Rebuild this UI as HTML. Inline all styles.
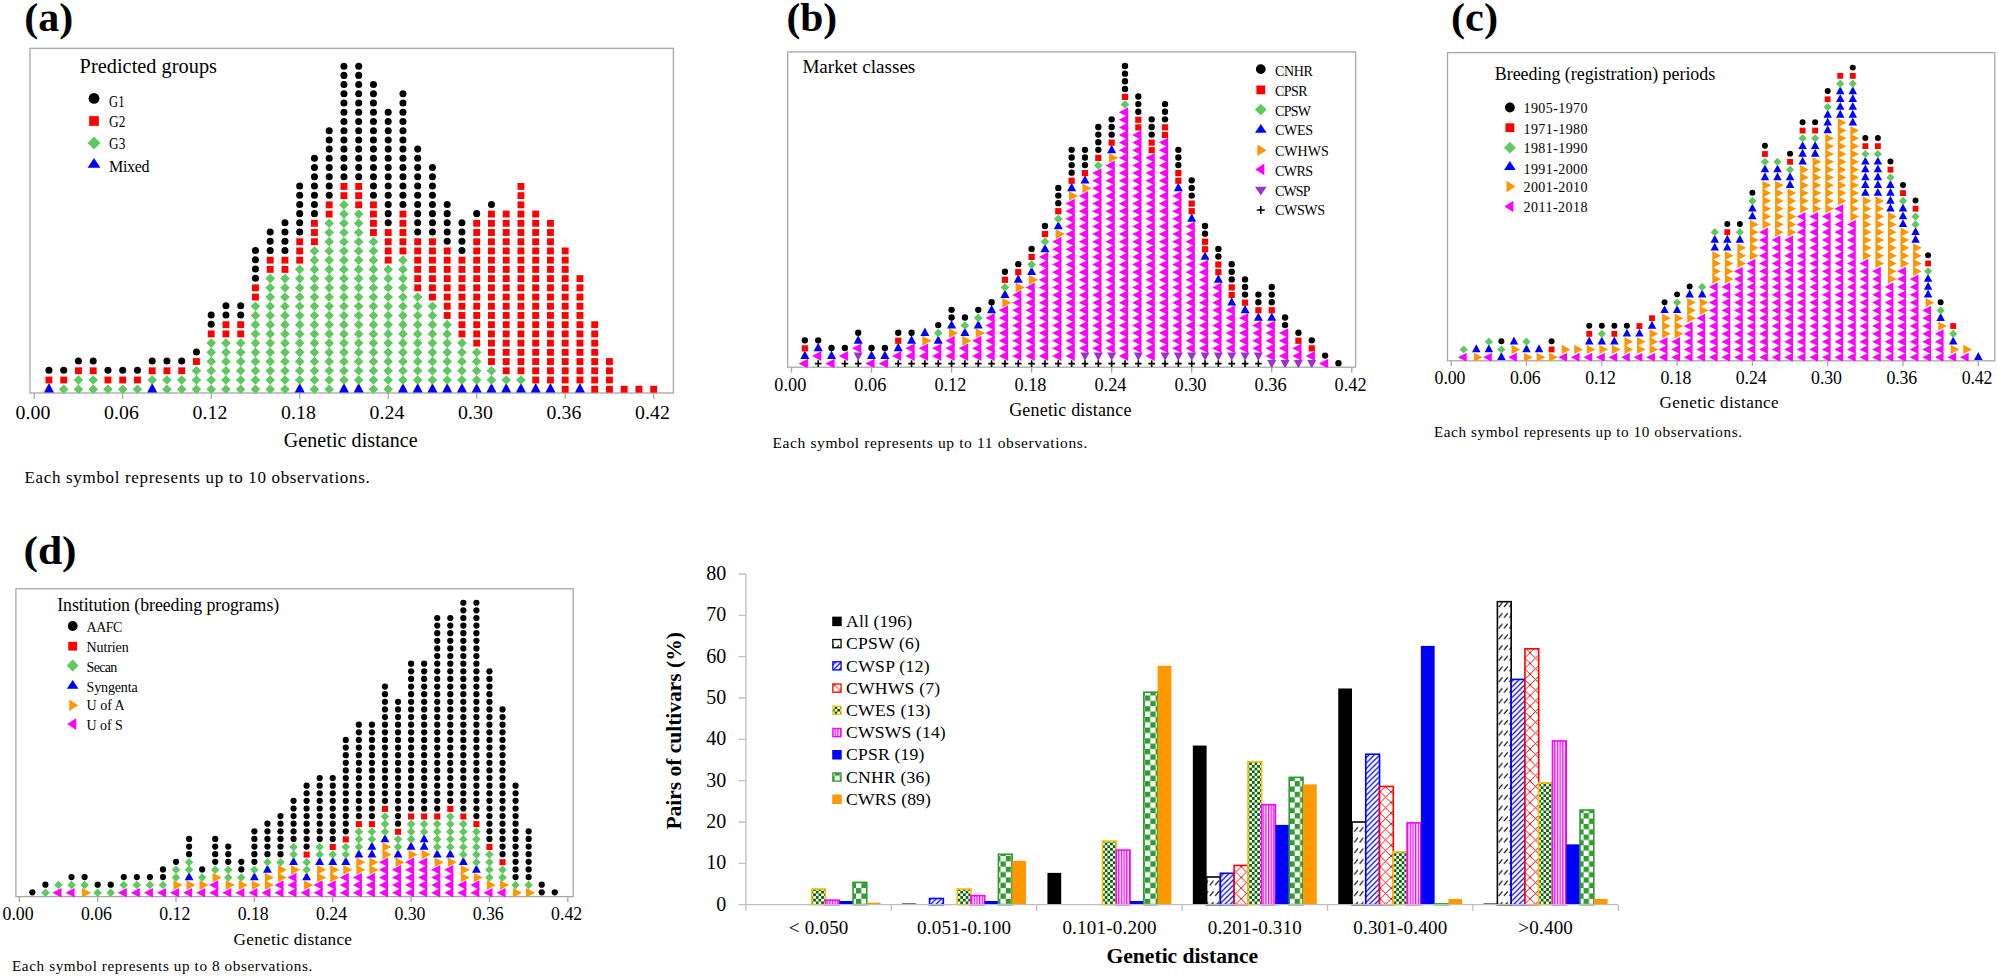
<!DOCTYPE html>
<html lang="en"><head><meta charset="utf-8"><title>Genetic distance dot plots</title>
<style>html,body{margin:0;padding:0;background:#fff}body{width:1998px;height:978px;overflow:hidden}svg{display:block}text{font-family:"Liberation Serif","Times New Roman",serif;fill:#000}</style>
</head><body>
<svg width="1998" height="978" viewBox="0 0 1998 978">
<rect width="1998" height="978" fill="#fff"/>
<g id="panel-a">
<rect x="30" y="48.3" width="643.4" height="344.7" fill="none" stroke="#a8a8a8" stroke-width="1.3"/>
<text x="15.5" y="419" font-size="19.8" textLength="35" lengthAdjust="spacing">0.00</text>
<text x="104" y="419" font-size="19.8" textLength="35" lengthAdjust="spacing">0.06</text>
<text x="192.5" y="419" font-size="19.8" textLength="35" lengthAdjust="spacing">0.12</text>
<text x="281" y="419" font-size="19.8" textLength="35" lengthAdjust="spacing">0.18</text>
<text x="369.5" y="419" font-size="19.8" textLength="35" lengthAdjust="spacing">0.24</text>
<text x="458" y="419" font-size="19.8" textLength="35" lengthAdjust="spacing">0.30</text>
<text x="546.5" y="419" font-size="19.8" textLength="35" lengthAdjust="spacing">0.36</text>
<text x="635" y="419" font-size="19.8" textLength="35" lengthAdjust="spacing">0.42</text>
<path d="M34.2 393v6.1M122.7 393v6.1M211.2 393v6.1M299.7 393v6.1M388.2 393v6.1M476.7 393v6.1M565.2 393v6.1M653.7 393v6.1" stroke="#a8a8a8" stroke-width="1.3" fill="none"/>
<clipPath id="clip-a"><rect x="30" y="48.3" width="643.4" height="345"/></clipPath>
<g clip-path="url(#clip-a)">
<polygon points="48.95,383.12 53.93,392.41 43.97,392.41" fill="#0000ff"/>
<rect x="45.52" y="376.55" width="6.86" height="6.86" fill="#ff0000"/>
<circle cx="48.95" cy="370.32" r="3.51" fill="#000000"/>
<polygon points="58.89,389.2 63.7,384.39 68.51,389.2 63.7,394.01" fill="#5fc85f"/>
<rect x="60.27" y="376.55" width="6.86" height="6.86" fill="#ff0000"/>
<circle cx="63.7" cy="370.32" r="3.51" fill="#000000"/>
<polygon points="73.64,389.2 78.45,384.39 83.26,389.2 78.45,394.01" fill="#5fc85f"/>
<polygon points="73.64,379.98 78.45,375.17 83.26,379.98 78.45,384.79" fill="#5fc85f"/>
<rect x="75.02" y="367.34" width="6.86" height="6.86" fill="#ff0000"/>
<circle cx="78.45" cy="361.11" r="3.51" fill="#000000"/>
<polygon points="88.39,389.2 93.2,384.39 98.01,389.2 93.2,394.01" fill="#5fc85f"/>
<polygon points="88.39,379.98 93.2,375.17 98.01,379.98 93.2,384.79" fill="#5fc85f"/>
<rect x="89.77" y="367.34" width="6.86" height="6.86" fill="#ff0000"/>
<circle cx="93.2" cy="361.11" r="3.51" fill="#000000"/>
<polygon points="103.14,389.2 107.95,384.39 112.76,389.2 107.95,394.01" fill="#5fc85f"/>
<rect x="104.52" y="376.55" width="6.86" height="6.86" fill="#ff0000"/>
<circle cx="107.95" cy="370.32" r="3.51" fill="#000000"/>
<polygon points="117.89,389.2 122.7,384.39 127.51,389.2 122.7,394.01" fill="#5fc85f"/>
<rect x="119.27" y="376.55" width="6.86" height="6.86" fill="#ff0000"/>
<circle cx="122.7" cy="370.32" r="3.51" fill="#000000"/>
<polygon points="132.64,389.2 137.45,384.39 142.26,389.2 137.45,394.01" fill="#5fc85f"/>
<rect x="134.02" y="376.55" width="6.86" height="6.86" fill="#ff0000"/>
<circle cx="137.45" cy="370.32" r="3.51" fill="#000000"/>
<polygon points="152.2,383.12 157.18,392.41 147.22,392.41" fill="#0000ff"/>
<polygon points="147.39,379.98 152.2,375.17 157.01,379.98 152.2,384.79" fill="#5fc85f"/>
<rect x="148.77" y="367.34" width="6.86" height="6.86" fill="#ff0000"/>
<circle cx="152.2" cy="361.11" r="3.51" fill="#000000"/>
<polygon points="162.14,389.2 166.95,384.39 171.76,389.2 166.95,394.01" fill="#5fc85f"/>
<polygon points="162.14,379.98 166.95,375.17 171.76,379.98 166.95,384.79" fill="#5fc85f"/>
<rect x="163.52" y="367.34" width="6.86" height="6.86" fill="#ff0000"/>
<circle cx="166.95" cy="361.11" r="3.51" fill="#000000"/>
<polygon points="176.89,389.2 181.7,384.39 186.51,389.2 181.7,394.01" fill="#5fc85f"/>
<polygon points="176.89,379.98 181.7,375.17 186.51,379.98 181.7,384.79" fill="#5fc85f"/>
<rect x="178.27" y="367.34" width="6.86" height="6.86" fill="#ff0000"/>
<circle cx="181.7" cy="361.11" r="3.51" fill="#000000"/>
<polygon points="191.64,389.2 196.45,384.39 201.26,389.2 196.45,394.01" fill="#5fc85f"/>
<polygon points="191.64,379.98 196.45,375.17 201.26,379.98 196.45,384.79" fill="#5fc85f"/>
<polygon points="191.64,370.77 196.45,365.95 201.26,370.77 196.45,375.58" fill="#5fc85f"/>
<rect x="193.02" y="358.12" width="6.86" height="6.86" fill="#ff0000"/>
<circle cx="196.45" cy="351.89" r="3.51" fill="#000000"/>
<polygon points="206.39,389.2 211.2,384.39 216.01,389.2 211.2,394.01" fill="#5fc85f"/>
<polygon points="206.39,379.98 211.2,375.17 216.01,379.98 211.2,384.79" fill="#5fc85f"/>
<polygon points="206.39,370.77 211.2,365.95 216.01,370.77 211.2,375.58" fill="#5fc85f"/>
<polygon points="206.39,361.55 211.2,356.74 216.01,361.55 211.2,366.36" fill="#5fc85f"/>
<polygon points="206.39,352.33 211.2,347.52 216.01,352.33 211.2,357.14" fill="#5fc85f"/>
<polygon points="206.39,343.12 211.2,338.3 216.01,343.12 211.2,347.93" fill="#5fc85f"/>
<rect x="207.77" y="330.47" width="6.86" height="6.86" fill="#ff0000"/>
<circle cx="211.2" cy="324.24" r="3.51" fill="#000000"/>
<circle cx="211.2" cy="315.02" r="3.51" fill="#000000"/>
<polygon points="221.14,389.2 225.95,384.39 230.76,389.2 225.95,394.01" fill="#5fc85f"/>
<polygon points="221.14,379.98 225.95,375.17 230.76,379.98 225.95,384.79" fill="#5fc85f"/>
<polygon points="221.14,370.77 225.95,365.95 230.76,370.77 225.95,375.58" fill="#5fc85f"/>
<polygon points="221.14,361.55 225.95,356.74 230.76,361.55 225.95,366.36" fill="#5fc85f"/>
<polygon points="221.14,352.33 225.95,347.52 230.76,352.33 225.95,357.14" fill="#5fc85f"/>
<polygon points="221.14,343.12 225.95,338.3 230.76,343.12 225.95,347.93" fill="#5fc85f"/>
<rect x="222.52" y="330.47" width="6.86" height="6.86" fill="#ff0000"/>
<rect x="222.52" y="321.25" width="6.86" height="6.86" fill="#ff0000"/>
<circle cx="225.95" cy="315.02" r="3.51" fill="#000000"/>
<circle cx="225.95" cy="305.8" r="3.51" fill="#000000"/>
<polygon points="235.89,389.2 240.7,384.39 245.51,389.2 240.7,394.01" fill="#5fc85f"/>
<polygon points="235.89,379.98 240.7,375.17 245.51,379.98 240.7,384.79" fill="#5fc85f"/>
<polygon points="235.89,370.77 240.7,365.95 245.51,370.77 240.7,375.58" fill="#5fc85f"/>
<polygon points="235.89,361.55 240.7,356.74 245.51,361.55 240.7,366.36" fill="#5fc85f"/>
<polygon points="235.89,352.33 240.7,347.52 245.51,352.33 240.7,357.14" fill="#5fc85f"/>
<polygon points="235.89,343.12 240.7,338.3 245.51,343.12 240.7,347.93" fill="#5fc85f"/>
<rect x="237.27" y="330.47" width="6.86" height="6.86" fill="#ff0000"/>
<rect x="237.27" y="321.25" width="6.86" height="6.86" fill="#ff0000"/>
<circle cx="240.7" cy="315.02" r="3.51" fill="#000000"/>
<circle cx="240.7" cy="305.8" r="3.51" fill="#000000"/>
<polygon points="250.64,389.2 255.45,384.39 260.26,389.2 255.45,394.01" fill="#5fc85f"/>
<polygon points="250.64,379.98 255.45,375.17 260.26,379.98 255.45,384.79" fill="#5fc85f"/>
<polygon points="250.64,370.77 255.45,365.95 260.26,370.77 255.45,375.58" fill="#5fc85f"/>
<polygon points="250.64,361.55 255.45,356.74 260.26,361.55 255.45,366.36" fill="#5fc85f"/>
<polygon points="250.64,352.33 255.45,347.52 260.26,352.33 255.45,357.14" fill="#5fc85f"/>
<polygon points="250.64,343.12 255.45,338.3 260.26,343.12 255.45,347.93" fill="#5fc85f"/>
<polygon points="250.64,333.9 255.45,329.09 260.26,333.9 255.45,338.71" fill="#5fc85f"/>
<polygon points="250.64,324.68 255.45,319.87 260.26,324.68 255.45,329.49" fill="#5fc85f"/>
<polygon points="250.64,315.46 255.45,310.65 260.26,315.46 255.45,320.28" fill="#5fc85f"/>
<polygon points="250.64,306.25 255.45,301.44 260.26,306.25 255.45,311.06" fill="#5fc85f"/>
<rect x="252.02" y="293.6" width="6.86" height="6.86" fill="#ff0000"/>
<rect x="252.02" y="284.38" width="6.86" height="6.86" fill="#ff0000"/>
<circle cx="255.45" cy="278.15" r="3.51" fill="#000000"/>
<circle cx="255.45" cy="268.94" r="3.51" fill="#000000"/>
<circle cx="255.45" cy="259.72" r="3.51" fill="#000000"/>
<circle cx="255.45" cy="250.5" r="3.51" fill="#000000"/>
<polygon points="265.39,389.2 270.2,384.39 275.01,389.2 270.2,394.01" fill="#5fc85f"/>
<polygon points="265.39,379.98 270.2,375.17 275.01,379.98 270.2,384.79" fill="#5fc85f"/>
<polygon points="265.39,370.77 270.2,365.95 275.01,370.77 270.2,375.58" fill="#5fc85f"/>
<polygon points="265.39,361.55 270.2,356.74 275.01,361.55 270.2,366.36" fill="#5fc85f"/>
<polygon points="265.39,352.33 270.2,347.52 275.01,352.33 270.2,357.14" fill="#5fc85f"/>
<polygon points="265.39,343.12 270.2,338.3 275.01,343.12 270.2,347.93" fill="#5fc85f"/>
<polygon points="265.39,333.9 270.2,329.09 275.01,333.9 270.2,338.71" fill="#5fc85f"/>
<polygon points="265.39,324.68 270.2,319.87 275.01,324.68 270.2,329.49" fill="#5fc85f"/>
<polygon points="265.39,315.46 270.2,310.65 275.01,315.46 270.2,320.28" fill="#5fc85f"/>
<polygon points="265.39,306.25 270.2,301.44 275.01,306.25 270.2,311.06" fill="#5fc85f"/>
<polygon points="265.39,297.03 270.2,292.22 275.01,297.03 270.2,301.84" fill="#5fc85f"/>
<polygon points="265.39,287.81 270.2,283 275.01,287.81 270.2,292.62" fill="#5fc85f"/>
<polygon points="265.39,278.6 270.2,273.78 275.01,278.6 270.2,283.41" fill="#5fc85f"/>
<rect x="266.77" y="265.95" width="6.86" height="6.86" fill="#ff0000"/>
<rect x="266.77" y="256.73" width="6.86" height="6.86" fill="#ff0000"/>
<circle cx="270.2" cy="250.5" r="3.51" fill="#000000"/>
<circle cx="270.2" cy="241.29" r="3.51" fill="#000000"/>
<circle cx="270.2" cy="232.07" r="3.51" fill="#000000"/>
<polygon points="280.14,389.2 284.95,384.39 289.76,389.2 284.95,394.01" fill="#5fc85f"/>
<polygon points="280.14,379.98 284.95,375.17 289.76,379.98 284.95,384.79" fill="#5fc85f"/>
<polygon points="280.14,370.77 284.95,365.95 289.76,370.77 284.95,375.58" fill="#5fc85f"/>
<polygon points="280.14,361.55 284.95,356.74 289.76,361.55 284.95,366.36" fill="#5fc85f"/>
<polygon points="280.14,352.33 284.95,347.52 289.76,352.33 284.95,357.14" fill="#5fc85f"/>
<polygon points="280.14,343.12 284.95,338.3 289.76,343.12 284.95,347.93" fill="#5fc85f"/>
<polygon points="280.14,333.9 284.95,329.09 289.76,333.9 284.95,338.71" fill="#5fc85f"/>
<polygon points="280.14,324.68 284.95,319.87 289.76,324.68 284.95,329.49" fill="#5fc85f"/>
<polygon points="280.14,315.46 284.95,310.65 289.76,315.46 284.95,320.28" fill="#5fc85f"/>
<polygon points="280.14,306.25 284.95,301.44 289.76,306.25 284.95,311.06" fill="#5fc85f"/>
<polygon points="280.14,297.03 284.95,292.22 289.76,297.03 284.95,301.84" fill="#5fc85f"/>
<polygon points="280.14,287.81 284.95,283 289.76,287.81 284.95,292.62" fill="#5fc85f"/>
<polygon points="280.14,278.6 284.95,273.78 289.76,278.6 284.95,283.41" fill="#5fc85f"/>
<rect x="281.52" y="265.95" width="6.86" height="6.86" fill="#ff0000"/>
<rect x="281.52" y="256.73" width="6.86" height="6.86" fill="#ff0000"/>
<circle cx="284.95" cy="250.5" r="3.51" fill="#000000"/>
<circle cx="284.95" cy="241.29" r="3.51" fill="#000000"/>
<circle cx="284.95" cy="232.07" r="3.51" fill="#000000"/>
<circle cx="284.95" cy="222.85" r="3.51" fill="#000000"/>
<polygon points="299.7,383.12 304.68,392.41 294.72,392.41" fill="#0000ff"/>
<polygon points="294.89,379.98 299.7,375.17 304.51,379.98 299.7,384.79" fill="#5fc85f"/>
<polygon points="294.89,370.77 299.7,365.95 304.51,370.77 299.7,375.58" fill="#5fc85f"/>
<polygon points="294.89,361.55 299.7,356.74 304.51,361.55 299.7,366.36" fill="#5fc85f"/>
<polygon points="294.89,352.33 299.7,347.52 304.51,352.33 299.7,357.14" fill="#5fc85f"/>
<polygon points="294.89,343.12 299.7,338.3 304.51,343.12 299.7,347.93" fill="#5fc85f"/>
<polygon points="294.89,333.9 299.7,329.09 304.51,333.9 299.7,338.71" fill="#5fc85f"/>
<polygon points="294.89,324.68 299.7,319.87 304.51,324.68 299.7,329.49" fill="#5fc85f"/>
<polygon points="294.89,315.46 299.7,310.65 304.51,315.46 299.7,320.28" fill="#5fc85f"/>
<polygon points="294.89,306.25 299.7,301.44 304.51,306.25 299.7,311.06" fill="#5fc85f"/>
<polygon points="294.89,297.03 299.7,292.22 304.51,297.03 299.7,301.84" fill="#5fc85f"/>
<polygon points="294.89,287.81 299.7,283 304.51,287.81 299.7,292.62" fill="#5fc85f"/>
<polygon points="294.89,278.6 299.7,273.78 304.51,278.6 299.7,283.41" fill="#5fc85f"/>
<polygon points="294.89,269.38 299.7,264.57 304.51,269.38 299.7,274.19" fill="#5fc85f"/>
<rect x="296.27" y="256.73" width="6.86" height="6.86" fill="#ff0000"/>
<rect x="296.27" y="247.52" width="6.86" height="6.86" fill="#ff0000"/>
<rect x="296.27" y="238.3" width="6.86" height="6.86" fill="#ff0000"/>
<circle cx="299.7" cy="232.07" r="3.51" fill="#000000"/>
<circle cx="299.7" cy="222.85" r="3.51" fill="#000000"/>
<circle cx="299.7" cy="213.63" r="3.51" fill="#000000"/>
<circle cx="299.7" cy="204.42" r="3.51" fill="#000000"/>
<circle cx="299.7" cy="195.2" r="3.51" fill="#000000"/>
<circle cx="299.7" cy="185.98" r="3.51" fill="#000000"/>
<polygon points="309.64,389.2 314.45,384.39 319.26,389.2 314.45,394.01" fill="#5fc85f"/>
<polygon points="309.64,379.98 314.45,375.17 319.26,379.98 314.45,384.79" fill="#5fc85f"/>
<polygon points="309.64,370.77 314.45,365.95 319.26,370.77 314.45,375.58" fill="#5fc85f"/>
<polygon points="309.64,361.55 314.45,356.74 319.26,361.55 314.45,366.36" fill="#5fc85f"/>
<polygon points="309.64,352.33 314.45,347.52 319.26,352.33 314.45,357.14" fill="#5fc85f"/>
<polygon points="309.64,343.12 314.45,338.3 319.26,343.12 314.45,347.93" fill="#5fc85f"/>
<polygon points="309.64,333.9 314.45,329.09 319.26,333.9 314.45,338.71" fill="#5fc85f"/>
<polygon points="309.64,324.68 314.45,319.87 319.26,324.68 314.45,329.49" fill="#5fc85f"/>
<polygon points="309.64,315.46 314.45,310.65 319.26,315.46 314.45,320.28" fill="#5fc85f"/>
<polygon points="309.64,306.25 314.45,301.44 319.26,306.25 314.45,311.06" fill="#5fc85f"/>
<polygon points="309.64,297.03 314.45,292.22 319.26,297.03 314.45,301.84" fill="#5fc85f"/>
<polygon points="309.64,287.81 314.45,283 319.26,287.81 314.45,292.62" fill="#5fc85f"/>
<polygon points="309.64,278.6 314.45,273.78 319.26,278.6 314.45,283.41" fill="#5fc85f"/>
<polygon points="309.64,269.38 314.45,264.57 319.26,269.38 314.45,274.19" fill="#5fc85f"/>
<polygon points="309.64,260.16 314.45,255.35 319.26,260.16 314.45,264.97" fill="#5fc85f"/>
<polygon points="309.64,250.94 314.45,246.13 319.26,250.94 314.45,255.76" fill="#5fc85f"/>
<rect x="311.02" y="238.3" width="6.86" height="6.86" fill="#ff0000"/>
<rect x="311.02" y="229.08" width="6.86" height="6.86" fill="#ff0000"/>
<rect x="311.02" y="219.87" width="6.86" height="6.86" fill="#ff0000"/>
<circle cx="314.45" cy="213.63" r="3.51" fill="#000000"/>
<circle cx="314.45" cy="204.42" r="3.51" fill="#000000"/>
<circle cx="314.45" cy="195.2" r="3.51" fill="#000000"/>
<circle cx="314.45" cy="185.98" r="3.51" fill="#000000"/>
<circle cx="314.45" cy="176.77" r="3.51" fill="#000000"/>
<circle cx="314.45" cy="167.55" r="3.51" fill="#000000"/>
<circle cx="314.45" cy="158.33" r="3.51" fill="#000000"/>
<polygon points="324.39,389.2 329.2,384.39 334.01,389.2 329.2,394.01" fill="#5fc85f"/>
<polygon points="324.39,379.98 329.2,375.17 334.01,379.98 329.2,384.79" fill="#5fc85f"/>
<polygon points="324.39,370.77 329.2,365.95 334.01,370.77 329.2,375.58" fill="#5fc85f"/>
<polygon points="324.39,361.55 329.2,356.74 334.01,361.55 329.2,366.36" fill="#5fc85f"/>
<polygon points="324.39,352.33 329.2,347.52 334.01,352.33 329.2,357.14" fill="#5fc85f"/>
<polygon points="324.39,343.12 329.2,338.3 334.01,343.12 329.2,347.93" fill="#5fc85f"/>
<polygon points="324.39,333.9 329.2,329.09 334.01,333.9 329.2,338.71" fill="#5fc85f"/>
<polygon points="324.39,324.68 329.2,319.87 334.01,324.68 329.2,329.49" fill="#5fc85f"/>
<polygon points="324.39,315.46 329.2,310.65 334.01,315.46 329.2,320.28" fill="#5fc85f"/>
<polygon points="324.39,306.25 329.2,301.44 334.01,306.25 329.2,311.06" fill="#5fc85f"/>
<polygon points="324.39,297.03 329.2,292.22 334.01,297.03 329.2,301.84" fill="#5fc85f"/>
<polygon points="324.39,287.81 329.2,283 334.01,287.81 329.2,292.62" fill="#5fc85f"/>
<polygon points="324.39,278.6 329.2,273.78 334.01,278.6 329.2,283.41" fill="#5fc85f"/>
<polygon points="324.39,269.38 329.2,264.57 334.01,269.38 329.2,274.19" fill="#5fc85f"/>
<polygon points="324.39,260.16 329.2,255.35 334.01,260.16 329.2,264.97" fill="#5fc85f"/>
<polygon points="324.39,250.94 329.2,246.13 334.01,250.94 329.2,255.76" fill="#5fc85f"/>
<polygon points="324.39,241.73 329.2,236.92 334.01,241.73 329.2,246.54" fill="#5fc85f"/>
<polygon points="324.39,232.51 329.2,227.7 334.01,232.51 329.2,237.32" fill="#5fc85f"/>
<polygon points="324.39,223.29 329.2,218.48 334.01,223.29 329.2,228.11" fill="#5fc85f"/>
<rect x="325.77" y="210.65" width="6.86" height="6.86" fill="#ff0000"/>
<rect x="325.77" y="201.43" width="6.86" height="6.86" fill="#ff0000"/>
<circle cx="329.2" cy="195.2" r="3.51" fill="#000000"/>
<circle cx="329.2" cy="185.98" r="3.51" fill="#000000"/>
<circle cx="329.2" cy="176.77" r="3.51" fill="#000000"/>
<circle cx="329.2" cy="167.55" r="3.51" fill="#000000"/>
<circle cx="329.2" cy="158.33" r="3.51" fill="#000000"/>
<circle cx="329.2" cy="149.12" r="3.51" fill="#000000"/>
<circle cx="329.2" cy="139.9" r="3.51" fill="#000000"/>
<circle cx="329.2" cy="130.68" r="3.51" fill="#000000"/>
<polygon points="343.95,383.12 348.93,392.41 338.97,392.41" fill="#0000ff"/>
<polygon points="339.14,379.98 343.95,375.17 348.76,379.98 343.95,384.79" fill="#5fc85f"/>
<polygon points="339.14,370.77 343.95,365.95 348.76,370.77 343.95,375.58" fill="#5fc85f"/>
<polygon points="339.14,361.55 343.95,356.74 348.76,361.55 343.95,366.36" fill="#5fc85f"/>
<polygon points="339.14,352.33 343.95,347.52 348.76,352.33 343.95,357.14" fill="#5fc85f"/>
<polygon points="339.14,343.12 343.95,338.3 348.76,343.12 343.95,347.93" fill="#5fc85f"/>
<polygon points="339.14,333.9 343.95,329.09 348.76,333.9 343.95,338.71" fill="#5fc85f"/>
<polygon points="339.14,324.68 343.95,319.87 348.76,324.68 343.95,329.49" fill="#5fc85f"/>
<polygon points="339.14,315.46 343.95,310.65 348.76,315.46 343.95,320.28" fill="#5fc85f"/>
<polygon points="339.14,306.25 343.95,301.44 348.76,306.25 343.95,311.06" fill="#5fc85f"/>
<polygon points="339.14,297.03 343.95,292.22 348.76,297.03 343.95,301.84" fill="#5fc85f"/>
<polygon points="339.14,287.81 343.95,283 348.76,287.81 343.95,292.62" fill="#5fc85f"/>
<polygon points="339.14,278.6 343.95,273.78 348.76,278.6 343.95,283.41" fill="#5fc85f"/>
<polygon points="339.14,269.38 343.95,264.57 348.76,269.38 343.95,274.19" fill="#5fc85f"/>
<polygon points="339.14,260.16 343.95,255.35 348.76,260.16 343.95,264.97" fill="#5fc85f"/>
<polygon points="339.14,250.94 343.95,246.13 348.76,250.94 343.95,255.76" fill="#5fc85f"/>
<polygon points="339.14,241.73 343.95,236.92 348.76,241.73 343.95,246.54" fill="#5fc85f"/>
<polygon points="339.14,232.51 343.95,227.7 348.76,232.51 343.95,237.32" fill="#5fc85f"/>
<polygon points="339.14,223.29 343.95,218.48 348.76,223.29 343.95,228.11" fill="#5fc85f"/>
<polygon points="339.14,214.08 343.95,209.27 348.76,214.08 343.95,218.89" fill="#5fc85f"/>
<polygon points="339.14,204.86 343.95,200.05 348.76,204.86 343.95,209.67" fill="#5fc85f"/>
<rect x="340.52" y="192.21" width="6.86" height="6.86" fill="#ff0000"/>
<rect x="340.52" y="183" width="6.86" height="6.86" fill="#ff0000"/>
<circle cx="343.95" cy="176.77" r="3.51" fill="#000000"/>
<circle cx="343.95" cy="167.55" r="3.51" fill="#000000"/>
<circle cx="343.95" cy="158.33" r="3.51" fill="#000000"/>
<circle cx="343.95" cy="149.12" r="3.51" fill="#000000"/>
<circle cx="343.95" cy="139.9" r="3.51" fill="#000000"/>
<circle cx="343.95" cy="130.68" r="3.51" fill="#000000"/>
<circle cx="343.95" cy="121.46" r="3.51" fill="#000000"/>
<circle cx="343.95" cy="112.25" r="3.51" fill="#000000"/>
<circle cx="343.95" cy="103.03" r="3.51" fill="#000000"/>
<circle cx="343.95" cy="93.81" r="3.51" fill="#000000"/>
<circle cx="343.95" cy="84.6" r="3.51" fill="#000000"/>
<circle cx="343.95" cy="75.38" r="3.51" fill="#000000"/>
<circle cx="343.95" cy="66.16" r="3.51" fill="#000000"/>
<polygon points="358.7,383.12 363.68,392.41 353.72,392.41" fill="#0000ff"/>
<polygon points="353.89,379.98 358.7,375.17 363.51,379.98 358.7,384.79" fill="#5fc85f"/>
<polygon points="353.89,370.77 358.7,365.95 363.51,370.77 358.7,375.58" fill="#5fc85f"/>
<polygon points="353.89,361.55 358.7,356.74 363.51,361.55 358.7,366.36" fill="#5fc85f"/>
<polygon points="353.89,352.33 358.7,347.52 363.51,352.33 358.7,357.14" fill="#5fc85f"/>
<polygon points="353.89,343.12 358.7,338.3 363.51,343.12 358.7,347.93" fill="#5fc85f"/>
<polygon points="353.89,333.9 358.7,329.09 363.51,333.9 358.7,338.71" fill="#5fc85f"/>
<polygon points="353.89,324.68 358.7,319.87 363.51,324.68 358.7,329.49" fill="#5fc85f"/>
<polygon points="353.89,315.46 358.7,310.65 363.51,315.46 358.7,320.28" fill="#5fc85f"/>
<polygon points="353.89,306.25 358.7,301.44 363.51,306.25 358.7,311.06" fill="#5fc85f"/>
<polygon points="353.89,297.03 358.7,292.22 363.51,297.03 358.7,301.84" fill="#5fc85f"/>
<polygon points="353.89,287.81 358.7,283 363.51,287.81 358.7,292.62" fill="#5fc85f"/>
<polygon points="353.89,278.6 358.7,273.78 363.51,278.6 358.7,283.41" fill="#5fc85f"/>
<polygon points="353.89,269.38 358.7,264.57 363.51,269.38 358.7,274.19" fill="#5fc85f"/>
<polygon points="353.89,260.16 358.7,255.35 363.51,260.16 358.7,264.97" fill="#5fc85f"/>
<polygon points="353.89,250.94 358.7,246.13 363.51,250.94 358.7,255.76" fill="#5fc85f"/>
<polygon points="353.89,241.73 358.7,236.92 363.51,241.73 358.7,246.54" fill="#5fc85f"/>
<polygon points="353.89,232.51 358.7,227.7 363.51,232.51 358.7,237.32" fill="#5fc85f"/>
<polygon points="353.89,223.29 358.7,218.48 363.51,223.29 358.7,228.11" fill="#5fc85f"/>
<polygon points="353.89,214.08 358.7,209.27 363.51,214.08 358.7,218.89" fill="#5fc85f"/>
<rect x="355.27" y="201.43" width="6.86" height="6.86" fill="#ff0000"/>
<rect x="355.27" y="192.21" width="6.86" height="6.86" fill="#ff0000"/>
<rect x="355.27" y="183" width="6.86" height="6.86" fill="#ff0000"/>
<circle cx="358.7" cy="176.77" r="3.51" fill="#000000"/>
<circle cx="358.7" cy="167.55" r="3.51" fill="#000000"/>
<circle cx="358.7" cy="158.33" r="3.51" fill="#000000"/>
<circle cx="358.7" cy="149.12" r="3.51" fill="#000000"/>
<circle cx="358.7" cy="139.9" r="3.51" fill="#000000"/>
<circle cx="358.7" cy="130.68" r="3.51" fill="#000000"/>
<circle cx="358.7" cy="121.46" r="3.51" fill="#000000"/>
<circle cx="358.7" cy="112.25" r="3.51" fill="#000000"/>
<circle cx="358.7" cy="103.03" r="3.51" fill="#000000"/>
<circle cx="358.7" cy="93.81" r="3.51" fill="#000000"/>
<circle cx="358.7" cy="84.6" r="3.51" fill="#000000"/>
<circle cx="358.7" cy="75.38" r="3.51" fill="#000000"/>
<circle cx="358.7" cy="66.16" r="3.51" fill="#000000"/>
<polygon points="368.64,389.2 373.45,384.39 378.26,389.2 373.45,394.01" fill="#5fc85f"/>
<polygon points="368.64,379.98 373.45,375.17 378.26,379.98 373.45,384.79" fill="#5fc85f"/>
<polygon points="368.64,370.77 373.45,365.95 378.26,370.77 373.45,375.58" fill="#5fc85f"/>
<polygon points="368.64,361.55 373.45,356.74 378.26,361.55 373.45,366.36" fill="#5fc85f"/>
<polygon points="368.64,352.33 373.45,347.52 378.26,352.33 373.45,357.14" fill="#5fc85f"/>
<polygon points="368.64,343.12 373.45,338.3 378.26,343.12 373.45,347.93" fill="#5fc85f"/>
<polygon points="368.64,333.9 373.45,329.09 378.26,333.9 373.45,338.71" fill="#5fc85f"/>
<polygon points="368.64,324.68 373.45,319.87 378.26,324.68 373.45,329.49" fill="#5fc85f"/>
<polygon points="368.64,315.46 373.45,310.65 378.26,315.46 373.45,320.28" fill="#5fc85f"/>
<polygon points="368.64,306.25 373.45,301.44 378.26,306.25 373.45,311.06" fill="#5fc85f"/>
<polygon points="368.64,297.03 373.45,292.22 378.26,297.03 373.45,301.84" fill="#5fc85f"/>
<polygon points="368.64,287.81 373.45,283 378.26,287.81 373.45,292.62" fill="#5fc85f"/>
<polygon points="368.64,278.6 373.45,273.78 378.26,278.6 373.45,283.41" fill="#5fc85f"/>
<polygon points="368.64,269.38 373.45,264.57 378.26,269.38 373.45,274.19" fill="#5fc85f"/>
<polygon points="368.64,260.16 373.45,255.35 378.26,260.16 373.45,264.97" fill="#5fc85f"/>
<polygon points="368.64,250.94 373.45,246.13 378.26,250.94 373.45,255.76" fill="#5fc85f"/>
<polygon points="368.64,241.73 373.45,236.92 378.26,241.73 373.45,246.54" fill="#5fc85f"/>
<rect x="370.02" y="229.08" width="6.86" height="6.86" fill="#ff0000"/>
<rect x="370.02" y="219.87" width="6.86" height="6.86" fill="#ff0000"/>
<rect x="370.02" y="210.65" width="6.86" height="6.86" fill="#ff0000"/>
<rect x="370.02" y="201.43" width="6.86" height="6.86" fill="#ff0000"/>
<circle cx="373.45" cy="195.2" r="3.51" fill="#000000"/>
<circle cx="373.45" cy="185.98" r="3.51" fill="#000000"/>
<circle cx="373.45" cy="176.77" r="3.51" fill="#000000"/>
<circle cx="373.45" cy="167.55" r="3.51" fill="#000000"/>
<circle cx="373.45" cy="158.33" r="3.51" fill="#000000"/>
<circle cx="373.45" cy="149.12" r="3.51" fill="#000000"/>
<circle cx="373.45" cy="139.9" r="3.51" fill="#000000"/>
<circle cx="373.45" cy="130.68" r="3.51" fill="#000000"/>
<circle cx="373.45" cy="121.46" r="3.51" fill="#000000"/>
<circle cx="373.45" cy="112.25" r="3.51" fill="#000000"/>
<circle cx="373.45" cy="103.03" r="3.51" fill="#000000"/>
<circle cx="373.45" cy="93.81" r="3.51" fill="#000000"/>
<circle cx="373.45" cy="84.6" r="3.51" fill="#000000"/>
<polygon points="383.39,389.2 388.2,384.39 393.01,389.2 388.2,394.01" fill="#5fc85f"/>
<polygon points="383.39,379.98 388.2,375.17 393.01,379.98 388.2,384.79" fill="#5fc85f"/>
<polygon points="383.39,370.77 388.2,365.95 393.01,370.77 388.2,375.58" fill="#5fc85f"/>
<polygon points="383.39,361.55 388.2,356.74 393.01,361.55 388.2,366.36" fill="#5fc85f"/>
<polygon points="383.39,352.33 388.2,347.52 393.01,352.33 388.2,357.14" fill="#5fc85f"/>
<polygon points="383.39,343.12 388.2,338.3 393.01,343.12 388.2,347.93" fill="#5fc85f"/>
<polygon points="383.39,333.9 388.2,329.09 393.01,333.9 388.2,338.71" fill="#5fc85f"/>
<polygon points="383.39,324.68 388.2,319.87 393.01,324.68 388.2,329.49" fill="#5fc85f"/>
<polygon points="383.39,315.46 388.2,310.65 393.01,315.46 388.2,320.28" fill="#5fc85f"/>
<polygon points="383.39,306.25 388.2,301.44 393.01,306.25 388.2,311.06" fill="#5fc85f"/>
<polygon points="383.39,297.03 388.2,292.22 393.01,297.03 388.2,301.84" fill="#5fc85f"/>
<polygon points="383.39,287.81 388.2,283 393.01,287.81 388.2,292.62" fill="#5fc85f"/>
<polygon points="383.39,278.6 388.2,273.78 393.01,278.6 388.2,283.41" fill="#5fc85f"/>
<polygon points="383.39,269.38 388.2,264.57 393.01,269.38 388.2,274.19" fill="#5fc85f"/>
<rect x="384.77" y="256.73" width="6.86" height="6.86" fill="#ff0000"/>
<rect x="384.77" y="247.52" width="6.86" height="6.86" fill="#ff0000"/>
<rect x="384.77" y="238.3" width="6.86" height="6.86" fill="#ff0000"/>
<rect x="384.77" y="229.08" width="6.86" height="6.86" fill="#ff0000"/>
<circle cx="388.2" cy="222.85" r="3.51" fill="#000000"/>
<circle cx="388.2" cy="213.63" r="3.51" fill="#000000"/>
<circle cx="388.2" cy="204.42" r="3.51" fill="#000000"/>
<circle cx="388.2" cy="195.2" r="3.51" fill="#000000"/>
<circle cx="388.2" cy="185.98" r="3.51" fill="#000000"/>
<circle cx="388.2" cy="176.77" r="3.51" fill="#000000"/>
<circle cx="388.2" cy="167.55" r="3.51" fill="#000000"/>
<circle cx="388.2" cy="158.33" r="3.51" fill="#000000"/>
<circle cx="388.2" cy="149.12" r="3.51" fill="#000000"/>
<circle cx="388.2" cy="139.9" r="3.51" fill="#000000"/>
<circle cx="388.2" cy="130.68" r="3.51" fill="#000000"/>
<circle cx="388.2" cy="121.46" r="3.51" fill="#000000"/>
<circle cx="388.2" cy="112.25" r="3.51" fill="#000000"/>
<polygon points="402.95,383.12 407.93,392.41 397.97,392.41" fill="#0000ff"/>
<polygon points="398.14,379.98 402.95,375.17 407.76,379.98 402.95,384.79" fill="#5fc85f"/>
<polygon points="398.14,370.77 402.95,365.95 407.76,370.77 402.95,375.58" fill="#5fc85f"/>
<polygon points="398.14,361.55 402.95,356.74 407.76,361.55 402.95,366.36" fill="#5fc85f"/>
<polygon points="398.14,352.33 402.95,347.52 407.76,352.33 402.95,357.14" fill="#5fc85f"/>
<polygon points="398.14,343.12 402.95,338.3 407.76,343.12 402.95,347.93" fill="#5fc85f"/>
<polygon points="398.14,333.9 402.95,329.09 407.76,333.9 402.95,338.71" fill="#5fc85f"/>
<polygon points="398.14,324.68 402.95,319.87 407.76,324.68 402.95,329.49" fill="#5fc85f"/>
<polygon points="398.14,315.46 402.95,310.65 407.76,315.46 402.95,320.28" fill="#5fc85f"/>
<polygon points="398.14,306.25 402.95,301.44 407.76,306.25 402.95,311.06" fill="#5fc85f"/>
<polygon points="398.14,297.03 402.95,292.22 407.76,297.03 402.95,301.84" fill="#5fc85f"/>
<polygon points="398.14,287.81 402.95,283 407.76,287.81 402.95,292.62" fill="#5fc85f"/>
<polygon points="398.14,278.6 402.95,273.78 407.76,278.6 402.95,283.41" fill="#5fc85f"/>
<polygon points="398.14,269.38 402.95,264.57 407.76,269.38 402.95,274.19" fill="#5fc85f"/>
<polygon points="398.14,260.16 402.95,255.35 407.76,260.16 402.95,264.97" fill="#5fc85f"/>
<rect x="399.52" y="247.52" width="6.86" height="6.86" fill="#ff0000"/>
<rect x="399.52" y="238.3" width="6.86" height="6.86" fill="#ff0000"/>
<rect x="399.52" y="229.08" width="6.86" height="6.86" fill="#ff0000"/>
<rect x="399.52" y="219.87" width="6.86" height="6.86" fill="#ff0000"/>
<rect x="399.52" y="210.65" width="6.86" height="6.86" fill="#ff0000"/>
<circle cx="402.95" cy="204.42" r="3.51" fill="#000000"/>
<circle cx="402.95" cy="195.2" r="3.51" fill="#000000"/>
<circle cx="402.95" cy="185.98" r="3.51" fill="#000000"/>
<circle cx="402.95" cy="176.77" r="3.51" fill="#000000"/>
<circle cx="402.95" cy="167.55" r="3.51" fill="#000000"/>
<circle cx="402.95" cy="158.33" r="3.51" fill="#000000"/>
<circle cx="402.95" cy="149.12" r="3.51" fill="#000000"/>
<circle cx="402.95" cy="139.9" r="3.51" fill="#000000"/>
<circle cx="402.95" cy="130.68" r="3.51" fill="#000000"/>
<circle cx="402.95" cy="121.46" r="3.51" fill="#000000"/>
<circle cx="402.95" cy="112.25" r="3.51" fill="#000000"/>
<circle cx="402.95" cy="103.03" r="3.51" fill="#000000"/>
<circle cx="402.95" cy="93.81" r="3.51" fill="#000000"/>
<polygon points="417.7,383.12 422.68,392.41 412.72,392.41" fill="#0000ff"/>
<polygon points="412.89,379.98 417.7,375.17 422.51,379.98 417.7,384.79" fill="#5fc85f"/>
<polygon points="412.89,370.77 417.7,365.95 422.51,370.77 417.7,375.58" fill="#5fc85f"/>
<polygon points="412.89,361.55 417.7,356.74 422.51,361.55 417.7,366.36" fill="#5fc85f"/>
<polygon points="412.89,352.33 417.7,347.52 422.51,352.33 417.7,357.14" fill="#5fc85f"/>
<polygon points="412.89,343.12 417.7,338.3 422.51,343.12 417.7,347.93" fill="#5fc85f"/>
<polygon points="412.89,333.9 417.7,329.09 422.51,333.9 417.7,338.71" fill="#5fc85f"/>
<polygon points="412.89,324.68 417.7,319.87 422.51,324.68 417.7,329.49" fill="#5fc85f"/>
<polygon points="412.89,315.46 417.7,310.65 422.51,315.46 417.7,320.28" fill="#5fc85f"/>
<polygon points="412.89,306.25 417.7,301.44 422.51,306.25 417.7,311.06" fill="#5fc85f"/>
<polygon points="412.89,297.03 417.7,292.22 422.51,297.03 417.7,301.84" fill="#5fc85f"/>
<rect x="414.27" y="284.38" width="6.86" height="6.86" fill="#ff0000"/>
<rect x="414.27" y="275.17" width="6.86" height="6.86" fill="#ff0000"/>
<rect x="414.27" y="265.95" width="6.86" height="6.86" fill="#ff0000"/>
<rect x="414.27" y="256.73" width="6.86" height="6.86" fill="#ff0000"/>
<rect x="414.27" y="247.52" width="6.86" height="6.86" fill="#ff0000"/>
<rect x="414.27" y="238.3" width="6.86" height="6.86" fill="#ff0000"/>
<circle cx="417.7" cy="232.07" r="3.51" fill="#000000"/>
<circle cx="417.7" cy="222.85" r="3.51" fill="#000000"/>
<circle cx="417.7" cy="213.63" r="3.51" fill="#000000"/>
<circle cx="417.7" cy="204.42" r="3.51" fill="#000000"/>
<circle cx="417.7" cy="195.2" r="3.51" fill="#000000"/>
<circle cx="417.7" cy="185.98" r="3.51" fill="#000000"/>
<circle cx="417.7" cy="176.77" r="3.51" fill="#000000"/>
<circle cx="417.7" cy="167.55" r="3.51" fill="#000000"/>
<circle cx="417.7" cy="158.33" r="3.51" fill="#000000"/>
<circle cx="417.7" cy="149.12" r="3.51" fill="#000000"/>
<polygon points="432.45,383.12 437.43,392.41 427.47,392.41" fill="#0000ff"/>
<polygon points="427.64,379.98 432.45,375.17 437.26,379.98 432.45,384.79" fill="#5fc85f"/>
<polygon points="427.64,370.77 432.45,365.95 437.26,370.77 432.45,375.58" fill="#5fc85f"/>
<polygon points="427.64,361.55 432.45,356.74 437.26,361.55 432.45,366.36" fill="#5fc85f"/>
<polygon points="427.64,352.33 432.45,347.52 437.26,352.33 432.45,357.14" fill="#5fc85f"/>
<polygon points="427.64,343.12 432.45,338.3 437.26,343.12 432.45,347.93" fill="#5fc85f"/>
<polygon points="427.64,333.9 432.45,329.09 437.26,333.9 432.45,338.71" fill="#5fc85f"/>
<polygon points="427.64,324.68 432.45,319.87 437.26,324.68 432.45,329.49" fill="#5fc85f"/>
<polygon points="427.64,315.46 432.45,310.65 437.26,315.46 432.45,320.28" fill="#5fc85f"/>
<polygon points="427.64,306.25 432.45,301.44 437.26,306.25 432.45,311.06" fill="#5fc85f"/>
<rect x="429.02" y="293.6" width="6.86" height="6.86" fill="#ff0000"/>
<rect x="429.02" y="284.38" width="6.86" height="6.86" fill="#ff0000"/>
<rect x="429.02" y="275.17" width="6.86" height="6.86" fill="#ff0000"/>
<rect x="429.02" y="265.95" width="6.86" height="6.86" fill="#ff0000"/>
<rect x="429.02" y="256.73" width="6.86" height="6.86" fill="#ff0000"/>
<rect x="429.02" y="247.52" width="6.86" height="6.86" fill="#ff0000"/>
<rect x="429.02" y="238.3" width="6.86" height="6.86" fill="#ff0000"/>
<circle cx="432.45" cy="232.07" r="3.51" fill="#000000"/>
<circle cx="432.45" cy="222.85" r="3.51" fill="#000000"/>
<circle cx="432.45" cy="213.63" r="3.51" fill="#000000"/>
<circle cx="432.45" cy="204.42" r="3.51" fill="#000000"/>
<circle cx="432.45" cy="195.2" r="3.51" fill="#000000"/>
<circle cx="432.45" cy="185.98" r="3.51" fill="#000000"/>
<circle cx="432.45" cy="176.77" r="3.51" fill="#000000"/>
<circle cx="432.45" cy="167.55" r="3.51" fill="#000000"/>
<polygon points="447.2,383.12 452.18,392.41 442.22,392.41" fill="#0000ff"/>
<polygon points="442.39,379.98 447.2,375.17 452.01,379.98 447.2,384.79" fill="#5fc85f"/>
<polygon points="442.39,370.77 447.2,365.95 452.01,370.77 447.2,375.58" fill="#5fc85f"/>
<polygon points="442.39,361.55 447.2,356.74 452.01,361.55 447.2,366.36" fill="#5fc85f"/>
<polygon points="442.39,352.33 447.2,347.52 452.01,352.33 447.2,357.14" fill="#5fc85f"/>
<polygon points="442.39,343.12 447.2,338.3 452.01,343.12 447.2,347.93" fill="#5fc85f"/>
<polygon points="442.39,333.9 447.2,329.09 452.01,333.9 447.2,338.71" fill="#5fc85f"/>
<polygon points="442.39,324.68 447.2,319.87 452.01,324.68 447.2,329.49" fill="#5fc85f"/>
<rect x="443.77" y="312.04" width="6.86" height="6.86" fill="#ff0000"/>
<rect x="443.77" y="302.82" width="6.86" height="6.86" fill="#ff0000"/>
<rect x="443.77" y="293.6" width="6.86" height="6.86" fill="#ff0000"/>
<rect x="443.77" y="284.38" width="6.86" height="6.86" fill="#ff0000"/>
<rect x="443.77" y="275.17" width="6.86" height="6.86" fill="#ff0000"/>
<rect x="443.77" y="265.95" width="6.86" height="6.86" fill="#ff0000"/>
<rect x="443.77" y="256.73" width="6.86" height="6.86" fill="#ff0000"/>
<rect x="443.77" y="247.52" width="6.86" height="6.86" fill="#ff0000"/>
<circle cx="447.2" cy="241.29" r="3.51" fill="#000000"/>
<circle cx="447.2" cy="232.07" r="3.51" fill="#000000"/>
<circle cx="447.2" cy="222.85" r="3.51" fill="#000000"/>
<circle cx="447.2" cy="213.63" r="3.51" fill="#000000"/>
<circle cx="447.2" cy="204.42" r="3.51" fill="#000000"/>
<polygon points="461.95,383.12 466.93,392.41 456.97,392.41" fill="#0000ff"/>
<polygon points="457.14,379.98 461.95,375.17 466.76,379.98 461.95,384.79" fill="#5fc85f"/>
<polygon points="457.14,370.77 461.95,365.95 466.76,370.77 461.95,375.58" fill="#5fc85f"/>
<polygon points="457.14,361.55 461.95,356.74 466.76,361.55 461.95,366.36" fill="#5fc85f"/>
<polygon points="457.14,352.33 461.95,347.52 466.76,352.33 461.95,357.14" fill="#5fc85f"/>
<polygon points="457.14,343.12 461.95,338.3 466.76,343.12 461.95,347.93" fill="#5fc85f"/>
<rect x="458.52" y="330.47" width="6.86" height="6.86" fill="#ff0000"/>
<rect x="458.52" y="321.25" width="6.86" height="6.86" fill="#ff0000"/>
<rect x="458.52" y="312.04" width="6.86" height="6.86" fill="#ff0000"/>
<rect x="458.52" y="302.82" width="6.86" height="6.86" fill="#ff0000"/>
<rect x="458.52" y="293.6" width="6.86" height="6.86" fill="#ff0000"/>
<rect x="458.52" y="284.38" width="6.86" height="6.86" fill="#ff0000"/>
<rect x="458.52" y="275.17" width="6.86" height="6.86" fill="#ff0000"/>
<rect x="458.52" y="265.95" width="6.86" height="6.86" fill="#ff0000"/>
<rect x="458.52" y="256.73" width="6.86" height="6.86" fill="#ff0000"/>
<circle cx="461.95" cy="250.5" r="3.51" fill="#000000"/>
<circle cx="461.95" cy="241.29" r="3.51" fill="#000000"/>
<circle cx="461.95" cy="232.07" r="3.51" fill="#000000"/>
<circle cx="461.95" cy="222.85" r="3.51" fill="#000000"/>
<polygon points="476.7,383.12 481.68,392.41 471.72,392.41" fill="#0000ff"/>
<polygon points="471.89,379.98 476.7,375.17 481.51,379.98 476.7,384.79" fill="#5fc85f"/>
<polygon points="471.89,370.77 476.7,365.95 481.51,370.77 476.7,375.58" fill="#5fc85f"/>
<polygon points="471.89,361.55 476.7,356.74 481.51,361.55 476.7,366.36" fill="#5fc85f"/>
<polygon points="471.89,352.33 476.7,347.52 481.51,352.33 476.7,357.14" fill="#5fc85f"/>
<rect x="473.27" y="339.69" width="6.86" height="6.86" fill="#ff0000"/>
<rect x="473.27" y="330.47" width="6.86" height="6.86" fill="#ff0000"/>
<rect x="473.27" y="321.25" width="6.86" height="6.86" fill="#ff0000"/>
<rect x="473.27" y="312.04" width="6.86" height="6.86" fill="#ff0000"/>
<rect x="473.27" y="302.82" width="6.86" height="6.86" fill="#ff0000"/>
<rect x="473.27" y="293.6" width="6.86" height="6.86" fill="#ff0000"/>
<rect x="473.27" y="284.38" width="6.86" height="6.86" fill="#ff0000"/>
<rect x="473.27" y="275.17" width="6.86" height="6.86" fill="#ff0000"/>
<rect x="473.27" y="265.95" width="6.86" height="6.86" fill="#ff0000"/>
<rect x="473.27" y="256.73" width="6.86" height="6.86" fill="#ff0000"/>
<rect x="473.27" y="247.52" width="6.86" height="6.86" fill="#ff0000"/>
<rect x="473.27" y="238.3" width="6.86" height="6.86" fill="#ff0000"/>
<rect x="473.27" y="229.08" width="6.86" height="6.86" fill="#ff0000"/>
<rect x="473.27" y="219.87" width="6.86" height="6.86" fill="#ff0000"/>
<circle cx="476.7" cy="213.63" r="3.51" fill="#000000"/>
<polygon points="491.45,383.12 496.43,392.41 486.47,392.41" fill="#0000ff"/>
<polygon points="486.64,379.98 491.45,375.17 496.26,379.98 491.45,384.79" fill="#5fc85f"/>
<polygon points="486.64,370.77 491.45,365.95 496.26,370.77 491.45,375.58" fill="#5fc85f"/>
<rect x="488.02" y="358.12" width="6.86" height="6.86" fill="#ff0000"/>
<rect x="488.02" y="348.9" width="6.86" height="6.86" fill="#ff0000"/>
<rect x="488.02" y="339.69" width="6.86" height="6.86" fill="#ff0000"/>
<rect x="488.02" y="330.47" width="6.86" height="6.86" fill="#ff0000"/>
<rect x="488.02" y="321.25" width="6.86" height="6.86" fill="#ff0000"/>
<rect x="488.02" y="312.04" width="6.86" height="6.86" fill="#ff0000"/>
<rect x="488.02" y="302.82" width="6.86" height="6.86" fill="#ff0000"/>
<rect x="488.02" y="293.6" width="6.86" height="6.86" fill="#ff0000"/>
<rect x="488.02" y="284.38" width="6.86" height="6.86" fill="#ff0000"/>
<rect x="488.02" y="275.17" width="6.86" height="6.86" fill="#ff0000"/>
<rect x="488.02" y="265.95" width="6.86" height="6.86" fill="#ff0000"/>
<rect x="488.02" y="256.73" width="6.86" height="6.86" fill="#ff0000"/>
<rect x="488.02" y="247.52" width="6.86" height="6.86" fill="#ff0000"/>
<rect x="488.02" y="238.3" width="6.86" height="6.86" fill="#ff0000"/>
<rect x="488.02" y="229.08" width="6.86" height="6.86" fill="#ff0000"/>
<rect x="488.02" y="219.87" width="6.86" height="6.86" fill="#ff0000"/>
<rect x="488.02" y="210.65" width="6.86" height="6.86" fill="#ff0000"/>
<circle cx="491.45" cy="204.42" r="3.51" fill="#000000"/>
<polygon points="506.2,383.12 511.18,392.41 501.22,392.41" fill="#0000ff"/>
<polygon points="501.39,379.98 506.2,375.17 511.01,379.98 506.2,384.79" fill="#5fc85f"/>
<rect x="502.77" y="367.34" width="6.86" height="6.86" fill="#ff0000"/>
<rect x="502.77" y="358.12" width="6.86" height="6.86" fill="#ff0000"/>
<rect x="502.77" y="348.9" width="6.86" height="6.86" fill="#ff0000"/>
<rect x="502.77" y="339.69" width="6.86" height="6.86" fill="#ff0000"/>
<rect x="502.77" y="330.47" width="6.86" height="6.86" fill="#ff0000"/>
<rect x="502.77" y="321.25" width="6.86" height="6.86" fill="#ff0000"/>
<rect x="502.77" y="312.04" width="6.86" height="6.86" fill="#ff0000"/>
<rect x="502.77" y="302.82" width="6.86" height="6.86" fill="#ff0000"/>
<rect x="502.77" y="293.6" width="6.86" height="6.86" fill="#ff0000"/>
<rect x="502.77" y="284.38" width="6.86" height="6.86" fill="#ff0000"/>
<rect x="502.77" y="275.17" width="6.86" height="6.86" fill="#ff0000"/>
<rect x="502.77" y="265.95" width="6.86" height="6.86" fill="#ff0000"/>
<rect x="502.77" y="256.73" width="6.86" height="6.86" fill="#ff0000"/>
<rect x="502.77" y="247.52" width="6.86" height="6.86" fill="#ff0000"/>
<rect x="502.77" y="238.3" width="6.86" height="6.86" fill="#ff0000"/>
<rect x="502.77" y="229.08" width="6.86" height="6.86" fill="#ff0000"/>
<rect x="502.77" y="219.87" width="6.86" height="6.86" fill="#ff0000"/>
<rect x="502.77" y="210.65" width="6.86" height="6.86" fill="#ff0000"/>
<polygon points="520.95,383.12 525.93,392.41 515.97,392.41" fill="#0000ff"/>
<polygon points="516.14,379.98 520.95,375.17 525.76,379.98 520.95,384.79" fill="#5fc85f"/>
<rect x="517.52" y="367.34" width="6.86" height="6.86" fill="#ff0000"/>
<rect x="517.52" y="358.12" width="6.86" height="6.86" fill="#ff0000"/>
<rect x="517.52" y="348.9" width="6.86" height="6.86" fill="#ff0000"/>
<rect x="517.52" y="339.69" width="6.86" height="6.86" fill="#ff0000"/>
<rect x="517.52" y="330.47" width="6.86" height="6.86" fill="#ff0000"/>
<rect x="517.52" y="321.25" width="6.86" height="6.86" fill="#ff0000"/>
<rect x="517.52" y="312.04" width="6.86" height="6.86" fill="#ff0000"/>
<rect x="517.52" y="302.82" width="6.86" height="6.86" fill="#ff0000"/>
<rect x="517.52" y="293.6" width="6.86" height="6.86" fill="#ff0000"/>
<rect x="517.52" y="284.38" width="6.86" height="6.86" fill="#ff0000"/>
<rect x="517.52" y="275.17" width="6.86" height="6.86" fill="#ff0000"/>
<rect x="517.52" y="265.95" width="6.86" height="6.86" fill="#ff0000"/>
<rect x="517.52" y="256.73" width="6.86" height="6.86" fill="#ff0000"/>
<rect x="517.52" y="247.52" width="6.86" height="6.86" fill="#ff0000"/>
<rect x="517.52" y="238.3" width="6.86" height="6.86" fill="#ff0000"/>
<rect x="517.52" y="229.08" width="6.86" height="6.86" fill="#ff0000"/>
<rect x="517.52" y="219.87" width="6.86" height="6.86" fill="#ff0000"/>
<rect x="517.52" y="210.65" width="6.86" height="6.86" fill="#ff0000"/>
<rect x="517.52" y="201.43" width="6.86" height="6.86" fill="#ff0000"/>
<rect x="517.52" y="192.21" width="6.86" height="6.86" fill="#ff0000"/>
<rect x="517.52" y="183" width="6.86" height="6.86" fill="#ff0000"/>
<polygon points="535.7,383.12 540.68,392.41 530.72,392.41" fill="#0000ff"/>
<rect x="532.27" y="376.55" width="6.86" height="6.86" fill="#ff0000"/>
<rect x="532.27" y="367.34" width="6.86" height="6.86" fill="#ff0000"/>
<rect x="532.27" y="358.12" width="6.86" height="6.86" fill="#ff0000"/>
<rect x="532.27" y="348.9" width="6.86" height="6.86" fill="#ff0000"/>
<rect x="532.27" y="339.69" width="6.86" height="6.86" fill="#ff0000"/>
<rect x="532.27" y="330.47" width="6.86" height="6.86" fill="#ff0000"/>
<rect x="532.27" y="321.25" width="6.86" height="6.86" fill="#ff0000"/>
<rect x="532.27" y="312.04" width="6.86" height="6.86" fill="#ff0000"/>
<rect x="532.27" y="302.82" width="6.86" height="6.86" fill="#ff0000"/>
<rect x="532.27" y="293.6" width="6.86" height="6.86" fill="#ff0000"/>
<rect x="532.27" y="284.38" width="6.86" height="6.86" fill="#ff0000"/>
<rect x="532.27" y="275.17" width="6.86" height="6.86" fill="#ff0000"/>
<rect x="532.27" y="265.95" width="6.86" height="6.86" fill="#ff0000"/>
<rect x="532.27" y="256.73" width="6.86" height="6.86" fill="#ff0000"/>
<rect x="532.27" y="247.52" width="6.86" height="6.86" fill="#ff0000"/>
<rect x="532.27" y="238.3" width="6.86" height="6.86" fill="#ff0000"/>
<rect x="532.27" y="229.08" width="6.86" height="6.86" fill="#ff0000"/>
<rect x="532.27" y="219.87" width="6.86" height="6.86" fill="#ff0000"/>
<rect x="532.27" y="210.65" width="6.86" height="6.86" fill="#ff0000"/>
<polygon points="550.45,383.12 555.43,392.41 545.47,392.41" fill="#0000ff"/>
<rect x="547.02" y="376.55" width="6.86" height="6.86" fill="#ff0000"/>
<rect x="547.02" y="367.34" width="6.86" height="6.86" fill="#ff0000"/>
<rect x="547.02" y="358.12" width="6.86" height="6.86" fill="#ff0000"/>
<rect x="547.02" y="348.9" width="6.86" height="6.86" fill="#ff0000"/>
<rect x="547.02" y="339.69" width="6.86" height="6.86" fill="#ff0000"/>
<rect x="547.02" y="330.47" width="6.86" height="6.86" fill="#ff0000"/>
<rect x="547.02" y="321.25" width="6.86" height="6.86" fill="#ff0000"/>
<rect x="547.02" y="312.04" width="6.86" height="6.86" fill="#ff0000"/>
<rect x="547.02" y="302.82" width="6.86" height="6.86" fill="#ff0000"/>
<rect x="547.02" y="293.6" width="6.86" height="6.86" fill="#ff0000"/>
<rect x="547.02" y="284.38" width="6.86" height="6.86" fill="#ff0000"/>
<rect x="547.02" y="275.17" width="6.86" height="6.86" fill="#ff0000"/>
<rect x="547.02" y="265.95" width="6.86" height="6.86" fill="#ff0000"/>
<rect x="547.02" y="256.73" width="6.86" height="6.86" fill="#ff0000"/>
<rect x="547.02" y="247.52" width="6.86" height="6.86" fill="#ff0000"/>
<rect x="547.02" y="238.3" width="6.86" height="6.86" fill="#ff0000"/>
<rect x="547.02" y="229.08" width="6.86" height="6.86" fill="#ff0000"/>
<rect x="547.02" y="219.87" width="6.86" height="6.86" fill="#ff0000"/>
<rect x="561.77" y="385.77" width="6.86" height="6.86" fill="#ff0000"/>
<rect x="561.77" y="376.55" width="6.86" height="6.86" fill="#ff0000"/>
<rect x="561.77" y="367.34" width="6.86" height="6.86" fill="#ff0000"/>
<rect x="561.77" y="358.12" width="6.86" height="6.86" fill="#ff0000"/>
<rect x="561.77" y="348.9" width="6.86" height="6.86" fill="#ff0000"/>
<rect x="561.77" y="339.69" width="6.86" height="6.86" fill="#ff0000"/>
<rect x="561.77" y="330.47" width="6.86" height="6.86" fill="#ff0000"/>
<rect x="561.77" y="321.25" width="6.86" height="6.86" fill="#ff0000"/>
<rect x="561.77" y="312.04" width="6.86" height="6.86" fill="#ff0000"/>
<rect x="561.77" y="302.82" width="6.86" height="6.86" fill="#ff0000"/>
<rect x="561.77" y="293.6" width="6.86" height="6.86" fill="#ff0000"/>
<rect x="561.77" y="284.38" width="6.86" height="6.86" fill="#ff0000"/>
<rect x="561.77" y="275.17" width="6.86" height="6.86" fill="#ff0000"/>
<rect x="561.77" y="265.95" width="6.86" height="6.86" fill="#ff0000"/>
<rect x="561.77" y="256.73" width="6.86" height="6.86" fill="#ff0000"/>
<rect x="561.77" y="247.52" width="6.86" height="6.86" fill="#ff0000"/>
<polygon points="579.95,383.12 584.93,392.41 574.97,392.41" fill="#0000ff"/>
<rect x="576.52" y="376.55" width="6.86" height="6.86" fill="#ff0000"/>
<rect x="576.52" y="367.34" width="6.86" height="6.86" fill="#ff0000"/>
<rect x="576.52" y="358.12" width="6.86" height="6.86" fill="#ff0000"/>
<rect x="576.52" y="348.9" width="6.86" height="6.86" fill="#ff0000"/>
<rect x="576.52" y="339.69" width="6.86" height="6.86" fill="#ff0000"/>
<rect x="576.52" y="330.47" width="6.86" height="6.86" fill="#ff0000"/>
<rect x="576.52" y="321.25" width="6.86" height="6.86" fill="#ff0000"/>
<rect x="576.52" y="312.04" width="6.86" height="6.86" fill="#ff0000"/>
<rect x="576.52" y="302.82" width="6.86" height="6.86" fill="#ff0000"/>
<rect x="576.52" y="293.6" width="6.86" height="6.86" fill="#ff0000"/>
<rect x="576.52" y="284.38" width="6.86" height="6.86" fill="#ff0000"/>
<rect x="576.52" y="275.17" width="6.86" height="6.86" fill="#ff0000"/>
<rect x="591.27" y="385.77" width="6.86" height="6.86" fill="#ff0000"/>
<rect x="591.27" y="376.55" width="6.86" height="6.86" fill="#ff0000"/>
<rect x="591.27" y="367.34" width="6.86" height="6.86" fill="#ff0000"/>
<rect x="591.27" y="358.12" width="6.86" height="6.86" fill="#ff0000"/>
<rect x="591.27" y="348.9" width="6.86" height="6.86" fill="#ff0000"/>
<rect x="591.27" y="339.69" width="6.86" height="6.86" fill="#ff0000"/>
<rect x="591.27" y="330.47" width="6.86" height="6.86" fill="#ff0000"/>
<rect x="591.27" y="321.25" width="6.86" height="6.86" fill="#ff0000"/>
<rect x="606.02" y="385.77" width="6.86" height="6.86" fill="#ff0000"/>
<rect x="606.02" y="376.55" width="6.86" height="6.86" fill="#ff0000"/>
<rect x="606.02" y="367.34" width="6.86" height="6.86" fill="#ff0000"/>
<rect x="606.02" y="358.12" width="6.86" height="6.86" fill="#ff0000"/>
<rect x="620.77" y="385.77" width="6.86" height="6.86" fill="#ff0000"/>
<rect x="635.52" y="385.77" width="6.86" height="6.86" fill="#ff0000"/>
<rect x="650.27" y="385.77" width="6.86" height="6.86" fill="#ff0000"/>
</g>
<text x="24.2" y="31.2" font-size="39" font-weight="bold" textLength="49" lengthAdjust="spacingAndGlyphs">(a)</text>
<text x="79.6" y="72.5" font-size="20.3" textLength="137.4" lengthAdjust="spacing">Predicted groups</text>
<circle cx="94" cy="98.4" r="5.39" fill="#000000"/>
<text x="109.1" y="106.5" font-size="16" textLength="15.4" lengthAdjust="spacingAndGlyphs">G1</text>
<rect x="89.16" y="116.16" width="9.68" height="9.68" fill="#ff0000"/>
<text x="109.1" y="127" font-size="16" textLength="16.4" lengthAdjust="spacingAndGlyphs">G2</text>
<polygon points="87.51,143.1 94,136.61 100.49,143.1 94,149.59" fill="#5fc85f"/>
<text x="109.1" y="149" font-size="16" textLength="16.2" lengthAdjust="spacingAndGlyphs">G3</text>
<polygon points="94,157.96 100.38,167.64 87.62,167.64" fill="#0000ff"/>
<text x="109.1" y="171.8" font-size="16" textLength="40.3" lengthAdjust="spacing">Mixed</text>
<text x="283.8" y="447.3" font-size="20" textLength="133.9" lengthAdjust="spacing">Genetic distance</text>
<text x="24.5" y="483.4" font-size="17" textLength="345.2" lengthAdjust="spacing">Each symbol represents up to 10 observations.</text>
</g>
<g id="panel-b">
<rect x="787.7" y="51.9" width="567.9" height="315.3" fill="none" stroke="#a8a8a8" stroke-width="1.3"/>
<text x="774.3" y="390.7" font-size="18.3" textLength="32" lengthAdjust="spacing">0.00</text>
<text x="854.34" y="390.7" font-size="18.3" textLength="32" lengthAdjust="spacing">0.06</text>
<text x="934.38" y="390.7" font-size="18.3" textLength="32" lengthAdjust="spacing">0.12</text>
<text x="1014.42" y="390.7" font-size="18.3" textLength="32" lengthAdjust="spacing">0.18</text>
<text x="1094.46" y="390.7" font-size="18.3" textLength="32" lengthAdjust="spacing">0.24</text>
<text x="1174.5" y="390.7" font-size="18.3" textLength="32" lengthAdjust="spacing">0.30</text>
<text x="1254.54" y="390.7" font-size="18.3" textLength="32" lengthAdjust="spacing">0.36</text>
<text x="1334.58" y="390.7" font-size="18.3" textLength="32" lengthAdjust="spacing">0.42</text>
<path d="M791.5 367.2v5.6M871.54 367.2v5.6M951.58 367.2v5.6M1031.62 367.2v5.6M1111.66 367.2v5.6M1191.7 367.2v5.6M1271.74 367.2v5.6M1351.78 367.2v5.6" stroke="#a8a8a8" stroke-width="1.3" fill="none"/>
<clipPath id="clip-b"><rect x="787.7" y="51.9" width="567.9" height="315.6"/></clipPath>
<g clip-path="url(#clip-b)">
<polygon points="798.74,363.6 807.94,358.7 807.94,368.5" fill="#ff00ff"/>
<polygon points="804.84,350.48 809.34,358.88 800.34,358.88" fill="#0000ff"/>
<rect x="801.74" y="345.26" width="6.2" height="6.2" fill="#ff0000"/>
<circle cx="804.84" cy="340.34" r="3.17" fill="#000000"/>
<path d="M814.88 363.6H821.48M818.18 360.3V366.9" stroke="#000000" stroke-width="1.6" fill="none"/>
<polygon points="812.08,355.98 821.28,351.08 821.28,360.88" fill="#ff00ff"/>
<polygon points="818.18,342.86 822.68,351.26 813.68,351.26" fill="#0000ff"/>
<circle cx="818.18" cy="340.34" r="3.17" fill="#000000"/>
<polygon points="825.42,363.6 834.62,358.7 834.62,368.5" fill="#ff00ff"/>
<polygon points="831.52,350.48 836.02,358.88 827.02,358.88" fill="#0000ff"/>
<circle cx="831.52" cy="347.96" r="3.17" fill="#000000"/>
<path d="M841.56 363.6H848.16M844.86 360.3V366.9" stroke="#000000" stroke-width="1.6" fill="none"/>
<polygon points="838.76,355.98 847.96,351.08 847.96,360.88" fill="#ff00ff"/>
<circle cx="844.86" cy="347.96" r="3.17" fill="#000000"/>
<path d="M854.9 363.6H861.5M858.2 360.3V366.9" stroke="#000000" stroke-width="1.6" fill="none"/>
<polygon points="858.2,360.88 862.7,352.48 853.7,352.48" fill="#9933cc"/>
<polygon points="852.1,348.36 861.3,343.46 861.3,353.26" fill="#ff00ff"/>
<polygon points="858.2,335.24 862.7,343.64 853.7,343.64" fill="#0000ff"/>
<circle cx="858.2" cy="332.72" r="3.17" fill="#000000"/>
<polygon points="865.44,363.6 874.64,358.7 874.64,368.5" fill="#ff00ff"/>
<polygon points="871.54,350.48 876.04,358.88 867.04,358.88" fill="#0000ff"/>
<circle cx="871.54" cy="347.96" r="3.17" fill="#000000"/>
<polygon points="878.78,363.6 887.98,358.7 887.98,368.5" fill="#ff00ff"/>
<polygon points="884.88,350.48 889.38,358.88 880.38,358.88" fill="#0000ff"/>
<circle cx="884.88" cy="347.96" r="3.17" fill="#000000"/>
<path d="M894.92 363.6H901.52M898.22 360.3V366.9" stroke="#000000" stroke-width="1.6" fill="none"/>
<polygon points="892.12,355.98 901.32,351.08 901.32,360.88" fill="#ff00ff"/>
<polygon points="898.22,342.86 902.72,351.26 893.72,351.26" fill="#0000ff"/>
<rect x="895.12" y="337.64" width="6.2" height="6.2" fill="#ff0000"/>
<circle cx="898.22" cy="332.72" r="3.17" fill="#000000"/>
<path d="M908.26 363.6H914.86M911.56 360.3V366.9" stroke="#000000" stroke-width="1.6" fill="none"/>
<polygon points="905.46,355.98 914.66,351.08 914.66,360.88" fill="#ff00ff"/>
<polygon points="905.46,348.36 914.66,343.46 914.66,353.26" fill="#ff00ff"/>
<polygon points="911.56,335.24 916.06,343.64 907.06,343.64" fill="#0000ff"/>
<circle cx="911.56" cy="332.72" r="3.17" fill="#000000"/>
<path d="M921.6 363.6H928.2M924.9 360.3V366.9" stroke="#000000" stroke-width="1.6" fill="none"/>
<polygon points="918.8,355.98 928,351.08 928,360.88" fill="#ff00ff"/>
<polygon points="918.8,348.36 928,343.46 928,353.26" fill="#ff00ff"/>
<polygon points="931.5,340.74 922.3,335.84 922.3,345.64" fill="#ff9600"/>
<polygon points="924.9,327.62 929.4,336.02 920.4,336.02" fill="#0000ff"/>
<path d="M934.94 363.6H941.54M938.24 360.3V366.9" stroke="#000000" stroke-width="1.6" fill="none"/>
<polygon points="932.14,355.98 941.34,351.08 941.34,360.88" fill="#ff00ff"/>
<polygon points="932.14,348.36 941.34,343.46 941.34,353.26" fill="#ff00ff"/>
<polygon points="938.24,335.24 942.74,343.64 933.74,343.64" fill="#0000ff"/>
<polygon points="933.89,333.12 938.24,328.77 942.59,333.12 938.24,337.47" fill="#5fc85f"/>
<circle cx="938.24" cy="325.1" r="3.17" fill="#000000"/>
<path d="M948.28 363.6H954.88M951.58 360.3V366.9" stroke="#000000" stroke-width="1.6" fill="none"/>
<polygon points="945.48,355.98 954.68,351.08 954.68,360.88" fill="#ff00ff"/>
<polygon points="945.48,348.36 954.68,343.46 954.68,353.26" fill="#ff00ff"/>
<polygon points="945.48,340.74 954.68,335.84 954.68,345.64" fill="#ff00ff"/>
<polygon points="958.18,333.12 948.98,328.22 948.98,338.02" fill="#ff9600"/>
<polygon points="951.58,320 956.08,328.4 947.08,328.4" fill="#0000ff"/>
<circle cx="951.58" cy="317.48" r="3.17" fill="#000000"/>
<circle cx="951.58" cy="309.86" r="3.17" fill="#000000"/>
<path d="M961.62 363.6H968.22M964.92 360.3V366.9" stroke="#000000" stroke-width="1.6" fill="none"/>
<polygon points="958.82,355.98 968.02,351.08 968.02,360.88" fill="#ff00ff"/>
<polygon points="958.82,348.36 968.02,343.46 968.02,353.26" fill="#ff00ff"/>
<polygon points="971.52,340.74 962.32,335.84 962.32,345.64" fill="#ff9600"/>
<polygon points="964.92,327.62 969.42,336.02 960.42,336.02" fill="#0000ff"/>
<polygon points="960.57,325.5 964.92,321.15 969.27,325.5 964.92,329.85" fill="#5fc85f"/>
<circle cx="964.92" cy="317.48" r="3.17" fill="#000000"/>
<path d="M974.96 363.6H981.56M978.26 360.3V366.9" stroke="#000000" stroke-width="1.6" fill="none"/>
<polygon points="972.16,355.98 981.36,351.08 981.36,360.88" fill="#ff00ff"/>
<polygon points="972.16,348.36 981.36,343.46 981.36,353.26" fill="#ff00ff"/>
<polygon points="972.16,340.74 981.36,335.84 981.36,345.64" fill="#ff00ff"/>
<polygon points="984.86,333.12 975.66,328.22 975.66,338.02" fill="#ff9600"/>
<polygon points="978.26,320 982.76,328.4 973.76,328.4" fill="#0000ff"/>
<polygon points="973.91,317.88 978.26,313.53 982.61,317.88 978.26,322.23" fill="#5fc85f"/>
<circle cx="978.26" cy="309.86" r="3.17" fill="#000000"/>
<path d="M988.3 363.6H994.9M991.6 360.3V366.9" stroke="#000000" stroke-width="1.6" fill="none"/>
<polygon points="985.5,355.98 994.7,351.08 994.7,360.88" fill="#ff00ff"/>
<polygon points="985.5,348.36 994.7,343.46 994.7,353.26" fill="#ff00ff"/>
<polygon points="985.5,340.74 994.7,335.84 994.7,345.64" fill="#ff00ff"/>
<polygon points="985.5,333.12 994.7,328.22 994.7,338.02" fill="#ff00ff"/>
<polygon points="985.5,325.5 994.7,320.6 994.7,330.4" fill="#ff00ff"/>
<polygon points="985.5,317.88 994.7,312.98 994.7,322.78" fill="#ff00ff"/>
<polygon points="991.6,304.76 996.1,313.16 987.1,313.16" fill="#0000ff"/>
<circle cx="991.6" cy="302.24" r="3.17" fill="#000000"/>
<path d="M1001.64 363.6H1008.24M1004.94 360.3V366.9" stroke="#000000" stroke-width="1.6" fill="none"/>
<polygon points="998.84,355.98 1008.04,351.08 1008.04,360.88" fill="#ff00ff"/>
<polygon points="998.84,348.36 1008.04,343.46 1008.04,353.26" fill="#ff00ff"/>
<polygon points="998.84,340.74 1008.04,335.84 1008.04,345.64" fill="#ff00ff"/>
<polygon points="998.84,333.12 1008.04,328.22 1008.04,338.02" fill="#ff00ff"/>
<polygon points="998.84,325.5 1008.04,320.6 1008.04,330.4" fill="#ff00ff"/>
<polygon points="998.84,317.88 1008.04,312.98 1008.04,322.78" fill="#ff00ff"/>
<polygon points="998.84,310.26 1008.04,305.36 1008.04,315.16" fill="#ff00ff"/>
<polygon points="1011.54,302.64 1002.34,297.74 1002.34,307.54" fill="#ff9600"/>
<polygon points="1004.94,289.52 1009.44,297.92 1000.44,297.92" fill="#0000ff"/>
<polygon points="1000.59,287.4 1004.94,283.05 1009.29,287.4 1004.94,291.75" fill="#5fc85f"/>
<rect x="1001.84" y="276.68" width="6.2" height="6.2" fill="#ff0000"/>
<circle cx="1004.94" cy="271.76" r="3.17" fill="#000000"/>
<path d="M1014.98 363.6H1021.58M1018.28 360.3V366.9" stroke="#000000" stroke-width="1.6" fill="none"/>
<polygon points="1012.18,355.98 1021.38,351.08 1021.38,360.88" fill="#ff00ff"/>
<polygon points="1012.18,348.36 1021.38,343.46 1021.38,353.26" fill="#ff00ff"/>
<polygon points="1012.18,340.74 1021.38,335.84 1021.38,345.64" fill="#ff00ff"/>
<polygon points="1012.18,333.12 1021.38,328.22 1021.38,338.02" fill="#ff00ff"/>
<polygon points="1012.18,325.5 1021.38,320.6 1021.38,330.4" fill="#ff00ff"/>
<polygon points="1012.18,317.88 1021.38,312.98 1021.38,322.78" fill="#ff00ff"/>
<polygon points="1012.18,310.26 1021.38,305.36 1021.38,315.16" fill="#ff00ff"/>
<polygon points="1012.18,302.64 1021.38,297.74 1021.38,307.54" fill="#ff00ff"/>
<polygon points="1012.18,295.02 1021.38,290.12 1021.38,299.92" fill="#ff00ff"/>
<polygon points="1024.88,287.4 1015.68,282.5 1015.68,292.3" fill="#ff9600"/>
<polygon points="1018.28,274.28 1022.78,282.68 1013.78,282.68" fill="#0000ff"/>
<rect x="1015.18" y="269.06" width="6.2" height="6.2" fill="#ff0000"/>
<circle cx="1018.28" cy="264.14" r="3.17" fill="#000000"/>
<path d="M1028.32 363.6H1034.92M1031.62 360.3V366.9" stroke="#000000" stroke-width="1.6" fill="none"/>
<polygon points="1025.52,355.98 1034.72,351.08 1034.72,360.88" fill="#ff00ff"/>
<polygon points="1025.52,348.36 1034.72,343.46 1034.72,353.26" fill="#ff00ff"/>
<polygon points="1025.52,340.74 1034.72,335.84 1034.72,345.64" fill="#ff00ff"/>
<polygon points="1025.52,333.12 1034.72,328.22 1034.72,338.02" fill="#ff00ff"/>
<polygon points="1025.52,325.5 1034.72,320.6 1034.72,330.4" fill="#ff00ff"/>
<polygon points="1025.52,317.88 1034.72,312.98 1034.72,322.78" fill="#ff00ff"/>
<polygon points="1025.52,310.26 1034.72,305.36 1034.72,315.16" fill="#ff00ff"/>
<polygon points="1025.52,302.64 1034.72,297.74 1034.72,307.54" fill="#ff00ff"/>
<polygon points="1025.52,295.02 1034.72,290.12 1034.72,299.92" fill="#ff00ff"/>
<polygon points="1025.52,287.4 1034.72,282.5 1034.72,292.3" fill="#ff00ff"/>
<polygon points="1038.22,279.78 1029.02,274.88 1029.02,284.68" fill="#ff9600"/>
<polygon points="1031.62,266.66 1036.12,275.06 1027.12,275.06" fill="#0000ff"/>
<polygon points="1027.27,264.54 1031.62,260.19 1035.97,264.54 1031.62,268.89" fill="#5fc85f"/>
<rect x="1028.52" y="253.82" width="6.2" height="6.2" fill="#ff0000"/>
<circle cx="1031.62" cy="248.9" r="3.17" fill="#000000"/>
<path d="M1041.66 363.6H1048.26M1044.96 360.3V366.9" stroke="#000000" stroke-width="1.6" fill="none"/>
<polygon points="1038.86,355.98 1048.06,351.08 1048.06,360.88" fill="#ff00ff"/>
<polygon points="1038.86,348.36 1048.06,343.46 1048.06,353.26" fill="#ff00ff"/>
<polygon points="1038.86,340.74 1048.06,335.84 1048.06,345.64" fill="#ff00ff"/>
<polygon points="1038.86,333.12 1048.06,328.22 1048.06,338.02" fill="#ff00ff"/>
<polygon points="1038.86,325.5 1048.06,320.6 1048.06,330.4" fill="#ff00ff"/>
<polygon points="1038.86,317.88 1048.06,312.98 1048.06,322.78" fill="#ff00ff"/>
<polygon points="1038.86,310.26 1048.06,305.36 1048.06,315.16" fill="#ff00ff"/>
<polygon points="1038.86,302.64 1048.06,297.74 1048.06,307.54" fill="#ff00ff"/>
<polygon points="1038.86,295.02 1048.06,290.12 1048.06,299.92" fill="#ff00ff"/>
<polygon points="1038.86,287.4 1048.06,282.5 1048.06,292.3" fill="#ff00ff"/>
<polygon points="1038.86,279.78 1048.06,274.88 1048.06,284.68" fill="#ff00ff"/>
<polygon points="1038.86,272.16 1048.06,267.26 1048.06,277.06" fill="#ff00ff"/>
<polygon points="1038.86,264.54 1048.06,259.64 1048.06,269.44" fill="#ff00ff"/>
<polygon points="1038.86,256.92 1048.06,252.02 1048.06,261.82" fill="#ff00ff"/>
<polygon points="1044.96,243.8 1049.46,252.2 1040.46,252.2" fill="#0000ff"/>
<polygon points="1040.61,241.68 1044.96,237.33 1049.31,241.68 1044.96,246.03" fill="#5fc85f"/>
<rect x="1041.86" y="230.96" width="6.2" height="6.2" fill="#ff0000"/>
<circle cx="1044.96" cy="226.04" r="3.17" fill="#000000"/>
<path d="M1055 363.6H1061.6M1058.3 360.3V366.9" stroke="#000000" stroke-width="1.6" fill="none"/>
<polygon points="1052.2,355.98 1061.4,351.08 1061.4,360.88" fill="#ff00ff"/>
<polygon points="1052.2,348.36 1061.4,343.46 1061.4,353.26" fill="#ff00ff"/>
<polygon points="1052.2,340.74 1061.4,335.84 1061.4,345.64" fill="#ff00ff"/>
<polygon points="1052.2,333.12 1061.4,328.22 1061.4,338.02" fill="#ff00ff"/>
<polygon points="1052.2,325.5 1061.4,320.6 1061.4,330.4" fill="#ff00ff"/>
<polygon points="1052.2,317.88 1061.4,312.98 1061.4,322.78" fill="#ff00ff"/>
<polygon points="1052.2,310.26 1061.4,305.36 1061.4,315.16" fill="#ff00ff"/>
<polygon points="1052.2,302.64 1061.4,297.74 1061.4,307.54" fill="#ff00ff"/>
<polygon points="1052.2,295.02 1061.4,290.12 1061.4,299.92" fill="#ff00ff"/>
<polygon points="1052.2,287.4 1061.4,282.5 1061.4,292.3" fill="#ff00ff"/>
<polygon points="1052.2,279.78 1061.4,274.88 1061.4,284.68" fill="#ff00ff"/>
<polygon points="1052.2,272.16 1061.4,267.26 1061.4,277.06" fill="#ff00ff"/>
<polygon points="1052.2,264.54 1061.4,259.64 1061.4,269.44" fill="#ff00ff"/>
<polygon points="1052.2,256.92 1061.4,252.02 1061.4,261.82" fill="#ff00ff"/>
<polygon points="1052.2,249.3 1061.4,244.4 1061.4,254.2" fill="#ff00ff"/>
<polygon points="1052.2,241.68 1061.4,236.78 1061.4,246.58" fill="#ff00ff"/>
<polygon points="1064.9,234.06 1055.7,229.16 1055.7,238.96" fill="#ff9600"/>
<polygon points="1058.3,220.94 1062.8,229.34 1053.8,229.34" fill="#0000ff"/>
<polygon points="1053.95,218.82 1058.3,214.47 1062.65,218.82 1058.3,223.17" fill="#5fc85f"/>
<rect x="1055.2" y="208.1" width="6.2" height="6.2" fill="#ff0000"/>
<circle cx="1058.3" cy="203.18" r="3.17" fill="#000000"/>
<circle cx="1058.3" cy="195.56" r="3.17" fill="#000000"/>
<circle cx="1058.3" cy="187.94" r="3.17" fill="#000000"/>
<path d="M1068.34 363.6H1074.94M1071.64 360.3V366.9" stroke="#000000" stroke-width="1.6" fill="none"/>
<polygon points="1065.54,355.98 1074.74,351.08 1074.74,360.88" fill="#ff00ff"/>
<polygon points="1065.54,348.36 1074.74,343.46 1074.74,353.26" fill="#ff00ff"/>
<polygon points="1065.54,340.74 1074.74,335.84 1074.74,345.64" fill="#ff00ff"/>
<polygon points="1065.54,333.12 1074.74,328.22 1074.74,338.02" fill="#ff00ff"/>
<polygon points="1065.54,325.5 1074.74,320.6 1074.74,330.4" fill="#ff00ff"/>
<polygon points="1065.54,317.88 1074.74,312.98 1074.74,322.78" fill="#ff00ff"/>
<polygon points="1065.54,310.26 1074.74,305.36 1074.74,315.16" fill="#ff00ff"/>
<polygon points="1065.54,302.64 1074.74,297.74 1074.74,307.54" fill="#ff00ff"/>
<polygon points="1065.54,295.02 1074.74,290.12 1074.74,299.92" fill="#ff00ff"/>
<polygon points="1065.54,287.4 1074.74,282.5 1074.74,292.3" fill="#ff00ff"/>
<polygon points="1065.54,279.78 1074.74,274.88 1074.74,284.68" fill="#ff00ff"/>
<polygon points="1065.54,272.16 1074.74,267.26 1074.74,277.06" fill="#ff00ff"/>
<polygon points="1065.54,264.54 1074.74,259.64 1074.74,269.44" fill="#ff00ff"/>
<polygon points="1065.54,256.92 1074.74,252.02 1074.74,261.82" fill="#ff00ff"/>
<polygon points="1065.54,249.3 1074.74,244.4 1074.74,254.2" fill="#ff00ff"/>
<polygon points="1065.54,241.68 1074.74,236.78 1074.74,246.58" fill="#ff00ff"/>
<polygon points="1065.54,234.06 1074.74,229.16 1074.74,238.96" fill="#ff00ff"/>
<polygon points="1065.54,226.44 1074.74,221.54 1074.74,231.34" fill="#ff00ff"/>
<polygon points="1065.54,218.82 1074.74,213.92 1074.74,223.72" fill="#ff00ff"/>
<polygon points="1065.54,211.2 1074.74,206.3 1074.74,216.1" fill="#ff00ff"/>
<polygon points="1065.54,203.58 1074.74,198.68 1074.74,208.48" fill="#ff00ff"/>
<polygon points="1078.24,195.96 1069.04,191.06 1069.04,200.86" fill="#ff9600"/>
<polygon points="1071.64,182.84 1076.14,191.24 1067.14,191.24" fill="#0000ff"/>
<rect x="1068.54" y="177.62" width="6.2" height="6.2" fill="#ff0000"/>
<circle cx="1071.64" cy="172.7" r="3.17" fill="#000000"/>
<circle cx="1071.64" cy="165.08" r="3.17" fill="#000000"/>
<circle cx="1071.64" cy="157.46" r="3.17" fill="#000000"/>
<circle cx="1071.64" cy="149.84" r="3.17" fill="#000000"/>
<path d="M1081.68 363.6H1088.28M1084.98 360.3V366.9" stroke="#000000" stroke-width="1.6" fill="none"/>
<polygon points="1084.98,360.88 1089.48,352.48 1080.48,352.48" fill="#9933cc"/>
<polygon points="1078.88,348.36 1088.08,343.46 1088.08,353.26" fill="#ff00ff"/>
<polygon points="1078.88,340.74 1088.08,335.84 1088.08,345.64" fill="#ff00ff"/>
<polygon points="1078.88,333.12 1088.08,328.22 1088.08,338.02" fill="#ff00ff"/>
<polygon points="1078.88,325.5 1088.08,320.6 1088.08,330.4" fill="#ff00ff"/>
<polygon points="1078.88,317.88 1088.08,312.98 1088.08,322.78" fill="#ff00ff"/>
<polygon points="1078.88,310.26 1088.08,305.36 1088.08,315.16" fill="#ff00ff"/>
<polygon points="1078.88,302.64 1088.08,297.74 1088.08,307.54" fill="#ff00ff"/>
<polygon points="1078.88,295.02 1088.08,290.12 1088.08,299.92" fill="#ff00ff"/>
<polygon points="1078.88,287.4 1088.08,282.5 1088.08,292.3" fill="#ff00ff"/>
<polygon points="1078.88,279.78 1088.08,274.88 1088.08,284.68" fill="#ff00ff"/>
<polygon points="1078.88,272.16 1088.08,267.26 1088.08,277.06" fill="#ff00ff"/>
<polygon points="1078.88,264.54 1088.08,259.64 1088.08,269.44" fill="#ff00ff"/>
<polygon points="1078.88,256.92 1088.08,252.02 1088.08,261.82" fill="#ff00ff"/>
<polygon points="1078.88,249.3 1088.08,244.4 1088.08,254.2" fill="#ff00ff"/>
<polygon points="1078.88,241.68 1088.08,236.78 1088.08,246.58" fill="#ff00ff"/>
<polygon points="1078.88,234.06 1088.08,229.16 1088.08,238.96" fill="#ff00ff"/>
<polygon points="1078.88,226.44 1088.08,221.54 1088.08,231.34" fill="#ff00ff"/>
<polygon points="1078.88,218.82 1088.08,213.92 1088.08,223.72" fill="#ff00ff"/>
<polygon points="1078.88,211.2 1088.08,206.3 1088.08,216.1" fill="#ff00ff"/>
<polygon points="1078.88,203.58 1088.08,198.68 1088.08,208.48" fill="#ff00ff"/>
<polygon points="1078.88,195.96 1088.08,191.06 1088.08,200.86" fill="#ff00ff"/>
<polygon points="1091.58,188.34 1082.38,183.44 1082.38,193.24" fill="#ff9600"/>
<polygon points="1084.98,175.22 1089.48,183.62 1080.48,183.62" fill="#0000ff"/>
<rect x="1081.88" y="170" width="6.2" height="6.2" fill="#ff0000"/>
<circle cx="1084.98" cy="165.08" r="3.17" fill="#000000"/>
<circle cx="1084.98" cy="157.46" r="3.17" fill="#000000"/>
<circle cx="1084.98" cy="149.84" r="3.17" fill="#000000"/>
<path d="M1095.02 363.6H1101.62M1098.32 360.3V366.9" stroke="#000000" stroke-width="1.6" fill="none"/>
<polygon points="1098.32,360.88 1102.82,352.48 1093.82,352.48" fill="#9933cc"/>
<polygon points="1092.22,348.36 1101.42,343.46 1101.42,353.26" fill="#ff00ff"/>
<polygon points="1092.22,340.74 1101.42,335.84 1101.42,345.64" fill="#ff00ff"/>
<polygon points="1092.22,333.12 1101.42,328.22 1101.42,338.02" fill="#ff00ff"/>
<polygon points="1092.22,325.5 1101.42,320.6 1101.42,330.4" fill="#ff00ff"/>
<polygon points="1092.22,317.88 1101.42,312.98 1101.42,322.78" fill="#ff00ff"/>
<polygon points="1092.22,310.26 1101.42,305.36 1101.42,315.16" fill="#ff00ff"/>
<polygon points="1092.22,302.64 1101.42,297.74 1101.42,307.54" fill="#ff00ff"/>
<polygon points="1092.22,295.02 1101.42,290.12 1101.42,299.92" fill="#ff00ff"/>
<polygon points="1092.22,287.4 1101.42,282.5 1101.42,292.3" fill="#ff00ff"/>
<polygon points="1092.22,279.78 1101.42,274.88 1101.42,284.68" fill="#ff00ff"/>
<polygon points="1092.22,272.16 1101.42,267.26 1101.42,277.06" fill="#ff00ff"/>
<polygon points="1092.22,264.54 1101.42,259.64 1101.42,269.44" fill="#ff00ff"/>
<polygon points="1092.22,256.92 1101.42,252.02 1101.42,261.82" fill="#ff00ff"/>
<polygon points="1092.22,249.3 1101.42,244.4 1101.42,254.2" fill="#ff00ff"/>
<polygon points="1092.22,241.68 1101.42,236.78 1101.42,246.58" fill="#ff00ff"/>
<polygon points="1092.22,234.06 1101.42,229.16 1101.42,238.96" fill="#ff00ff"/>
<polygon points="1092.22,226.44 1101.42,221.54 1101.42,231.34" fill="#ff00ff"/>
<polygon points="1092.22,218.82 1101.42,213.92 1101.42,223.72" fill="#ff00ff"/>
<polygon points="1092.22,211.2 1101.42,206.3 1101.42,216.1" fill="#ff00ff"/>
<polygon points="1092.22,203.58 1101.42,198.68 1101.42,208.48" fill="#ff00ff"/>
<polygon points="1092.22,195.96 1101.42,191.06 1101.42,200.86" fill="#ff00ff"/>
<polygon points="1092.22,188.34 1101.42,183.44 1101.42,193.24" fill="#ff00ff"/>
<polygon points="1092.22,180.72 1101.42,175.82 1101.42,185.62" fill="#ff00ff"/>
<polygon points="1092.22,173.1 1101.42,168.2 1101.42,178" fill="#ff00ff"/>
<polygon points="1093.97,165.48 1098.32,161.13 1102.67,165.48 1098.32,169.83" fill="#5fc85f"/>
<rect x="1095.22" y="154.76" width="6.2" height="6.2" fill="#ff0000"/>
<circle cx="1098.32" cy="149.84" r="3.17" fill="#000000"/>
<circle cx="1098.32" cy="142.22" r="3.17" fill="#000000"/>
<circle cx="1098.32" cy="134.6" r="3.17" fill="#000000"/>
<circle cx="1098.32" cy="126.98" r="3.17" fill="#000000"/>
<path d="M1108.36 363.6H1114.96M1111.66 360.3V366.9" stroke="#000000" stroke-width="1.6" fill="none"/>
<polygon points="1111.66,360.88 1116.16,352.48 1107.16,352.48" fill="#9933cc"/>
<polygon points="1105.56,348.36 1114.76,343.46 1114.76,353.26" fill="#ff00ff"/>
<polygon points="1105.56,340.74 1114.76,335.84 1114.76,345.64" fill="#ff00ff"/>
<polygon points="1105.56,333.12 1114.76,328.22 1114.76,338.02" fill="#ff00ff"/>
<polygon points="1105.56,325.5 1114.76,320.6 1114.76,330.4" fill="#ff00ff"/>
<polygon points="1105.56,317.88 1114.76,312.98 1114.76,322.78" fill="#ff00ff"/>
<polygon points="1105.56,310.26 1114.76,305.36 1114.76,315.16" fill="#ff00ff"/>
<polygon points="1105.56,302.64 1114.76,297.74 1114.76,307.54" fill="#ff00ff"/>
<polygon points="1105.56,295.02 1114.76,290.12 1114.76,299.92" fill="#ff00ff"/>
<polygon points="1105.56,287.4 1114.76,282.5 1114.76,292.3" fill="#ff00ff"/>
<polygon points="1105.56,279.78 1114.76,274.88 1114.76,284.68" fill="#ff00ff"/>
<polygon points="1105.56,272.16 1114.76,267.26 1114.76,277.06" fill="#ff00ff"/>
<polygon points="1105.56,264.54 1114.76,259.64 1114.76,269.44" fill="#ff00ff"/>
<polygon points="1105.56,256.92 1114.76,252.02 1114.76,261.82" fill="#ff00ff"/>
<polygon points="1105.56,249.3 1114.76,244.4 1114.76,254.2" fill="#ff00ff"/>
<polygon points="1105.56,241.68 1114.76,236.78 1114.76,246.58" fill="#ff00ff"/>
<polygon points="1105.56,234.06 1114.76,229.16 1114.76,238.96" fill="#ff00ff"/>
<polygon points="1105.56,226.44 1114.76,221.54 1114.76,231.34" fill="#ff00ff"/>
<polygon points="1105.56,218.82 1114.76,213.92 1114.76,223.72" fill="#ff00ff"/>
<polygon points="1105.56,211.2 1114.76,206.3 1114.76,216.1" fill="#ff00ff"/>
<polygon points="1105.56,203.58 1114.76,198.68 1114.76,208.48" fill="#ff00ff"/>
<polygon points="1105.56,195.96 1114.76,191.06 1114.76,200.86" fill="#ff00ff"/>
<polygon points="1105.56,188.34 1114.76,183.44 1114.76,193.24" fill="#ff00ff"/>
<polygon points="1105.56,180.72 1114.76,175.82 1114.76,185.62" fill="#ff00ff"/>
<polygon points="1105.56,173.1 1114.76,168.2 1114.76,178" fill="#ff00ff"/>
<polygon points="1105.56,165.48 1114.76,160.58 1114.76,170.38" fill="#ff00ff"/>
<polygon points="1118.26,157.86 1109.06,152.96 1109.06,162.76" fill="#ff9600"/>
<polygon points="1111.66,144.74 1116.16,153.14 1107.16,153.14" fill="#0000ff"/>
<rect x="1108.56" y="139.52" width="6.2" height="6.2" fill="#ff0000"/>
<circle cx="1111.66" cy="134.6" r="3.17" fill="#000000"/>
<circle cx="1111.66" cy="126.98" r="3.17" fill="#000000"/>
<circle cx="1111.66" cy="119.36" r="3.17" fill="#000000"/>
<path d="M1121.7 363.6H1128.3M1125 360.3V366.9" stroke="#000000" stroke-width="1.6" fill="none"/>
<polygon points="1118.9,355.98 1128.1,351.08 1128.1,360.88" fill="#ff00ff"/>
<polygon points="1118.9,348.36 1128.1,343.46 1128.1,353.26" fill="#ff00ff"/>
<polygon points="1118.9,340.74 1128.1,335.84 1128.1,345.64" fill="#ff00ff"/>
<polygon points="1118.9,333.12 1128.1,328.22 1128.1,338.02" fill="#ff00ff"/>
<polygon points="1118.9,325.5 1128.1,320.6 1128.1,330.4" fill="#ff00ff"/>
<polygon points="1118.9,317.88 1128.1,312.98 1128.1,322.78" fill="#ff00ff"/>
<polygon points="1118.9,310.26 1128.1,305.36 1128.1,315.16" fill="#ff00ff"/>
<polygon points="1118.9,302.64 1128.1,297.74 1128.1,307.54" fill="#ff00ff"/>
<polygon points="1118.9,295.02 1128.1,290.12 1128.1,299.92" fill="#ff00ff"/>
<polygon points="1118.9,287.4 1128.1,282.5 1128.1,292.3" fill="#ff00ff"/>
<polygon points="1118.9,279.78 1128.1,274.88 1128.1,284.68" fill="#ff00ff"/>
<polygon points="1118.9,272.16 1128.1,267.26 1128.1,277.06" fill="#ff00ff"/>
<polygon points="1118.9,264.54 1128.1,259.64 1128.1,269.44" fill="#ff00ff"/>
<polygon points="1118.9,256.92 1128.1,252.02 1128.1,261.82" fill="#ff00ff"/>
<polygon points="1118.9,249.3 1128.1,244.4 1128.1,254.2" fill="#ff00ff"/>
<polygon points="1118.9,241.68 1128.1,236.78 1128.1,246.58" fill="#ff00ff"/>
<polygon points="1118.9,234.06 1128.1,229.16 1128.1,238.96" fill="#ff00ff"/>
<polygon points="1118.9,226.44 1128.1,221.54 1128.1,231.34" fill="#ff00ff"/>
<polygon points="1118.9,218.82 1128.1,213.92 1128.1,223.72" fill="#ff00ff"/>
<polygon points="1118.9,211.2 1128.1,206.3 1128.1,216.1" fill="#ff00ff"/>
<polygon points="1118.9,203.58 1128.1,198.68 1128.1,208.48" fill="#ff00ff"/>
<polygon points="1118.9,195.96 1128.1,191.06 1128.1,200.86" fill="#ff00ff"/>
<polygon points="1118.9,188.34 1128.1,183.44 1128.1,193.24" fill="#ff00ff"/>
<polygon points="1118.9,180.72 1128.1,175.82 1128.1,185.62" fill="#ff00ff"/>
<polygon points="1118.9,173.1 1128.1,168.2 1128.1,178" fill="#ff00ff"/>
<polygon points="1118.9,165.48 1128.1,160.58 1128.1,170.38" fill="#ff00ff"/>
<polygon points="1118.9,157.86 1128.1,152.96 1128.1,162.76" fill="#ff00ff"/>
<polygon points="1118.9,150.24 1128.1,145.34 1128.1,155.14" fill="#ff00ff"/>
<polygon points="1118.9,142.62 1128.1,137.72 1128.1,147.52" fill="#ff00ff"/>
<polygon points="1118.9,135 1128.1,130.1 1128.1,139.9" fill="#ff00ff"/>
<polygon points="1118.9,127.38 1128.1,122.48 1128.1,132.28" fill="#ff00ff"/>
<polygon points="1118.9,119.76 1128.1,114.86 1128.1,124.66" fill="#ff00ff"/>
<polygon points="1118.9,112.14 1128.1,107.24 1128.1,117.04" fill="#ff00ff"/>
<polygon points="1120.65,104.52 1125,100.17 1129.35,104.52 1125,108.87" fill="#5fc85f"/>
<rect x="1121.9" y="93.8" width="6.2" height="6.2" fill="#ff0000"/>
<circle cx="1125" cy="88.88" r="3.17" fill="#000000"/>
<circle cx="1125" cy="81.26" r="3.17" fill="#000000"/>
<circle cx="1125" cy="73.64" r="3.17" fill="#000000"/>
<circle cx="1125" cy="66.02" r="3.17" fill="#000000"/>
<path d="M1135.04 363.6H1141.64M1138.34 360.3V366.9" stroke="#000000" stroke-width="1.6" fill="none"/>
<polygon points="1138.34,360.88 1142.84,352.48 1133.84,352.48" fill="#9933cc"/>
<polygon points="1132.24,348.36 1141.44,343.46 1141.44,353.26" fill="#ff00ff"/>
<polygon points="1132.24,340.74 1141.44,335.84 1141.44,345.64" fill="#ff00ff"/>
<polygon points="1132.24,333.12 1141.44,328.22 1141.44,338.02" fill="#ff00ff"/>
<polygon points="1132.24,325.5 1141.44,320.6 1141.44,330.4" fill="#ff00ff"/>
<polygon points="1132.24,317.88 1141.44,312.98 1141.44,322.78" fill="#ff00ff"/>
<polygon points="1132.24,310.26 1141.44,305.36 1141.44,315.16" fill="#ff00ff"/>
<polygon points="1132.24,302.64 1141.44,297.74 1141.44,307.54" fill="#ff00ff"/>
<polygon points="1132.24,295.02 1141.44,290.12 1141.44,299.92" fill="#ff00ff"/>
<polygon points="1132.24,287.4 1141.44,282.5 1141.44,292.3" fill="#ff00ff"/>
<polygon points="1132.24,279.78 1141.44,274.88 1141.44,284.68" fill="#ff00ff"/>
<polygon points="1132.24,272.16 1141.44,267.26 1141.44,277.06" fill="#ff00ff"/>
<polygon points="1132.24,264.54 1141.44,259.64 1141.44,269.44" fill="#ff00ff"/>
<polygon points="1132.24,256.92 1141.44,252.02 1141.44,261.82" fill="#ff00ff"/>
<polygon points="1132.24,249.3 1141.44,244.4 1141.44,254.2" fill="#ff00ff"/>
<polygon points="1132.24,241.68 1141.44,236.78 1141.44,246.58" fill="#ff00ff"/>
<polygon points="1132.24,234.06 1141.44,229.16 1141.44,238.96" fill="#ff00ff"/>
<polygon points="1132.24,226.44 1141.44,221.54 1141.44,231.34" fill="#ff00ff"/>
<polygon points="1132.24,218.82 1141.44,213.92 1141.44,223.72" fill="#ff00ff"/>
<polygon points="1132.24,211.2 1141.44,206.3 1141.44,216.1" fill="#ff00ff"/>
<polygon points="1132.24,203.58 1141.44,198.68 1141.44,208.48" fill="#ff00ff"/>
<polygon points="1132.24,195.96 1141.44,191.06 1141.44,200.86" fill="#ff00ff"/>
<polygon points="1132.24,188.34 1141.44,183.44 1141.44,193.24" fill="#ff00ff"/>
<polygon points="1132.24,180.72 1141.44,175.82 1141.44,185.62" fill="#ff00ff"/>
<polygon points="1132.24,173.1 1141.44,168.2 1141.44,178" fill="#ff00ff"/>
<polygon points="1132.24,165.48 1141.44,160.58 1141.44,170.38" fill="#ff00ff"/>
<polygon points="1132.24,157.86 1141.44,152.96 1141.44,162.76" fill="#ff00ff"/>
<polygon points="1132.24,150.24 1141.44,145.34 1141.44,155.14" fill="#ff00ff"/>
<polygon points="1132.24,142.62 1141.44,137.72 1141.44,147.52" fill="#ff00ff"/>
<polygon points="1132.24,135 1141.44,130.1 1141.44,139.9" fill="#ff00ff"/>
<rect x="1135.24" y="124.28" width="6.2" height="6.2" fill="#ff0000"/>
<rect x="1135.24" y="116.66" width="6.2" height="6.2" fill="#ff0000"/>
<circle cx="1138.34" cy="111.74" r="3.17" fill="#000000"/>
<circle cx="1138.34" cy="104.12" r="3.17" fill="#000000"/>
<circle cx="1138.34" cy="96.5" r="3.17" fill="#000000"/>
<path d="M1148.38 363.6H1154.98M1151.68 360.3V366.9" stroke="#000000" stroke-width="1.6" fill="none"/>
<polygon points="1145.58,355.98 1154.78,351.08 1154.78,360.88" fill="#ff00ff"/>
<polygon points="1145.58,348.36 1154.78,343.46 1154.78,353.26" fill="#ff00ff"/>
<polygon points="1145.58,340.74 1154.78,335.84 1154.78,345.64" fill="#ff00ff"/>
<polygon points="1145.58,333.12 1154.78,328.22 1154.78,338.02" fill="#ff00ff"/>
<polygon points="1145.58,325.5 1154.78,320.6 1154.78,330.4" fill="#ff00ff"/>
<polygon points="1145.58,317.88 1154.78,312.98 1154.78,322.78" fill="#ff00ff"/>
<polygon points="1145.58,310.26 1154.78,305.36 1154.78,315.16" fill="#ff00ff"/>
<polygon points="1145.58,302.64 1154.78,297.74 1154.78,307.54" fill="#ff00ff"/>
<polygon points="1145.58,295.02 1154.78,290.12 1154.78,299.92" fill="#ff00ff"/>
<polygon points="1145.58,287.4 1154.78,282.5 1154.78,292.3" fill="#ff00ff"/>
<polygon points="1145.58,279.78 1154.78,274.88 1154.78,284.68" fill="#ff00ff"/>
<polygon points="1145.58,272.16 1154.78,267.26 1154.78,277.06" fill="#ff00ff"/>
<polygon points="1145.58,264.54 1154.78,259.64 1154.78,269.44" fill="#ff00ff"/>
<polygon points="1145.58,256.92 1154.78,252.02 1154.78,261.82" fill="#ff00ff"/>
<polygon points="1145.58,249.3 1154.78,244.4 1154.78,254.2" fill="#ff00ff"/>
<polygon points="1145.58,241.68 1154.78,236.78 1154.78,246.58" fill="#ff00ff"/>
<polygon points="1145.58,234.06 1154.78,229.16 1154.78,238.96" fill="#ff00ff"/>
<polygon points="1145.58,226.44 1154.78,221.54 1154.78,231.34" fill="#ff00ff"/>
<polygon points="1145.58,218.82 1154.78,213.92 1154.78,223.72" fill="#ff00ff"/>
<polygon points="1145.58,211.2 1154.78,206.3 1154.78,216.1" fill="#ff00ff"/>
<polygon points="1145.58,203.58 1154.78,198.68 1154.78,208.48" fill="#ff00ff"/>
<polygon points="1145.58,195.96 1154.78,191.06 1154.78,200.86" fill="#ff00ff"/>
<polygon points="1145.58,188.34 1154.78,183.44 1154.78,193.24" fill="#ff00ff"/>
<polygon points="1145.58,180.72 1154.78,175.82 1154.78,185.62" fill="#ff00ff"/>
<polygon points="1145.58,173.1 1154.78,168.2 1154.78,178" fill="#ff00ff"/>
<polygon points="1145.58,165.48 1154.78,160.58 1154.78,170.38" fill="#ff00ff"/>
<polygon points="1145.58,157.86 1154.78,152.96 1154.78,162.76" fill="#ff00ff"/>
<rect x="1148.58" y="147.14" width="6.2" height="6.2" fill="#ff0000"/>
<rect x="1148.58" y="139.52" width="6.2" height="6.2" fill="#ff0000"/>
<circle cx="1151.68" cy="134.6" r="3.17" fill="#000000"/>
<circle cx="1151.68" cy="126.98" r="3.17" fill="#000000"/>
<circle cx="1151.68" cy="119.36" r="3.17" fill="#000000"/>
<path d="M1161.72 363.6H1168.32M1165.02 360.3V366.9" stroke="#000000" stroke-width="1.6" fill="none"/>
<polygon points="1165.02,360.88 1169.52,352.48 1160.52,352.48" fill="#9933cc"/>
<polygon points="1158.92,348.36 1168.12,343.46 1168.12,353.26" fill="#ff00ff"/>
<polygon points="1158.92,340.74 1168.12,335.84 1168.12,345.64" fill="#ff00ff"/>
<polygon points="1158.92,333.12 1168.12,328.22 1168.12,338.02" fill="#ff00ff"/>
<polygon points="1158.92,325.5 1168.12,320.6 1168.12,330.4" fill="#ff00ff"/>
<polygon points="1158.92,317.88 1168.12,312.98 1168.12,322.78" fill="#ff00ff"/>
<polygon points="1158.92,310.26 1168.12,305.36 1168.12,315.16" fill="#ff00ff"/>
<polygon points="1158.92,302.64 1168.12,297.74 1168.12,307.54" fill="#ff00ff"/>
<polygon points="1158.92,295.02 1168.12,290.12 1168.12,299.92" fill="#ff00ff"/>
<polygon points="1158.92,287.4 1168.12,282.5 1168.12,292.3" fill="#ff00ff"/>
<polygon points="1158.92,279.78 1168.12,274.88 1168.12,284.68" fill="#ff00ff"/>
<polygon points="1158.92,272.16 1168.12,267.26 1168.12,277.06" fill="#ff00ff"/>
<polygon points="1158.92,264.54 1168.12,259.64 1168.12,269.44" fill="#ff00ff"/>
<polygon points="1158.92,256.92 1168.12,252.02 1168.12,261.82" fill="#ff00ff"/>
<polygon points="1158.92,249.3 1168.12,244.4 1168.12,254.2" fill="#ff00ff"/>
<polygon points="1158.92,241.68 1168.12,236.78 1168.12,246.58" fill="#ff00ff"/>
<polygon points="1158.92,234.06 1168.12,229.16 1168.12,238.96" fill="#ff00ff"/>
<polygon points="1158.92,226.44 1168.12,221.54 1168.12,231.34" fill="#ff00ff"/>
<polygon points="1158.92,218.82 1168.12,213.92 1168.12,223.72" fill="#ff00ff"/>
<polygon points="1158.92,211.2 1168.12,206.3 1168.12,216.1" fill="#ff00ff"/>
<polygon points="1158.92,203.58 1168.12,198.68 1168.12,208.48" fill="#ff00ff"/>
<polygon points="1158.92,195.96 1168.12,191.06 1168.12,200.86" fill="#ff00ff"/>
<polygon points="1158.92,188.34 1168.12,183.44 1168.12,193.24" fill="#ff00ff"/>
<polygon points="1158.92,180.72 1168.12,175.82 1168.12,185.62" fill="#ff00ff"/>
<polygon points="1158.92,173.1 1168.12,168.2 1168.12,178" fill="#ff00ff"/>
<polygon points="1158.92,165.48 1168.12,160.58 1168.12,170.38" fill="#ff00ff"/>
<polygon points="1158.92,157.86 1168.12,152.96 1168.12,162.76" fill="#ff00ff"/>
<polygon points="1158.92,150.24 1168.12,145.34 1168.12,155.14" fill="#ff00ff"/>
<polygon points="1158.92,142.62 1168.12,137.72 1168.12,147.52" fill="#ff00ff"/>
<rect x="1161.92" y="131.9" width="6.2" height="6.2" fill="#ff0000"/>
<rect x="1161.92" y="124.28" width="6.2" height="6.2" fill="#ff0000"/>
<circle cx="1165.02" cy="119.36" r="3.17" fill="#000000"/>
<circle cx="1165.02" cy="111.74" r="3.17" fill="#000000"/>
<circle cx="1165.02" cy="104.12" r="3.17" fill="#000000"/>
<path d="M1175.06 363.6H1181.66M1178.36 360.3V366.9" stroke="#000000" stroke-width="1.6" fill="none"/>
<polygon points="1178.36,360.88 1182.86,352.48 1173.86,352.48" fill="#9933cc"/>
<polygon points="1172.26,348.36 1181.46,343.46 1181.46,353.26" fill="#ff00ff"/>
<polygon points="1172.26,340.74 1181.46,335.84 1181.46,345.64" fill="#ff00ff"/>
<polygon points="1172.26,333.12 1181.46,328.22 1181.46,338.02" fill="#ff00ff"/>
<polygon points="1172.26,325.5 1181.46,320.6 1181.46,330.4" fill="#ff00ff"/>
<polygon points="1172.26,317.88 1181.46,312.98 1181.46,322.78" fill="#ff00ff"/>
<polygon points="1172.26,310.26 1181.46,305.36 1181.46,315.16" fill="#ff00ff"/>
<polygon points="1172.26,302.64 1181.46,297.74 1181.46,307.54" fill="#ff00ff"/>
<polygon points="1172.26,295.02 1181.46,290.12 1181.46,299.92" fill="#ff00ff"/>
<polygon points="1172.26,287.4 1181.46,282.5 1181.46,292.3" fill="#ff00ff"/>
<polygon points="1172.26,279.78 1181.46,274.88 1181.46,284.68" fill="#ff00ff"/>
<polygon points="1172.26,272.16 1181.46,267.26 1181.46,277.06" fill="#ff00ff"/>
<polygon points="1172.26,264.54 1181.46,259.64 1181.46,269.44" fill="#ff00ff"/>
<polygon points="1172.26,256.92 1181.46,252.02 1181.46,261.82" fill="#ff00ff"/>
<polygon points="1172.26,249.3 1181.46,244.4 1181.46,254.2" fill="#ff00ff"/>
<polygon points="1172.26,241.68 1181.46,236.78 1181.46,246.58" fill="#ff00ff"/>
<polygon points="1172.26,234.06 1181.46,229.16 1181.46,238.96" fill="#ff00ff"/>
<polygon points="1172.26,226.44 1181.46,221.54 1181.46,231.34" fill="#ff00ff"/>
<polygon points="1172.26,218.82 1181.46,213.92 1181.46,223.72" fill="#ff00ff"/>
<polygon points="1172.26,211.2 1181.46,206.3 1181.46,216.1" fill="#ff00ff"/>
<polygon points="1172.26,203.58 1181.46,198.68 1181.46,208.48" fill="#ff00ff"/>
<polygon points="1172.26,195.96 1181.46,191.06 1181.46,200.86" fill="#ff00ff"/>
<polygon points="1178.36,182.84 1182.86,191.24 1173.86,191.24" fill="#0000ff"/>
<rect x="1175.26" y="177.62" width="6.2" height="6.2" fill="#ff0000"/>
<rect x="1175.26" y="170" width="6.2" height="6.2" fill="#ff0000"/>
<circle cx="1178.36" cy="165.08" r="3.17" fill="#000000"/>
<circle cx="1178.36" cy="157.46" r="3.17" fill="#000000"/>
<circle cx="1178.36" cy="149.84" r="3.17" fill="#000000"/>
<path d="M1188.4 363.6H1195M1191.7 360.3V366.9" stroke="#000000" stroke-width="1.6" fill="none"/>
<polygon points="1191.7,360.88 1196.2,352.48 1187.2,352.48" fill="#9933cc"/>
<polygon points="1185.6,348.36 1194.8,343.46 1194.8,353.26" fill="#ff00ff"/>
<polygon points="1185.6,340.74 1194.8,335.84 1194.8,345.64" fill="#ff00ff"/>
<polygon points="1185.6,333.12 1194.8,328.22 1194.8,338.02" fill="#ff00ff"/>
<polygon points="1185.6,325.5 1194.8,320.6 1194.8,330.4" fill="#ff00ff"/>
<polygon points="1185.6,317.88 1194.8,312.98 1194.8,322.78" fill="#ff00ff"/>
<polygon points="1185.6,310.26 1194.8,305.36 1194.8,315.16" fill="#ff00ff"/>
<polygon points="1185.6,302.64 1194.8,297.74 1194.8,307.54" fill="#ff00ff"/>
<polygon points="1185.6,295.02 1194.8,290.12 1194.8,299.92" fill="#ff00ff"/>
<polygon points="1185.6,287.4 1194.8,282.5 1194.8,292.3" fill="#ff00ff"/>
<polygon points="1185.6,279.78 1194.8,274.88 1194.8,284.68" fill="#ff00ff"/>
<polygon points="1185.6,272.16 1194.8,267.26 1194.8,277.06" fill="#ff00ff"/>
<polygon points="1185.6,264.54 1194.8,259.64 1194.8,269.44" fill="#ff00ff"/>
<polygon points="1185.6,256.92 1194.8,252.02 1194.8,261.82" fill="#ff00ff"/>
<polygon points="1185.6,249.3 1194.8,244.4 1194.8,254.2" fill="#ff00ff"/>
<polygon points="1185.6,241.68 1194.8,236.78 1194.8,246.58" fill="#ff00ff"/>
<polygon points="1185.6,234.06 1194.8,229.16 1194.8,238.96" fill="#ff00ff"/>
<polygon points="1185.6,226.44 1194.8,221.54 1194.8,231.34" fill="#ff00ff"/>
<polygon points="1191.7,213.32 1196.2,221.72 1187.2,221.72" fill="#0000ff"/>
<rect x="1188.6" y="208.1" width="6.2" height="6.2" fill="#ff0000"/>
<rect x="1188.6" y="200.48" width="6.2" height="6.2" fill="#ff0000"/>
<circle cx="1191.7" cy="195.56" r="3.17" fill="#000000"/>
<circle cx="1191.7" cy="187.94" r="3.17" fill="#000000"/>
<circle cx="1191.7" cy="180.32" r="3.17" fill="#000000"/>
<path d="M1201.74 363.6H1208.34M1205.04 360.3V366.9" stroke="#000000" stroke-width="1.6" fill="none"/>
<polygon points="1205.04,360.88 1209.54,352.48 1200.54,352.48" fill="#9933cc"/>
<polygon points="1198.94,348.36 1208.14,343.46 1208.14,353.26" fill="#ff00ff"/>
<polygon points="1198.94,340.74 1208.14,335.84 1208.14,345.64" fill="#ff00ff"/>
<polygon points="1198.94,333.12 1208.14,328.22 1208.14,338.02" fill="#ff00ff"/>
<polygon points="1198.94,325.5 1208.14,320.6 1208.14,330.4" fill="#ff00ff"/>
<polygon points="1198.94,317.88 1208.14,312.98 1208.14,322.78" fill="#ff00ff"/>
<polygon points="1198.94,310.26 1208.14,305.36 1208.14,315.16" fill="#ff00ff"/>
<polygon points="1198.94,302.64 1208.14,297.74 1208.14,307.54" fill="#ff00ff"/>
<polygon points="1198.94,295.02 1208.14,290.12 1208.14,299.92" fill="#ff00ff"/>
<polygon points="1198.94,287.4 1208.14,282.5 1208.14,292.3" fill="#ff00ff"/>
<polygon points="1198.94,279.78 1208.14,274.88 1208.14,284.68" fill="#ff00ff"/>
<polygon points="1198.94,272.16 1208.14,267.26 1208.14,277.06" fill="#ff00ff"/>
<polygon points="1198.94,264.54 1208.14,259.64 1208.14,269.44" fill="#ff00ff"/>
<polygon points="1205.04,251.42 1209.54,259.82 1200.54,259.82" fill="#0000ff"/>
<rect x="1201.94" y="246.2" width="6.2" height="6.2" fill="#ff0000"/>
<rect x="1201.94" y="238.58" width="6.2" height="6.2" fill="#ff0000"/>
<circle cx="1205.04" cy="233.66" r="3.17" fill="#000000"/>
<circle cx="1205.04" cy="226.04" r="3.17" fill="#000000"/>
<path d="M1215.08 363.6H1221.68M1218.38 360.3V366.9" stroke="#000000" stroke-width="1.6" fill="none"/>
<polygon points="1218.38,360.88 1222.88,352.48 1213.88,352.48" fill="#9933cc"/>
<polygon points="1212.28,348.36 1221.48,343.46 1221.48,353.26" fill="#ff00ff"/>
<polygon points="1212.28,340.74 1221.48,335.84 1221.48,345.64" fill="#ff00ff"/>
<polygon points="1212.28,333.12 1221.48,328.22 1221.48,338.02" fill="#ff00ff"/>
<polygon points="1212.28,325.5 1221.48,320.6 1221.48,330.4" fill="#ff00ff"/>
<polygon points="1212.28,317.88 1221.48,312.98 1221.48,322.78" fill="#ff00ff"/>
<polygon points="1212.28,310.26 1221.48,305.36 1221.48,315.16" fill="#ff00ff"/>
<polygon points="1212.28,302.64 1221.48,297.74 1221.48,307.54" fill="#ff00ff"/>
<polygon points="1212.28,295.02 1221.48,290.12 1221.48,299.92" fill="#ff00ff"/>
<polygon points="1212.28,287.4 1221.48,282.5 1221.48,292.3" fill="#ff00ff"/>
<polygon points="1218.38,274.28 1222.88,282.68 1213.88,282.68" fill="#0000ff"/>
<rect x="1215.28" y="269.06" width="6.2" height="6.2" fill="#ff0000"/>
<rect x="1215.28" y="261.44" width="6.2" height="6.2" fill="#ff0000"/>
<circle cx="1218.38" cy="256.52" r="3.17" fill="#000000"/>
<circle cx="1218.38" cy="248.9" r="3.17" fill="#000000"/>
<path d="M1228.42 363.6H1235.02M1231.72 360.3V366.9" stroke="#000000" stroke-width="1.6" fill="none"/>
<polygon points="1231.72,360.88 1236.22,352.48 1227.22,352.48" fill="#9933cc"/>
<polygon points="1225.62,348.36 1234.82,343.46 1234.82,353.26" fill="#ff00ff"/>
<polygon points="1225.62,340.74 1234.82,335.84 1234.82,345.64" fill="#ff00ff"/>
<polygon points="1225.62,333.12 1234.82,328.22 1234.82,338.02" fill="#ff00ff"/>
<polygon points="1225.62,325.5 1234.82,320.6 1234.82,330.4" fill="#ff00ff"/>
<polygon points="1225.62,317.88 1234.82,312.98 1234.82,322.78" fill="#ff00ff"/>
<polygon points="1225.62,310.26 1234.82,305.36 1234.82,315.16" fill="#ff00ff"/>
<polygon points="1231.72,297.14 1236.22,305.54 1227.22,305.54" fill="#0000ff"/>
<rect x="1228.62" y="291.92" width="6.2" height="6.2" fill="#ff0000"/>
<rect x="1228.62" y="284.3" width="6.2" height="6.2" fill="#ff0000"/>
<circle cx="1231.72" cy="279.38" r="3.17" fill="#000000"/>
<circle cx="1231.72" cy="271.76" r="3.17" fill="#000000"/>
<circle cx="1231.72" cy="264.14" r="3.17" fill="#000000"/>
<path d="M1241.76 363.6H1248.36M1245.06 360.3V366.9" stroke="#000000" stroke-width="1.6" fill="none"/>
<polygon points="1245.06,360.88 1249.56,352.48 1240.56,352.48" fill="#9933cc"/>
<polygon points="1238.96,348.36 1248.16,343.46 1248.16,353.26" fill="#ff00ff"/>
<polygon points="1238.96,340.74 1248.16,335.84 1248.16,345.64" fill="#ff00ff"/>
<polygon points="1238.96,333.12 1248.16,328.22 1248.16,338.02" fill="#ff00ff"/>
<polygon points="1238.96,325.5 1248.16,320.6 1248.16,330.4" fill="#ff00ff"/>
<polygon points="1238.96,317.88 1248.16,312.98 1248.16,322.78" fill="#ff00ff"/>
<polygon points="1245.06,304.76 1249.56,313.16 1240.56,313.16" fill="#0000ff"/>
<rect x="1241.96" y="299.54" width="6.2" height="6.2" fill="#ff0000"/>
<circle cx="1245.06" cy="294.62" r="3.17" fill="#000000"/>
<circle cx="1245.06" cy="287" r="3.17" fill="#000000"/>
<circle cx="1245.06" cy="279.38" r="3.17" fill="#000000"/>
<path d="M1255.1 363.6H1261.7M1258.4 360.3V366.9" stroke="#000000" stroke-width="1.6" fill="none"/>
<polygon points="1258.4,360.88 1262.9,352.48 1253.9,352.48" fill="#9933cc"/>
<polygon points="1252.3,348.36 1261.5,343.46 1261.5,353.26" fill="#ff00ff"/>
<polygon points="1252.3,340.74 1261.5,335.84 1261.5,345.64" fill="#ff00ff"/>
<polygon points="1252.3,333.12 1261.5,328.22 1261.5,338.02" fill="#ff00ff"/>
<polygon points="1252.3,325.5 1261.5,320.6 1261.5,330.4" fill="#ff00ff"/>
<polygon points="1258.4,312.38 1262.9,320.78 1253.9,320.78" fill="#0000ff"/>
<rect x="1255.3" y="307.16" width="6.2" height="6.2" fill="#ff0000"/>
<circle cx="1258.4" cy="302.24" r="3.17" fill="#000000"/>
<circle cx="1258.4" cy="294.62" r="3.17" fill="#000000"/>
<polygon points="1271.74,368.5 1276.24,360.1 1267.24,360.1" fill="#9933cc"/>
<polygon points="1265.64,355.98 1274.84,351.08 1274.84,360.88" fill="#ff00ff"/>
<polygon points="1265.64,348.36 1274.84,343.46 1274.84,353.26" fill="#ff00ff"/>
<polygon points="1265.64,340.74 1274.84,335.84 1274.84,345.64" fill="#ff00ff"/>
<polygon points="1265.64,333.12 1274.84,328.22 1274.84,338.02" fill="#ff00ff"/>
<polygon points="1265.64,325.5 1274.84,320.6 1274.84,330.4" fill="#ff00ff"/>
<polygon points="1271.74,312.38 1276.24,320.78 1267.24,320.78" fill="#0000ff"/>
<rect x="1268.64" y="307.16" width="6.2" height="6.2" fill="#ff0000"/>
<circle cx="1271.74" cy="302.24" r="3.17" fill="#000000"/>
<circle cx="1271.74" cy="294.62" r="3.17" fill="#000000"/>
<circle cx="1271.74" cy="287" r="3.17" fill="#000000"/>
<polygon points="1285.08,368.5 1289.58,360.1 1280.58,360.1" fill="#9933cc"/>
<polygon points="1278.98,355.98 1288.18,351.08 1288.18,360.88" fill="#ff00ff"/>
<polygon points="1278.98,348.36 1288.18,343.46 1288.18,353.26" fill="#ff00ff"/>
<polygon points="1278.98,340.74 1288.18,335.84 1288.18,345.64" fill="#ff00ff"/>
<polygon points="1278.98,333.12 1288.18,328.22 1288.18,338.02" fill="#ff00ff"/>
<circle cx="1285.08" cy="325.1" r="3.17" fill="#000000"/>
<circle cx="1285.08" cy="317.48" r="3.17" fill="#000000"/>
<polygon points="1298.42,368.5 1302.92,360.1 1293.92,360.1" fill="#9933cc"/>
<polygon points="1292.32,355.98 1301.52,351.08 1301.52,360.88" fill="#ff00ff"/>
<polygon points="1292.32,348.36 1301.52,343.46 1301.52,353.26" fill="#ff00ff"/>
<rect x="1295.32" y="337.64" width="6.2" height="6.2" fill="#ff0000"/>
<circle cx="1298.42" cy="332.72" r="3.17" fill="#000000"/>
<polygon points="1311.76,368.5 1316.26,360.1 1307.26,360.1" fill="#9933cc"/>
<polygon points="1305.66,355.98 1314.86,351.08 1314.86,360.88" fill="#ff00ff"/>
<rect x="1308.66" y="345.26" width="6.2" height="6.2" fill="#ff0000"/>
<circle cx="1311.76" cy="340.34" r="3.17" fill="#000000"/>
<polygon points="1319,363.6 1328.2,358.7 1328.2,368.5" fill="#ff00ff"/>
<circle cx="1325.1" cy="355.58" r="3.17" fill="#000000"/>
<circle cx="1338.44" cy="363.2" r="3.17" fill="#000000"/>
</g>
<text x="786.4" y="31.2" font-size="39" font-weight="bold" textLength="50.8" lengthAdjust="spacingAndGlyphs">(b)</text>
<text x="802.4" y="73.4" font-size="19.1" textLength="112.9" lengthAdjust="spacing">Market classes</text>
<circle cx="1260.8" cy="69.1" r="4.9" fill="#000000"/>
<text x="1275" y="75.6" font-size="14" textLength="37.9" lengthAdjust="spacing">CNHR</text>
<rect x="1256.4" y="85.5" width="8.8" height="8.8" fill="#ff0000"/>
<text x="1275" y="96" font-size="14" textLength="32.5" lengthAdjust="spacing">CPSR</text>
<polygon points="1254.9,109.6 1260.8,103.7 1266.7,109.6 1260.8,115.5" fill="#5fc85f"/>
<text x="1275" y="116.2" font-size="14" textLength="36" lengthAdjust="spacing">CPSW</text>
<polygon points="1260.8,123.95 1266.6,132.75 1255,132.75" fill="#0000ff"/>
<text x="1275" y="135.2" font-size="14" textLength="38" lengthAdjust="spacing">CWES</text>
<polygon points="1266.4,150.3 1257.4,144.5 1257.4,156.1" fill="#ff9600"/>
<text x="1275" y="155.6" font-size="14" textLength="53.8" lengthAdjust="spacing">CWHWS</text>
<polygon points="1255.3,169.4 1264.3,163.6 1264.3,175.2" fill="#ff00ff"/>
<text x="1275" y="176" font-size="14" textLength="38" lengthAdjust="spacing">CWRS</text>
<polygon points="1260.8,195.45 1266.6,186.65 1255,186.65" fill="#9933cc"/>
<text x="1275" y="196" font-size="14" textLength="35.5" lengthAdjust="spacing">CWSP</text>
<path d="M1256.8 210H1264.8M1260.8 206V214" stroke="#000000" stroke-width="1.6" fill="none"/>
<text x="1275" y="215.4" font-size="14" textLength="50" lengthAdjust="spacing">CWSWS</text>
<text x="1009.2" y="416.1" font-size="18" textLength="122.2" lengthAdjust="spacing">Genetic distance</text>
<text x="772.4" y="448.1" font-size="15.5" textLength="315" lengthAdjust="spacing">Each symbol represents up to 11 observations.</text>
</g>
<g id="panel-c">
<rect x="1447.5" y="52.6" width="547.3" height="308.2" fill="none" stroke="#a8a8a8" stroke-width="1.3"/>
<text x="1434.6" y="383.8" font-size="17.8" textLength="30.8" lengthAdjust="spacing">0.00</text>
<text x="1509.9" y="383.8" font-size="17.8" textLength="30.8" lengthAdjust="spacing">0.06</text>
<text x="1585.2" y="383.8" font-size="17.8" textLength="30.8" lengthAdjust="spacing">0.12</text>
<text x="1660.5" y="383.8" font-size="17.8" textLength="30.8" lengthAdjust="spacing">0.18</text>
<text x="1735.8" y="383.8" font-size="17.8" textLength="30.8" lengthAdjust="spacing">0.24</text>
<text x="1811.1" y="383.8" font-size="17.8" textLength="30.8" lengthAdjust="spacing">0.30</text>
<text x="1886.4" y="383.8" font-size="17.8" textLength="30.8" lengthAdjust="spacing">0.36</text>
<text x="1961.7" y="383.8" font-size="17.8" textLength="30.8" lengthAdjust="spacing">0.42</text>
<path d="M1451.2 360.8v5.2M1526.5 360.8v5.2M1601.8 360.8v5.2M1677.1 360.8v5.2M1752.4 360.8v5.2M1827.7 360.8v5.2M1903 360.8v5.2M1978.3 360.8v5.2" stroke="#a8a8a8" stroke-width="1.3" fill="none"/>
<clipPath id="clip-c"><rect x="1447.5" y="52.6" width="547.3" height="308.5"/></clipPath>
<g clip-path="url(#clip-c)">
<polygon points="1458.01,357.3 1466.67,352.69 1466.67,361.91" fill="#ff00ff"/>
<polygon points="1459.66,349.48 1463.75,345.39 1467.84,349.48 1463.75,353.57" fill="#5fc85f"/>
<polygon points="1482.51,357.3 1473.85,352.69 1473.85,361.91" fill="#ff9600"/>
<polygon points="1476.3,344.31 1480.53,352.21 1472.07,352.21" fill="#0000ff"/>
<polygon points="1483.11,357.3 1491.77,352.69 1491.77,361.91" fill="#ff00ff"/>
<polygon points="1488.85,344.31 1493.08,352.21 1484.62,352.21" fill="#0000ff"/>
<polygon points="1484.76,341.66 1488.85,337.57 1492.94,341.66 1488.85,345.76" fill="#5fc85f"/>
<polygon points="1501.4,352.12 1505.63,360.03 1497.17,360.03" fill="#0000ff"/>
<polygon points="1497.31,349.48 1501.4,345.39 1505.49,349.48 1501.4,353.57" fill="#5fc85f"/>
<circle cx="1501.4" cy="341.29" r="2.99" fill="#000000"/>
<polygon points="1508.21,357.3 1516.87,352.69 1516.87,361.91" fill="#ff00ff"/>
<polygon points="1520.16,349.48 1511.5,344.87 1511.5,354.09" fill="#ff9600"/>
<polygon points="1513.95,336.49 1518.18,344.39 1509.72,344.39" fill="#0000ff"/>
<polygon points="1532.71,357.3 1524.05,352.69 1524.05,361.91" fill="#ff9600"/>
<polygon points="1526.5,344.31 1530.73,352.21 1522.27,352.21" fill="#0000ff"/>
<polygon points="1522.41,341.66 1526.5,337.57 1530.59,341.66 1526.5,345.76" fill="#5fc85f"/>
<polygon points="1545.26,357.3 1536.6,352.69 1536.6,361.91" fill="#ff9600"/>
<polygon points="1539.05,344.31 1543.28,352.21 1534.82,352.21" fill="#0000ff"/>
<polygon points="1557.81,357.3 1549.15,352.69 1549.15,361.91" fill="#ff9600"/>
<rect x="1548.68" y="346.56" width="5.83" height="5.83" fill="#ff0000"/>
<circle cx="1551.6" cy="341.29" r="2.99" fill="#000000"/>
<polygon points="1558.41,357.3 1567.07,352.69 1567.07,361.91" fill="#ff00ff"/>
<polygon points="1570.36,349.48 1561.7,344.87 1561.7,354.09" fill="#ff9600"/>
<polygon points="1570.96,357.3 1579.62,352.69 1579.62,361.91" fill="#ff00ff"/>
<polygon points="1582.91,349.48 1574.25,344.87 1574.25,354.09" fill="#ff9600"/>
<polygon points="1583.51,357.3 1592.17,352.69 1592.17,361.91" fill="#ff00ff"/>
<polygon points="1595.46,349.48 1586.8,344.87 1586.8,354.09" fill="#ff9600"/>
<polygon points="1589.25,336.49 1593.48,344.39 1585.02,344.39" fill="#0000ff"/>
<rect x="1586.33" y="330.93" width="5.83" height="5.83" fill="#ff0000"/>
<circle cx="1589.25" cy="325.65" r="2.99" fill="#000000"/>
<polygon points="1596.06,357.3 1604.72,352.69 1604.72,361.91" fill="#ff00ff"/>
<polygon points="1608.01,349.48 1599.35,344.87 1599.35,354.09" fill="#ff9600"/>
<polygon points="1601.8,336.49 1606.03,344.39 1597.57,344.39" fill="#0000ff"/>
<polygon points="1597.71,333.84 1601.8,329.75 1605.89,333.84 1601.8,337.94" fill="#5fc85f"/>
<circle cx="1601.8" cy="325.65" r="2.99" fill="#000000"/>
<polygon points="1608.61,357.3 1617.27,352.69 1617.27,361.91" fill="#ff00ff"/>
<polygon points="1620.56,349.48 1611.9,344.87 1611.9,354.09" fill="#ff9600"/>
<polygon points="1614.35,336.49 1618.58,344.39 1610.12,344.39" fill="#0000ff"/>
<rect x="1611.43" y="330.93" width="5.83" height="5.83" fill="#ff0000"/>
<circle cx="1614.35" cy="325.65" r="2.99" fill="#000000"/>
<polygon points="1621.16,357.3 1629.82,352.69 1629.82,361.91" fill="#ff00ff"/>
<polygon points="1633.11,349.48 1624.45,344.87 1624.45,354.09" fill="#ff9600"/>
<polygon points="1633.11,341.66 1624.45,337.05 1624.45,346.27" fill="#ff9600"/>
<polygon points="1626.9,328.67 1631.13,336.57 1622.67,336.57" fill="#0000ff"/>
<circle cx="1626.9" cy="325.65" r="2.99" fill="#000000"/>
<polygon points="1633.71,357.3 1642.37,352.69 1642.37,361.91" fill="#ff00ff"/>
<polygon points="1645.66,349.48 1637,344.87 1637,354.09" fill="#ff9600"/>
<polygon points="1645.66,341.66 1637,337.05 1637,346.27" fill="#ff9600"/>
<polygon points="1639.45,328.67 1643.68,336.57 1635.22,336.57" fill="#0000ff"/>
<rect x="1636.53" y="323.11" width="5.83" height="5.83" fill="#ff0000"/>
<polygon points="1646.26,357.3 1654.92,352.69 1654.92,361.91" fill="#ff00ff"/>
<polygon points="1658.21,349.48 1649.55,344.87 1649.55,354.09" fill="#ff9600"/>
<polygon points="1658.21,341.66 1649.55,337.05 1649.55,346.27" fill="#ff9600"/>
<polygon points="1658.21,333.84 1649.55,329.23 1649.55,338.45" fill="#ff9600"/>
<polygon points="1652,320.85 1656.23,328.75 1647.77,328.75" fill="#0000ff"/>
<rect x="1649.08" y="315.29" width="5.83" height="5.83" fill="#ff0000"/>
<polygon points="1658.81,357.3 1667.47,352.69 1667.47,361.91" fill="#ff00ff"/>
<polygon points="1658.81,349.48 1667.47,344.87 1667.47,354.09" fill="#ff00ff"/>
<polygon points="1658.81,341.66 1667.47,337.05 1667.47,346.27" fill="#ff00ff"/>
<polygon points="1670.76,333.84 1662.1,329.23 1662.1,338.45" fill="#ff9600"/>
<polygon points="1670.76,326.02 1662.1,321.41 1662.1,330.63" fill="#ff9600"/>
<polygon points="1670.76,318.21 1662.1,313.59 1662.1,322.82" fill="#ff9600"/>
<polygon points="1664.55,305.21 1668.78,313.11 1660.32,313.11" fill="#0000ff"/>
<circle cx="1664.55" cy="302.19" r="2.99" fill="#000000"/>
<polygon points="1671.36,357.3 1680.02,352.69 1680.02,361.91" fill="#ff00ff"/>
<polygon points="1671.36,349.48 1680.02,344.87 1680.02,354.09" fill="#ff00ff"/>
<polygon points="1671.36,341.66 1680.02,337.05 1680.02,346.27" fill="#ff00ff"/>
<polygon points="1683.31,333.84 1674.65,329.23 1674.65,338.45" fill="#ff9600"/>
<polygon points="1683.31,326.02 1674.65,321.41 1674.65,330.63" fill="#ff9600"/>
<polygon points="1683.31,318.21 1674.65,313.59 1674.65,322.82" fill="#ff9600"/>
<polygon points="1677.1,305.21 1681.33,313.11 1672.87,313.11" fill="#0000ff"/>
<polygon points="1673.01,302.57 1677.1,298.47 1681.19,302.57 1677.1,306.66" fill="#5fc85f"/>
<circle cx="1677.1" cy="294.37" r="2.99" fill="#000000"/>
<polygon points="1683.91,357.3 1692.57,352.69 1692.57,361.91" fill="#ff00ff"/>
<polygon points="1683.91,349.48 1692.57,344.87 1692.57,354.09" fill="#ff00ff"/>
<polygon points="1683.91,341.66 1692.57,337.05 1692.57,346.27" fill="#ff00ff"/>
<polygon points="1683.91,333.84 1692.57,329.23 1692.57,338.45" fill="#ff00ff"/>
<polygon points="1683.91,326.02 1692.57,321.41 1692.57,330.63" fill="#ff00ff"/>
<polygon points="1695.86,318.21 1687.2,313.59 1687.2,322.82" fill="#ff9600"/>
<polygon points="1695.86,310.39 1687.2,305.78 1687.2,315" fill="#ff9600"/>
<polygon points="1695.86,302.57 1687.2,297.96 1687.2,307.18" fill="#ff9600"/>
<polygon points="1689.65,289.57 1693.88,297.48 1685.42,297.48" fill="#0000ff"/>
<circle cx="1689.65" cy="286.55" r="2.99" fill="#000000"/>
<polygon points="1696.46,357.3 1705.12,352.69 1705.12,361.91" fill="#ff00ff"/>
<polygon points="1696.46,349.48 1705.12,344.87 1705.12,354.09" fill="#ff00ff"/>
<polygon points="1696.46,341.66 1705.12,337.05 1705.12,346.27" fill="#ff00ff"/>
<polygon points="1696.46,333.84 1705.12,329.23 1705.12,338.45" fill="#ff00ff"/>
<polygon points="1696.46,326.02 1705.12,321.41 1705.12,330.63" fill="#ff00ff"/>
<polygon points="1696.46,318.21 1705.12,313.59 1705.12,322.82" fill="#ff00ff"/>
<polygon points="1708.41,310.39 1699.75,305.78 1699.75,315" fill="#ff9600"/>
<polygon points="1708.41,302.57 1699.75,297.96 1699.75,307.18" fill="#ff9600"/>
<polygon points="1702.2,289.57 1706.43,297.48 1697.97,297.48" fill="#0000ff"/>
<polygon points="1698.11,286.93 1702.2,282.84 1706.29,286.93 1702.2,291.02" fill="#5fc85f"/>
<polygon points="1709.01,357.3 1717.67,352.69 1717.67,361.91" fill="#ff00ff"/>
<polygon points="1709.01,349.48 1717.67,344.87 1717.67,354.09" fill="#ff00ff"/>
<polygon points="1709.01,341.66 1717.67,337.05 1717.67,346.27" fill="#ff00ff"/>
<polygon points="1709.01,333.84 1717.67,329.23 1717.67,338.45" fill="#ff00ff"/>
<polygon points="1709.01,326.02 1717.67,321.41 1717.67,330.63" fill="#ff00ff"/>
<polygon points="1709.01,318.21 1717.67,313.59 1717.67,322.82" fill="#ff00ff"/>
<polygon points="1709.01,310.39 1717.67,305.78 1717.67,315" fill="#ff00ff"/>
<polygon points="1709.01,302.57 1717.67,297.96 1717.67,307.18" fill="#ff00ff"/>
<polygon points="1709.01,294.75 1717.67,290.14 1717.67,299.36" fill="#ff00ff"/>
<polygon points="1709.01,286.93 1717.67,282.32 1717.67,291.54" fill="#ff00ff"/>
<polygon points="1720.96,279.11 1712.3,274.5 1712.3,283.72" fill="#ff9600"/>
<polygon points="1720.96,271.29 1712.3,266.68 1712.3,275.9" fill="#ff9600"/>
<polygon points="1720.96,263.47 1712.3,258.86 1712.3,268.08" fill="#ff9600"/>
<polygon points="1720.96,255.65 1712.3,251.04 1712.3,260.26" fill="#ff9600"/>
<polygon points="1714.75,242.66 1718.98,250.56 1710.52,250.56" fill="#0000ff"/>
<polygon points="1714.75,234.84 1718.98,242.74 1710.52,242.74" fill="#0000ff"/>
<polygon points="1710.66,232.2 1714.75,228.1 1718.84,232.2 1714.75,236.29" fill="#5fc85f"/>
<polygon points="1721.56,357.3 1730.22,352.69 1730.22,361.91" fill="#ff00ff"/>
<polygon points="1721.56,349.48 1730.22,344.87 1730.22,354.09" fill="#ff00ff"/>
<polygon points="1721.56,341.66 1730.22,337.05 1730.22,346.27" fill="#ff00ff"/>
<polygon points="1721.56,333.84 1730.22,329.23 1730.22,338.45" fill="#ff00ff"/>
<polygon points="1721.56,326.02 1730.22,321.41 1730.22,330.63" fill="#ff00ff"/>
<polygon points="1721.56,318.21 1730.22,313.59 1730.22,322.82" fill="#ff00ff"/>
<polygon points="1721.56,310.39 1730.22,305.78 1730.22,315" fill="#ff00ff"/>
<polygon points="1721.56,302.57 1730.22,297.96 1730.22,307.18" fill="#ff00ff"/>
<polygon points="1721.56,294.75 1730.22,290.14 1730.22,299.36" fill="#ff00ff"/>
<polygon points="1721.56,286.93 1730.22,282.32 1730.22,291.54" fill="#ff00ff"/>
<polygon points="1733.51,279.11 1724.85,274.5 1724.85,283.72" fill="#ff9600"/>
<polygon points="1733.51,271.29 1724.85,266.68 1724.85,275.9" fill="#ff9600"/>
<polygon points="1733.51,263.47 1724.85,258.86 1724.85,268.08" fill="#ff9600"/>
<polygon points="1733.51,255.65 1724.85,251.04 1724.85,260.26" fill="#ff9600"/>
<polygon points="1727.3,242.66 1731.53,250.56 1723.07,250.56" fill="#0000ff"/>
<polygon points="1727.3,234.84 1731.53,242.74 1723.07,242.74" fill="#0000ff"/>
<rect x="1724.38" y="229.28" width="5.83" height="5.83" fill="#ff0000"/>
<circle cx="1727.3" cy="224" r="2.99" fill="#000000"/>
<polygon points="1734.11,357.3 1742.77,352.69 1742.77,361.91" fill="#ff00ff"/>
<polygon points="1734.11,349.48 1742.77,344.87 1742.77,354.09" fill="#ff00ff"/>
<polygon points="1734.11,341.66 1742.77,337.05 1742.77,346.27" fill="#ff00ff"/>
<polygon points="1734.11,333.84 1742.77,329.23 1742.77,338.45" fill="#ff00ff"/>
<polygon points="1734.11,326.02 1742.77,321.41 1742.77,330.63" fill="#ff00ff"/>
<polygon points="1734.11,318.21 1742.77,313.59 1742.77,322.82" fill="#ff00ff"/>
<polygon points="1734.11,310.39 1742.77,305.78 1742.77,315" fill="#ff00ff"/>
<polygon points="1734.11,302.57 1742.77,297.96 1742.77,307.18" fill="#ff00ff"/>
<polygon points="1734.11,294.75 1742.77,290.14 1742.77,299.36" fill="#ff00ff"/>
<polygon points="1734.11,286.93 1742.77,282.32 1742.77,291.54" fill="#ff00ff"/>
<polygon points="1734.11,279.11 1742.77,274.5 1742.77,283.72" fill="#ff00ff"/>
<polygon points="1734.11,271.29 1742.77,266.68 1742.77,275.9" fill="#ff00ff"/>
<polygon points="1746.06,263.47 1737.4,258.86 1737.4,268.08" fill="#ff9600"/>
<polygon points="1746.06,255.65 1737.4,251.04 1737.4,260.26" fill="#ff9600"/>
<polygon points="1746.06,247.83 1737.4,243.22 1737.4,252.44" fill="#ff9600"/>
<polygon points="1739.85,234.84 1744.08,242.74 1735.62,242.74" fill="#0000ff"/>
<polygon points="1735.76,232.2 1739.85,228.1 1743.94,232.2 1739.85,236.29" fill="#5fc85f"/>
<circle cx="1739.85" cy="224" r="2.99" fill="#000000"/>
<polygon points="1746.66,357.3 1755.32,352.69 1755.32,361.91" fill="#ff00ff"/>
<polygon points="1746.66,349.48 1755.32,344.87 1755.32,354.09" fill="#ff00ff"/>
<polygon points="1746.66,341.66 1755.32,337.05 1755.32,346.27" fill="#ff00ff"/>
<polygon points="1746.66,333.84 1755.32,329.23 1755.32,338.45" fill="#ff00ff"/>
<polygon points="1746.66,326.02 1755.32,321.41 1755.32,330.63" fill="#ff00ff"/>
<polygon points="1746.66,318.21 1755.32,313.59 1755.32,322.82" fill="#ff00ff"/>
<polygon points="1746.66,310.39 1755.32,305.78 1755.32,315" fill="#ff00ff"/>
<polygon points="1746.66,302.57 1755.32,297.96 1755.32,307.18" fill="#ff00ff"/>
<polygon points="1746.66,294.75 1755.32,290.14 1755.32,299.36" fill="#ff00ff"/>
<polygon points="1746.66,286.93 1755.32,282.32 1755.32,291.54" fill="#ff00ff"/>
<polygon points="1746.66,279.11 1755.32,274.5 1755.32,283.72" fill="#ff00ff"/>
<polygon points="1746.66,271.29 1755.32,266.68 1755.32,275.9" fill="#ff00ff"/>
<polygon points="1746.66,263.47 1755.32,258.86 1755.32,268.08" fill="#ff00ff"/>
<polygon points="1758.61,255.65 1749.95,251.04 1749.95,260.26" fill="#ff9600"/>
<polygon points="1758.61,247.83 1749.95,243.22 1749.95,252.44" fill="#ff9600"/>
<polygon points="1758.61,240.02 1749.95,235.4 1749.95,244.63" fill="#ff9600"/>
<polygon points="1758.61,232.2 1749.95,227.59 1749.95,236.81" fill="#ff9600"/>
<polygon points="1758.61,224.38 1749.95,219.77 1749.95,228.99" fill="#ff9600"/>
<polygon points="1752.4,211.38 1756.63,219.29 1748.17,219.29" fill="#0000ff"/>
<polygon points="1752.4,203.56 1756.63,211.47 1748.17,211.47" fill="#0000ff"/>
<polygon points="1748.31,200.92 1752.4,196.83 1756.49,200.92 1752.4,205.01" fill="#5fc85f"/>
<circle cx="1752.4" cy="192.72" r="2.99" fill="#000000"/>
<polygon points="1759.21,357.3 1767.87,352.69 1767.87,361.91" fill="#ff00ff"/>
<polygon points="1759.21,349.48 1767.87,344.87 1767.87,354.09" fill="#ff00ff"/>
<polygon points="1759.21,341.66 1767.87,337.05 1767.87,346.27" fill="#ff00ff"/>
<polygon points="1759.21,333.84 1767.87,329.23 1767.87,338.45" fill="#ff00ff"/>
<polygon points="1759.21,326.02 1767.87,321.41 1767.87,330.63" fill="#ff00ff"/>
<polygon points="1759.21,318.21 1767.87,313.59 1767.87,322.82" fill="#ff00ff"/>
<polygon points="1759.21,310.39 1767.87,305.78 1767.87,315" fill="#ff00ff"/>
<polygon points="1759.21,302.57 1767.87,297.96 1767.87,307.18" fill="#ff00ff"/>
<polygon points="1759.21,294.75 1767.87,290.14 1767.87,299.36" fill="#ff00ff"/>
<polygon points="1759.21,286.93 1767.87,282.32 1767.87,291.54" fill="#ff00ff"/>
<polygon points="1759.21,279.11 1767.87,274.5 1767.87,283.72" fill="#ff00ff"/>
<polygon points="1759.21,271.29 1767.87,266.68 1767.87,275.9" fill="#ff00ff"/>
<polygon points="1759.21,263.47 1767.87,258.86 1767.87,268.08" fill="#ff00ff"/>
<polygon points="1759.21,255.65 1767.87,251.04 1767.87,260.26" fill="#ff00ff"/>
<polygon points="1759.21,247.83 1767.87,243.22 1767.87,252.44" fill="#ff00ff"/>
<polygon points="1759.21,240.02 1767.87,235.4 1767.87,244.63" fill="#ff00ff"/>
<polygon points="1759.21,232.2 1767.87,227.59 1767.87,236.81" fill="#ff00ff"/>
<polygon points="1771.16,224.38 1762.5,219.77 1762.5,228.99" fill="#ff9600"/>
<polygon points="1771.16,216.56 1762.5,211.95 1762.5,221.17" fill="#ff9600"/>
<polygon points="1771.16,208.74 1762.5,204.13 1762.5,213.35" fill="#ff9600"/>
<polygon points="1771.16,200.92 1762.5,196.31 1762.5,205.53" fill="#ff9600"/>
<polygon points="1771.16,193.1 1762.5,188.49 1762.5,197.71" fill="#ff9600"/>
<polygon points="1771.16,185.28 1762.5,180.67 1762.5,189.89" fill="#ff9600"/>
<polygon points="1764.95,172.29 1769.18,180.19 1760.72,180.19" fill="#0000ff"/>
<polygon points="1764.95,164.47 1769.18,172.37 1760.72,172.37" fill="#0000ff"/>
<polygon points="1760.86,161.83 1764.95,157.73 1769.04,161.83 1764.95,165.92" fill="#5fc85f"/>
<rect x="1762.03" y="151.09" width="5.83" height="5.83" fill="#ff0000"/>
<circle cx="1764.95" cy="145.81" r="2.99" fill="#000000"/>
<polygon points="1771.76,357.3 1780.42,352.69 1780.42,361.91" fill="#ff00ff"/>
<polygon points="1771.76,349.48 1780.42,344.87 1780.42,354.09" fill="#ff00ff"/>
<polygon points="1771.76,341.66 1780.42,337.05 1780.42,346.27" fill="#ff00ff"/>
<polygon points="1771.76,333.84 1780.42,329.23 1780.42,338.45" fill="#ff00ff"/>
<polygon points="1771.76,326.02 1780.42,321.41 1780.42,330.63" fill="#ff00ff"/>
<polygon points="1771.76,318.21 1780.42,313.59 1780.42,322.82" fill="#ff00ff"/>
<polygon points="1771.76,310.39 1780.42,305.78 1780.42,315" fill="#ff00ff"/>
<polygon points="1771.76,302.57 1780.42,297.96 1780.42,307.18" fill="#ff00ff"/>
<polygon points="1771.76,294.75 1780.42,290.14 1780.42,299.36" fill="#ff00ff"/>
<polygon points="1771.76,286.93 1780.42,282.32 1780.42,291.54" fill="#ff00ff"/>
<polygon points="1771.76,279.11 1780.42,274.5 1780.42,283.72" fill="#ff00ff"/>
<polygon points="1771.76,271.29 1780.42,266.68 1780.42,275.9" fill="#ff00ff"/>
<polygon points="1771.76,263.47 1780.42,258.86 1780.42,268.08" fill="#ff00ff"/>
<polygon points="1771.76,255.65 1780.42,251.04 1780.42,260.26" fill="#ff00ff"/>
<polygon points="1771.76,247.83 1780.42,243.22 1780.42,252.44" fill="#ff00ff"/>
<polygon points="1771.76,240.02 1780.42,235.4 1780.42,244.63" fill="#ff00ff"/>
<polygon points="1783.71,232.2 1775.05,227.59 1775.05,236.81" fill="#ff9600"/>
<polygon points="1783.71,224.38 1775.05,219.77 1775.05,228.99" fill="#ff9600"/>
<polygon points="1783.71,216.56 1775.05,211.95 1775.05,221.17" fill="#ff9600"/>
<polygon points="1783.71,208.74 1775.05,204.13 1775.05,213.35" fill="#ff9600"/>
<polygon points="1783.71,200.92 1775.05,196.31 1775.05,205.53" fill="#ff9600"/>
<polygon points="1783.71,193.1 1775.05,188.49 1775.05,197.71" fill="#ff9600"/>
<polygon points="1783.71,185.28 1775.05,180.67 1775.05,189.89" fill="#ff9600"/>
<polygon points="1777.5,172.29 1781.73,180.19 1773.27,180.19" fill="#0000ff"/>
<polygon points="1777.5,164.47 1781.73,172.37 1773.27,172.37" fill="#0000ff"/>
<polygon points="1773.41,161.83 1777.5,157.73 1781.59,161.83 1777.5,165.92" fill="#5fc85f"/>
<polygon points="1784.31,357.3 1792.97,352.69 1792.97,361.91" fill="#ff00ff"/>
<polygon points="1784.31,349.48 1792.97,344.87 1792.97,354.09" fill="#ff00ff"/>
<polygon points="1784.31,341.66 1792.97,337.05 1792.97,346.27" fill="#ff00ff"/>
<polygon points="1784.31,333.84 1792.97,329.23 1792.97,338.45" fill="#ff00ff"/>
<polygon points="1784.31,326.02 1792.97,321.41 1792.97,330.63" fill="#ff00ff"/>
<polygon points="1784.31,318.21 1792.97,313.59 1792.97,322.82" fill="#ff00ff"/>
<polygon points="1784.31,310.39 1792.97,305.78 1792.97,315" fill="#ff00ff"/>
<polygon points="1784.31,302.57 1792.97,297.96 1792.97,307.18" fill="#ff00ff"/>
<polygon points="1784.31,294.75 1792.97,290.14 1792.97,299.36" fill="#ff00ff"/>
<polygon points="1784.31,286.93 1792.97,282.32 1792.97,291.54" fill="#ff00ff"/>
<polygon points="1784.31,279.11 1792.97,274.5 1792.97,283.72" fill="#ff00ff"/>
<polygon points="1784.31,271.29 1792.97,266.68 1792.97,275.9" fill="#ff00ff"/>
<polygon points="1784.31,263.47 1792.97,258.86 1792.97,268.08" fill="#ff00ff"/>
<polygon points="1784.31,255.65 1792.97,251.04 1792.97,260.26" fill="#ff00ff"/>
<polygon points="1784.31,247.83 1792.97,243.22 1792.97,252.44" fill="#ff00ff"/>
<polygon points="1784.31,240.02 1792.97,235.4 1792.97,244.63" fill="#ff00ff"/>
<polygon points="1796.26,232.2 1787.6,227.59 1787.6,236.81" fill="#ff9600"/>
<polygon points="1796.26,224.38 1787.6,219.77 1787.6,228.99" fill="#ff9600"/>
<polygon points="1796.26,216.56 1787.6,211.95 1787.6,221.17" fill="#ff9600"/>
<polygon points="1796.26,208.74 1787.6,204.13 1787.6,213.35" fill="#ff9600"/>
<polygon points="1796.26,200.92 1787.6,196.31 1787.6,205.53" fill="#ff9600"/>
<polygon points="1796.26,193.1 1787.6,188.49 1787.6,197.71" fill="#ff9600"/>
<polygon points="1790.05,180.11 1794.28,188.01 1785.82,188.01" fill="#0000ff"/>
<polygon points="1790.05,172.29 1794.28,180.19 1785.82,180.19" fill="#0000ff"/>
<polygon points="1785.96,169.64 1790.05,165.55 1794.14,169.64 1790.05,173.74" fill="#5fc85f"/>
<rect x="1787.13" y="158.91" width="5.83" height="5.83" fill="#ff0000"/>
<circle cx="1790.05" cy="153.63" r="2.99" fill="#000000"/>
<polygon points="1796.86,357.3 1805.52,352.69 1805.52,361.91" fill="#ff00ff"/>
<polygon points="1796.86,349.48 1805.52,344.87 1805.52,354.09" fill="#ff00ff"/>
<polygon points="1796.86,341.66 1805.52,337.05 1805.52,346.27" fill="#ff00ff"/>
<polygon points="1796.86,333.84 1805.52,329.23 1805.52,338.45" fill="#ff00ff"/>
<polygon points="1796.86,326.02 1805.52,321.41 1805.52,330.63" fill="#ff00ff"/>
<polygon points="1796.86,318.21 1805.52,313.59 1805.52,322.82" fill="#ff00ff"/>
<polygon points="1796.86,310.39 1805.52,305.78 1805.52,315" fill="#ff00ff"/>
<polygon points="1796.86,302.57 1805.52,297.96 1805.52,307.18" fill="#ff00ff"/>
<polygon points="1796.86,294.75 1805.52,290.14 1805.52,299.36" fill="#ff00ff"/>
<polygon points="1796.86,286.93 1805.52,282.32 1805.52,291.54" fill="#ff00ff"/>
<polygon points="1796.86,279.11 1805.52,274.5 1805.52,283.72" fill="#ff00ff"/>
<polygon points="1796.86,271.29 1805.52,266.68 1805.52,275.9" fill="#ff00ff"/>
<polygon points="1796.86,263.47 1805.52,258.86 1805.52,268.08" fill="#ff00ff"/>
<polygon points="1796.86,255.65 1805.52,251.04 1805.52,260.26" fill="#ff00ff"/>
<polygon points="1796.86,247.83 1805.52,243.22 1805.52,252.44" fill="#ff00ff"/>
<polygon points="1796.86,240.02 1805.52,235.4 1805.52,244.63" fill="#ff00ff"/>
<polygon points="1796.86,232.2 1805.52,227.59 1805.52,236.81" fill="#ff00ff"/>
<polygon points="1796.86,224.38 1805.52,219.77 1805.52,228.99" fill="#ff00ff"/>
<polygon points="1796.86,216.56 1805.52,211.95 1805.52,221.17" fill="#ff00ff"/>
<polygon points="1808.81,208.74 1800.15,204.13 1800.15,213.35" fill="#ff9600"/>
<polygon points="1808.81,200.92 1800.15,196.31 1800.15,205.53" fill="#ff9600"/>
<polygon points="1808.81,193.1 1800.15,188.49 1800.15,197.71" fill="#ff9600"/>
<polygon points="1808.81,185.28 1800.15,180.67 1800.15,189.89" fill="#ff9600"/>
<polygon points="1808.81,177.46 1800.15,172.85 1800.15,182.07" fill="#ff9600"/>
<polygon points="1808.81,169.64 1800.15,165.03 1800.15,174.25" fill="#ff9600"/>
<polygon points="1802.6,156.65 1806.83,164.55 1798.37,164.55" fill="#0000ff"/>
<polygon points="1802.6,148.83 1806.83,156.73 1798.37,156.73" fill="#0000ff"/>
<polygon points="1802.6,141.01 1806.83,148.92 1798.37,148.92" fill="#0000ff"/>
<polygon points="1798.51,138.37 1802.6,134.27 1806.69,138.37 1802.6,142.46" fill="#5fc85f"/>
<rect x="1799.68" y="127.63" width="5.83" height="5.83" fill="#ff0000"/>
<circle cx="1802.6" cy="122.35" r="2.99" fill="#000000"/>
<polygon points="1809.41,357.3 1818.07,352.69 1818.07,361.91" fill="#ff00ff"/>
<polygon points="1809.41,349.48 1818.07,344.87 1818.07,354.09" fill="#ff00ff"/>
<polygon points="1809.41,341.66 1818.07,337.05 1818.07,346.27" fill="#ff00ff"/>
<polygon points="1809.41,333.84 1818.07,329.23 1818.07,338.45" fill="#ff00ff"/>
<polygon points="1809.41,326.02 1818.07,321.41 1818.07,330.63" fill="#ff00ff"/>
<polygon points="1809.41,318.21 1818.07,313.59 1818.07,322.82" fill="#ff00ff"/>
<polygon points="1809.41,310.39 1818.07,305.78 1818.07,315" fill="#ff00ff"/>
<polygon points="1809.41,302.57 1818.07,297.96 1818.07,307.18" fill="#ff00ff"/>
<polygon points="1809.41,294.75 1818.07,290.14 1818.07,299.36" fill="#ff00ff"/>
<polygon points="1809.41,286.93 1818.07,282.32 1818.07,291.54" fill="#ff00ff"/>
<polygon points="1809.41,279.11 1818.07,274.5 1818.07,283.72" fill="#ff00ff"/>
<polygon points="1809.41,271.29 1818.07,266.68 1818.07,275.9" fill="#ff00ff"/>
<polygon points="1809.41,263.47 1818.07,258.86 1818.07,268.08" fill="#ff00ff"/>
<polygon points="1809.41,255.65 1818.07,251.04 1818.07,260.26" fill="#ff00ff"/>
<polygon points="1809.41,247.83 1818.07,243.22 1818.07,252.44" fill="#ff00ff"/>
<polygon points="1809.41,240.02 1818.07,235.4 1818.07,244.63" fill="#ff00ff"/>
<polygon points="1809.41,232.2 1818.07,227.59 1818.07,236.81" fill="#ff00ff"/>
<polygon points="1809.41,224.38 1818.07,219.77 1818.07,228.99" fill="#ff00ff"/>
<polygon points="1809.41,216.56 1818.07,211.95 1818.07,221.17" fill="#ff00ff"/>
<polygon points="1821.36,208.74 1812.7,204.13 1812.7,213.35" fill="#ff9600"/>
<polygon points="1821.36,200.92 1812.7,196.31 1812.7,205.53" fill="#ff9600"/>
<polygon points="1821.36,193.1 1812.7,188.49 1812.7,197.71" fill="#ff9600"/>
<polygon points="1821.36,185.28 1812.7,180.67 1812.7,189.89" fill="#ff9600"/>
<polygon points="1821.36,177.46 1812.7,172.85 1812.7,182.07" fill="#ff9600"/>
<polygon points="1821.36,169.64 1812.7,165.03 1812.7,174.25" fill="#ff9600"/>
<polygon points="1821.36,161.83 1812.7,157.21 1812.7,166.44" fill="#ff9600"/>
<polygon points="1815.15,148.83 1819.38,156.73 1810.92,156.73" fill="#0000ff"/>
<polygon points="1815.15,141.01 1819.38,148.92 1810.92,148.92" fill="#0000ff"/>
<polygon points="1811.06,138.37 1815.15,134.27 1819.24,138.37 1815.15,142.46" fill="#5fc85f"/>
<rect x="1812.23" y="127.63" width="5.83" height="5.83" fill="#ff0000"/>
<circle cx="1815.15" cy="122.35" r="2.99" fill="#000000"/>
<polygon points="1821.96,357.3 1830.62,352.69 1830.62,361.91" fill="#ff00ff"/>
<polygon points="1821.96,349.48 1830.62,344.87 1830.62,354.09" fill="#ff00ff"/>
<polygon points="1821.96,341.66 1830.62,337.05 1830.62,346.27" fill="#ff00ff"/>
<polygon points="1821.96,333.84 1830.62,329.23 1830.62,338.45" fill="#ff00ff"/>
<polygon points="1821.96,326.02 1830.62,321.41 1830.62,330.63" fill="#ff00ff"/>
<polygon points="1821.96,318.21 1830.62,313.59 1830.62,322.82" fill="#ff00ff"/>
<polygon points="1821.96,310.39 1830.62,305.78 1830.62,315" fill="#ff00ff"/>
<polygon points="1821.96,302.57 1830.62,297.96 1830.62,307.18" fill="#ff00ff"/>
<polygon points="1821.96,294.75 1830.62,290.14 1830.62,299.36" fill="#ff00ff"/>
<polygon points="1821.96,286.93 1830.62,282.32 1830.62,291.54" fill="#ff00ff"/>
<polygon points="1821.96,279.11 1830.62,274.5 1830.62,283.72" fill="#ff00ff"/>
<polygon points="1821.96,271.29 1830.62,266.68 1830.62,275.9" fill="#ff00ff"/>
<polygon points="1821.96,263.47 1830.62,258.86 1830.62,268.08" fill="#ff00ff"/>
<polygon points="1821.96,255.65 1830.62,251.04 1830.62,260.26" fill="#ff00ff"/>
<polygon points="1821.96,247.83 1830.62,243.22 1830.62,252.44" fill="#ff00ff"/>
<polygon points="1821.96,240.02 1830.62,235.4 1830.62,244.63" fill="#ff00ff"/>
<polygon points="1821.96,232.2 1830.62,227.59 1830.62,236.81" fill="#ff00ff"/>
<polygon points="1821.96,224.38 1830.62,219.77 1830.62,228.99" fill="#ff00ff"/>
<polygon points="1821.96,216.56 1830.62,211.95 1830.62,221.17" fill="#ff00ff"/>
<polygon points="1833.91,208.74 1825.25,204.13 1825.25,213.35" fill="#ff9600"/>
<polygon points="1833.91,200.92 1825.25,196.31 1825.25,205.53" fill="#ff9600"/>
<polygon points="1833.91,193.1 1825.25,188.49 1825.25,197.71" fill="#ff9600"/>
<polygon points="1833.91,185.28 1825.25,180.67 1825.25,189.89" fill="#ff9600"/>
<polygon points="1833.91,177.46 1825.25,172.85 1825.25,182.07" fill="#ff9600"/>
<polygon points="1833.91,169.64 1825.25,165.03 1825.25,174.25" fill="#ff9600"/>
<polygon points="1833.91,161.83 1825.25,157.21 1825.25,166.44" fill="#ff9600"/>
<polygon points="1833.91,154.01 1825.25,149.4 1825.25,158.62" fill="#ff9600"/>
<polygon points="1833.91,146.19 1825.25,141.58 1825.25,150.8" fill="#ff9600"/>
<polygon points="1833.91,138.37 1825.25,133.76 1825.25,142.98" fill="#ff9600"/>
<polygon points="1827.7,125.37 1831.93,133.28 1823.47,133.28" fill="#0000ff"/>
<polygon points="1827.7,117.55 1831.93,125.46 1823.47,125.46" fill="#0000ff"/>
<polygon points="1827.7,109.74 1831.93,117.64 1823.47,117.64" fill="#0000ff"/>
<polygon points="1823.61,107.09 1827.7,103 1831.79,107.09 1827.7,111.19" fill="#5fc85f"/>
<rect x="1824.78" y="96.36" width="5.83" height="5.83" fill="#ff0000"/>
<circle cx="1827.7" cy="91.08" r="2.99" fill="#000000"/>
<polygon points="1834.51,357.3 1843.17,352.69 1843.17,361.91" fill="#ff00ff"/>
<polygon points="1834.51,349.48 1843.17,344.87 1843.17,354.09" fill="#ff00ff"/>
<polygon points="1834.51,341.66 1843.17,337.05 1843.17,346.27" fill="#ff00ff"/>
<polygon points="1834.51,333.84 1843.17,329.23 1843.17,338.45" fill="#ff00ff"/>
<polygon points="1834.51,326.02 1843.17,321.41 1843.17,330.63" fill="#ff00ff"/>
<polygon points="1834.51,318.21 1843.17,313.59 1843.17,322.82" fill="#ff00ff"/>
<polygon points="1834.51,310.39 1843.17,305.78 1843.17,315" fill="#ff00ff"/>
<polygon points="1834.51,302.57 1843.17,297.96 1843.17,307.18" fill="#ff00ff"/>
<polygon points="1834.51,294.75 1843.17,290.14 1843.17,299.36" fill="#ff00ff"/>
<polygon points="1834.51,286.93 1843.17,282.32 1843.17,291.54" fill="#ff00ff"/>
<polygon points="1834.51,279.11 1843.17,274.5 1843.17,283.72" fill="#ff00ff"/>
<polygon points="1834.51,271.29 1843.17,266.68 1843.17,275.9" fill="#ff00ff"/>
<polygon points="1834.51,263.47 1843.17,258.86 1843.17,268.08" fill="#ff00ff"/>
<polygon points="1834.51,255.65 1843.17,251.04 1843.17,260.26" fill="#ff00ff"/>
<polygon points="1834.51,247.83 1843.17,243.22 1843.17,252.44" fill="#ff00ff"/>
<polygon points="1834.51,240.02 1843.17,235.4 1843.17,244.63" fill="#ff00ff"/>
<polygon points="1834.51,232.2 1843.17,227.59 1843.17,236.81" fill="#ff00ff"/>
<polygon points="1834.51,224.38 1843.17,219.77 1843.17,228.99" fill="#ff00ff"/>
<polygon points="1834.51,216.56 1843.17,211.95 1843.17,221.17" fill="#ff00ff"/>
<polygon points="1834.51,208.74 1843.17,204.13 1843.17,213.35" fill="#ff00ff"/>
<polygon points="1846.46,200.92 1837.8,196.31 1837.8,205.53" fill="#ff9600"/>
<polygon points="1846.46,193.1 1837.8,188.49 1837.8,197.71" fill="#ff9600"/>
<polygon points="1846.46,185.28 1837.8,180.67 1837.8,189.89" fill="#ff9600"/>
<polygon points="1846.46,177.46 1837.8,172.85 1837.8,182.07" fill="#ff9600"/>
<polygon points="1846.46,169.64 1837.8,165.03 1837.8,174.25" fill="#ff9600"/>
<polygon points="1846.46,161.83 1837.8,157.21 1837.8,166.44" fill="#ff9600"/>
<polygon points="1846.46,154.01 1837.8,149.4 1837.8,158.62" fill="#ff9600"/>
<polygon points="1846.46,146.19 1837.8,141.58 1837.8,150.8" fill="#ff9600"/>
<polygon points="1846.46,138.37 1837.8,133.76 1837.8,142.98" fill="#ff9600"/>
<polygon points="1846.46,130.55 1837.8,125.94 1837.8,135.16" fill="#ff9600"/>
<polygon points="1846.46,122.73 1837.8,118.12 1837.8,127.34" fill="#ff9600"/>
<polygon points="1840.25,109.74 1844.48,117.64 1836.02,117.64" fill="#0000ff"/>
<polygon points="1840.25,101.92 1844.48,109.82 1836.02,109.82" fill="#0000ff"/>
<polygon points="1840.25,94.1 1844.48,102 1836.02,102" fill="#0000ff"/>
<polygon points="1840.25,86.28 1844.48,94.18 1836.02,94.18" fill="#0000ff"/>
<polygon points="1836.16,83.63 1840.25,79.54 1844.34,83.63 1840.25,87.73" fill="#5fc85f"/>
<rect x="1837.33" y="72.9" width="5.83" height="5.83" fill="#ff0000"/>
<polygon points="1847.06,357.3 1855.72,352.69 1855.72,361.91" fill="#ff00ff"/>
<polygon points="1847.06,349.48 1855.72,344.87 1855.72,354.09" fill="#ff00ff"/>
<polygon points="1847.06,341.66 1855.72,337.05 1855.72,346.27" fill="#ff00ff"/>
<polygon points="1847.06,333.84 1855.72,329.23 1855.72,338.45" fill="#ff00ff"/>
<polygon points="1847.06,326.02 1855.72,321.41 1855.72,330.63" fill="#ff00ff"/>
<polygon points="1847.06,318.21 1855.72,313.59 1855.72,322.82" fill="#ff00ff"/>
<polygon points="1847.06,310.39 1855.72,305.78 1855.72,315" fill="#ff00ff"/>
<polygon points="1847.06,302.57 1855.72,297.96 1855.72,307.18" fill="#ff00ff"/>
<polygon points="1847.06,294.75 1855.72,290.14 1855.72,299.36" fill="#ff00ff"/>
<polygon points="1847.06,286.93 1855.72,282.32 1855.72,291.54" fill="#ff00ff"/>
<polygon points="1847.06,279.11 1855.72,274.5 1855.72,283.72" fill="#ff00ff"/>
<polygon points="1847.06,271.29 1855.72,266.68 1855.72,275.9" fill="#ff00ff"/>
<polygon points="1847.06,263.47 1855.72,258.86 1855.72,268.08" fill="#ff00ff"/>
<polygon points="1847.06,255.65 1855.72,251.04 1855.72,260.26" fill="#ff00ff"/>
<polygon points="1847.06,247.83 1855.72,243.22 1855.72,252.44" fill="#ff00ff"/>
<polygon points="1847.06,240.02 1855.72,235.4 1855.72,244.63" fill="#ff00ff"/>
<polygon points="1847.06,232.2 1855.72,227.59 1855.72,236.81" fill="#ff00ff"/>
<polygon points="1847.06,224.38 1855.72,219.77 1855.72,228.99" fill="#ff00ff"/>
<polygon points="1859.01,216.56 1850.35,211.95 1850.35,221.17" fill="#ff9600"/>
<polygon points="1859.01,208.74 1850.35,204.13 1850.35,213.35" fill="#ff9600"/>
<polygon points="1859.01,200.92 1850.35,196.31 1850.35,205.53" fill="#ff9600"/>
<polygon points="1859.01,193.1 1850.35,188.49 1850.35,197.71" fill="#ff9600"/>
<polygon points="1859.01,185.28 1850.35,180.67 1850.35,189.89" fill="#ff9600"/>
<polygon points="1859.01,177.46 1850.35,172.85 1850.35,182.07" fill="#ff9600"/>
<polygon points="1859.01,169.64 1850.35,165.03 1850.35,174.25" fill="#ff9600"/>
<polygon points="1859.01,161.83 1850.35,157.21 1850.35,166.44" fill="#ff9600"/>
<polygon points="1859.01,154.01 1850.35,149.4 1850.35,158.62" fill="#ff9600"/>
<polygon points="1859.01,146.19 1850.35,141.58 1850.35,150.8" fill="#ff9600"/>
<polygon points="1859.01,138.37 1850.35,133.76 1850.35,142.98" fill="#ff9600"/>
<polygon points="1859.01,130.55 1850.35,125.94 1850.35,135.16" fill="#ff9600"/>
<polygon points="1852.8,117.55 1857.03,125.46 1848.57,125.46" fill="#0000ff"/>
<polygon points="1852.8,109.74 1857.03,117.64 1848.57,117.64" fill="#0000ff"/>
<polygon points="1852.8,101.92 1857.03,109.82 1848.57,109.82" fill="#0000ff"/>
<polygon points="1852.8,94.1 1857.03,102 1848.57,102" fill="#0000ff"/>
<polygon points="1852.8,86.28 1857.03,94.18 1848.57,94.18" fill="#0000ff"/>
<polygon points="1848.71,83.63 1852.8,79.54 1856.89,83.63 1852.8,87.73" fill="#5fc85f"/>
<rect x="1849.88" y="72.9" width="5.83" height="5.83" fill="#ff0000"/>
<circle cx="1852.8" cy="67.62" r="2.99" fill="#000000"/>
<polygon points="1859.61,357.3 1868.27,352.69 1868.27,361.91" fill="#ff00ff"/>
<polygon points="1859.61,349.48 1868.27,344.87 1868.27,354.09" fill="#ff00ff"/>
<polygon points="1859.61,341.66 1868.27,337.05 1868.27,346.27" fill="#ff00ff"/>
<polygon points="1859.61,333.84 1868.27,329.23 1868.27,338.45" fill="#ff00ff"/>
<polygon points="1859.61,326.02 1868.27,321.41 1868.27,330.63" fill="#ff00ff"/>
<polygon points="1859.61,318.21 1868.27,313.59 1868.27,322.82" fill="#ff00ff"/>
<polygon points="1859.61,310.39 1868.27,305.78 1868.27,315" fill="#ff00ff"/>
<polygon points="1859.61,302.57 1868.27,297.96 1868.27,307.18" fill="#ff00ff"/>
<polygon points="1859.61,294.75 1868.27,290.14 1868.27,299.36" fill="#ff00ff"/>
<polygon points="1859.61,286.93 1868.27,282.32 1868.27,291.54" fill="#ff00ff"/>
<polygon points="1859.61,279.11 1868.27,274.5 1868.27,283.72" fill="#ff00ff"/>
<polygon points="1859.61,271.29 1868.27,266.68 1868.27,275.9" fill="#ff00ff"/>
<polygon points="1859.61,263.47 1868.27,258.86 1868.27,268.08" fill="#ff00ff"/>
<polygon points="1871.56,255.65 1862.9,251.04 1862.9,260.26" fill="#ff9600"/>
<polygon points="1871.56,247.83 1862.9,243.22 1862.9,252.44" fill="#ff9600"/>
<polygon points="1871.56,240.02 1862.9,235.4 1862.9,244.63" fill="#ff9600"/>
<polygon points="1871.56,232.2 1862.9,227.59 1862.9,236.81" fill="#ff9600"/>
<polygon points="1871.56,224.38 1862.9,219.77 1862.9,228.99" fill="#ff9600"/>
<polygon points="1871.56,216.56 1862.9,211.95 1862.9,221.17" fill="#ff9600"/>
<polygon points="1871.56,208.74 1862.9,204.13 1862.9,213.35" fill="#ff9600"/>
<polygon points="1871.56,200.92 1862.9,196.31 1862.9,205.53" fill="#ff9600"/>
<polygon points="1865.35,187.93 1869.58,195.83 1861.12,195.83" fill="#0000ff"/>
<polygon points="1865.35,180.11 1869.58,188.01 1861.12,188.01" fill="#0000ff"/>
<polygon points="1865.35,172.29 1869.58,180.19 1861.12,180.19" fill="#0000ff"/>
<polygon points="1865.35,164.47 1869.58,172.37 1861.12,172.37" fill="#0000ff"/>
<polygon points="1865.35,156.65 1869.58,164.55 1861.12,164.55" fill="#0000ff"/>
<polygon points="1861.26,154.01 1865.35,149.91 1869.44,154.01 1865.35,158.1" fill="#5fc85f"/>
<rect x="1862.43" y="143.27" width="5.83" height="5.83" fill="#ff0000"/>
<circle cx="1865.35" cy="137.99" r="2.99" fill="#000000"/>
<polygon points="1872.16,357.3 1880.82,352.69 1880.82,361.91" fill="#ff00ff"/>
<polygon points="1872.16,349.48 1880.82,344.87 1880.82,354.09" fill="#ff00ff"/>
<polygon points="1872.16,341.66 1880.82,337.05 1880.82,346.27" fill="#ff00ff"/>
<polygon points="1872.16,333.84 1880.82,329.23 1880.82,338.45" fill="#ff00ff"/>
<polygon points="1872.16,326.02 1880.82,321.41 1880.82,330.63" fill="#ff00ff"/>
<polygon points="1872.16,318.21 1880.82,313.59 1880.82,322.82" fill="#ff00ff"/>
<polygon points="1872.16,310.39 1880.82,305.78 1880.82,315" fill="#ff00ff"/>
<polygon points="1872.16,302.57 1880.82,297.96 1880.82,307.18" fill="#ff00ff"/>
<polygon points="1872.16,294.75 1880.82,290.14 1880.82,299.36" fill="#ff00ff"/>
<polygon points="1872.16,286.93 1880.82,282.32 1880.82,291.54" fill="#ff00ff"/>
<polygon points="1872.16,279.11 1880.82,274.5 1880.82,283.72" fill="#ff00ff"/>
<polygon points="1872.16,271.29 1880.82,266.68 1880.82,275.9" fill="#ff00ff"/>
<polygon points="1884.11,263.47 1875.45,258.86 1875.45,268.08" fill="#ff9600"/>
<polygon points="1884.11,255.65 1875.45,251.04 1875.45,260.26" fill="#ff9600"/>
<polygon points="1884.11,247.83 1875.45,243.22 1875.45,252.44" fill="#ff9600"/>
<polygon points="1884.11,240.02 1875.45,235.4 1875.45,244.63" fill="#ff9600"/>
<polygon points="1884.11,232.2 1875.45,227.59 1875.45,236.81" fill="#ff9600"/>
<polygon points="1884.11,224.38 1875.45,219.77 1875.45,228.99" fill="#ff9600"/>
<polygon points="1884.11,216.56 1875.45,211.95 1875.45,221.17" fill="#ff9600"/>
<polygon points="1884.11,208.74 1875.45,204.13 1875.45,213.35" fill="#ff9600"/>
<polygon points="1884.11,200.92 1875.45,196.31 1875.45,205.53" fill="#ff9600"/>
<polygon points="1877.9,187.93 1882.13,195.83 1873.67,195.83" fill="#0000ff"/>
<polygon points="1877.9,180.11 1882.13,188.01 1873.67,188.01" fill="#0000ff"/>
<polygon points="1877.9,172.29 1882.13,180.19 1873.67,180.19" fill="#0000ff"/>
<polygon points="1877.9,164.47 1882.13,172.37 1873.67,172.37" fill="#0000ff"/>
<polygon points="1877.9,156.65 1882.13,164.55 1873.67,164.55" fill="#0000ff"/>
<polygon points="1873.81,154.01 1877.9,149.91 1881.99,154.01 1877.9,158.1" fill="#5fc85f"/>
<rect x="1874.98" y="143.27" width="5.83" height="5.83" fill="#ff0000"/>
<circle cx="1877.9" cy="137.99" r="2.99" fill="#000000"/>
<polygon points="1884.71,357.3 1893.37,352.69 1893.37,361.91" fill="#ff00ff"/>
<polygon points="1884.71,349.48 1893.37,344.87 1893.37,354.09" fill="#ff00ff"/>
<polygon points="1884.71,341.66 1893.37,337.05 1893.37,346.27" fill="#ff00ff"/>
<polygon points="1884.71,333.84 1893.37,329.23 1893.37,338.45" fill="#ff00ff"/>
<polygon points="1884.71,326.02 1893.37,321.41 1893.37,330.63" fill="#ff00ff"/>
<polygon points="1884.71,318.21 1893.37,313.59 1893.37,322.82" fill="#ff00ff"/>
<polygon points="1884.71,310.39 1893.37,305.78 1893.37,315" fill="#ff00ff"/>
<polygon points="1884.71,302.57 1893.37,297.96 1893.37,307.18" fill="#ff00ff"/>
<polygon points="1884.71,294.75 1893.37,290.14 1893.37,299.36" fill="#ff00ff"/>
<polygon points="1884.71,286.93 1893.37,282.32 1893.37,291.54" fill="#ff00ff"/>
<polygon points="1896.66,279.11 1888,274.5 1888,283.72" fill="#ff9600"/>
<polygon points="1896.66,271.29 1888,266.68 1888,275.9" fill="#ff9600"/>
<polygon points="1896.66,263.47 1888,258.86 1888,268.08" fill="#ff9600"/>
<polygon points="1896.66,255.65 1888,251.04 1888,260.26" fill="#ff9600"/>
<polygon points="1896.66,247.83 1888,243.22 1888,252.44" fill="#ff9600"/>
<polygon points="1896.66,240.02 1888,235.4 1888,244.63" fill="#ff9600"/>
<polygon points="1896.66,232.2 1888,227.59 1888,236.81" fill="#ff9600"/>
<polygon points="1896.66,224.38 1888,219.77 1888,228.99" fill="#ff9600"/>
<polygon points="1896.66,216.56 1888,211.95 1888,221.17" fill="#ff9600"/>
<polygon points="1890.45,203.56 1894.68,211.47 1886.22,211.47" fill="#0000ff"/>
<polygon points="1890.45,195.74 1894.68,203.65 1886.22,203.65" fill="#0000ff"/>
<polygon points="1890.45,187.93 1894.68,195.83 1886.22,195.83" fill="#0000ff"/>
<polygon points="1890.45,180.11 1894.68,188.01 1886.22,188.01" fill="#0000ff"/>
<polygon points="1886.36,177.46 1890.45,173.37 1894.54,177.46 1890.45,181.56" fill="#5fc85f"/>
<rect x="1887.53" y="166.73" width="5.83" height="5.83" fill="#ff0000"/>
<circle cx="1890.45" cy="161.45" r="2.99" fill="#000000"/>
<polygon points="1897.26,357.3 1905.92,352.69 1905.92,361.91" fill="#ff00ff"/>
<polygon points="1897.26,349.48 1905.92,344.87 1905.92,354.09" fill="#ff00ff"/>
<polygon points="1897.26,341.66 1905.92,337.05 1905.92,346.27" fill="#ff00ff"/>
<polygon points="1897.26,333.84 1905.92,329.23 1905.92,338.45" fill="#ff00ff"/>
<polygon points="1897.26,326.02 1905.92,321.41 1905.92,330.63" fill="#ff00ff"/>
<polygon points="1897.26,318.21 1905.92,313.59 1905.92,322.82" fill="#ff00ff"/>
<polygon points="1897.26,310.39 1905.92,305.78 1905.92,315" fill="#ff00ff"/>
<polygon points="1897.26,302.57 1905.92,297.96 1905.92,307.18" fill="#ff00ff"/>
<polygon points="1897.26,294.75 1905.92,290.14 1905.92,299.36" fill="#ff00ff"/>
<polygon points="1897.26,286.93 1905.92,282.32 1905.92,291.54" fill="#ff00ff"/>
<polygon points="1897.26,279.11 1905.92,274.5 1905.92,283.72" fill="#ff00ff"/>
<polygon points="1897.26,271.29 1905.92,266.68 1905.92,275.9" fill="#ff00ff"/>
<polygon points="1909.21,263.47 1900.55,258.86 1900.55,268.08" fill="#ff9600"/>
<polygon points="1909.21,255.65 1900.55,251.04 1900.55,260.26" fill="#ff9600"/>
<polygon points="1909.21,247.83 1900.55,243.22 1900.55,252.44" fill="#ff9600"/>
<polygon points="1909.21,240.02 1900.55,235.4 1900.55,244.63" fill="#ff9600"/>
<polygon points="1909.21,232.2 1900.55,227.59 1900.55,236.81" fill="#ff9600"/>
<polygon points="1903,219.2 1907.23,227.11 1898.77,227.11" fill="#0000ff"/>
<polygon points="1903,211.38 1907.23,219.29 1898.77,219.29" fill="#0000ff"/>
<polygon points="1903,203.56 1907.23,211.47 1898.77,211.47" fill="#0000ff"/>
<polygon points="1898.91,200.92 1903,196.83 1907.09,200.92 1903,205.01" fill="#5fc85f"/>
<rect x="1900.08" y="190.18" width="5.83" height="5.83" fill="#ff0000"/>
<circle cx="1903" cy="184.91" r="2.99" fill="#000000"/>
<polygon points="1909.81,357.3 1918.47,352.69 1918.47,361.91" fill="#ff00ff"/>
<polygon points="1909.81,349.48 1918.47,344.87 1918.47,354.09" fill="#ff00ff"/>
<polygon points="1909.81,341.66 1918.47,337.05 1918.47,346.27" fill="#ff00ff"/>
<polygon points="1909.81,333.84 1918.47,329.23 1918.47,338.45" fill="#ff00ff"/>
<polygon points="1909.81,326.02 1918.47,321.41 1918.47,330.63" fill="#ff00ff"/>
<polygon points="1909.81,318.21 1918.47,313.59 1918.47,322.82" fill="#ff00ff"/>
<polygon points="1909.81,310.39 1918.47,305.78 1918.47,315" fill="#ff00ff"/>
<polygon points="1909.81,302.57 1918.47,297.96 1918.47,307.18" fill="#ff00ff"/>
<polygon points="1909.81,294.75 1918.47,290.14 1918.47,299.36" fill="#ff00ff"/>
<polygon points="1909.81,286.93 1918.47,282.32 1918.47,291.54" fill="#ff00ff"/>
<polygon points="1909.81,279.11 1918.47,274.5 1918.47,283.72" fill="#ff00ff"/>
<polygon points="1921.76,271.29 1913.1,266.68 1913.1,275.9" fill="#ff9600"/>
<polygon points="1921.76,263.47 1913.1,258.86 1913.1,268.08" fill="#ff9600"/>
<polygon points="1921.76,255.65 1913.1,251.04 1913.1,260.26" fill="#ff9600"/>
<polygon points="1921.76,247.83 1913.1,243.22 1913.1,252.44" fill="#ff9600"/>
<polygon points="1915.55,234.84 1919.78,242.74 1911.32,242.74" fill="#0000ff"/>
<polygon points="1915.55,227.02 1919.78,234.92 1911.32,234.92" fill="#0000ff"/>
<polygon points="1911.46,224.38 1915.55,220.28 1919.64,224.38 1915.55,228.47" fill="#5fc85f"/>
<polygon points="1911.46,216.56 1915.55,212.46 1919.64,216.56 1915.55,220.65" fill="#5fc85f"/>
<rect x="1912.63" y="205.82" width="5.83" height="5.83" fill="#ff0000"/>
<circle cx="1915.55" cy="200.54" r="2.99" fill="#000000"/>
<polygon points="1922.36,357.3 1931.02,352.69 1931.02,361.91" fill="#ff00ff"/>
<polygon points="1922.36,349.48 1931.02,344.87 1931.02,354.09" fill="#ff00ff"/>
<polygon points="1922.36,341.66 1931.02,337.05 1931.02,346.27" fill="#ff00ff"/>
<polygon points="1922.36,333.84 1931.02,329.23 1931.02,338.45" fill="#ff00ff"/>
<polygon points="1922.36,326.02 1931.02,321.41 1931.02,330.63" fill="#ff00ff"/>
<polygon points="1922.36,318.21 1931.02,313.59 1931.02,322.82" fill="#ff00ff"/>
<polygon points="1922.36,310.39 1931.02,305.78 1931.02,315" fill="#ff00ff"/>
<polygon points="1934.31,302.57 1925.65,297.96 1925.65,307.18" fill="#ff9600"/>
<polygon points="1928.1,289.57 1932.33,297.48 1923.87,297.48" fill="#0000ff"/>
<polygon points="1928.1,281.75 1932.33,289.66 1923.87,289.66" fill="#0000ff"/>
<polygon points="1928.1,273.93 1932.33,281.84 1923.87,281.84" fill="#0000ff"/>
<polygon points="1924.01,271.29 1928.1,267.2 1932.19,271.29 1928.1,275.38" fill="#5fc85f"/>
<rect x="1925.18" y="260.55" width="5.83" height="5.83" fill="#ff0000"/>
<circle cx="1928.1" cy="255.28" r="2.99" fill="#000000"/>
<polygon points="1934.91,357.3 1943.57,352.69 1943.57,361.91" fill="#ff00ff"/>
<polygon points="1934.91,349.48 1943.57,344.87 1943.57,354.09" fill="#ff00ff"/>
<polygon points="1934.91,341.66 1943.57,337.05 1943.57,346.27" fill="#ff00ff"/>
<polygon points="1934.91,333.84 1943.57,329.23 1943.57,338.45" fill="#ff00ff"/>
<polygon points="1946.86,326.02 1938.2,321.41 1938.2,330.63" fill="#ff9600"/>
<polygon points="1940.65,313.03 1944.88,320.93 1936.42,320.93" fill="#0000ff"/>
<polygon points="1936.56,310.39 1940.65,306.29 1944.74,310.39 1940.65,314.48" fill="#5fc85f"/>
<circle cx="1940.65" cy="302.19" r="2.99" fill="#000000"/>
<polygon points="1947.46,357.3 1956.12,352.69 1956.12,361.91" fill="#ff00ff"/>
<polygon points="1959.41,349.48 1950.75,344.87 1950.75,354.09" fill="#ff9600"/>
<polygon points="1953.2,336.49 1957.43,344.39 1948.97,344.39" fill="#0000ff"/>
<polygon points="1949.11,333.84 1953.2,329.75 1957.29,333.84 1953.2,337.94" fill="#5fc85f"/>
<rect x="1950.28" y="323.11" width="5.83" height="5.83" fill="#ff0000"/>
<polygon points="1960.01,357.3 1968.67,352.69 1968.67,361.91" fill="#ff00ff"/>
<polygon points="1971.96,349.48 1963.3,344.87 1963.3,354.09" fill="#ff9600"/>
<polygon points="1978.3,352.12 1982.53,360.03 1974.07,360.03" fill="#0000ff"/>
</g>
<text x="1451" y="30.7" font-size="39" font-weight="bold" textLength="47" lengthAdjust="spacingAndGlyphs">(c)</text>
<text x="1494.8" y="79.5" font-size="17.9" textLength="220.4" lengthAdjust="spacing">Breeding (registration) periods</text>
<circle cx="1509.9" cy="107.5" r="4.9" fill="#000000"/>
<text x="1523.5" y="113.4" font-size="14" textLength="64" lengthAdjust="spacing">1905-1970</text>
<rect x="1505.5" y="123.3" width="8.8" height="8.8" fill="#ff0000"/>
<text x="1523.5" y="133.6" font-size="14" textLength="64" lengthAdjust="spacing">1971-1980</text>
<polygon points="1504,147.7 1509.9,141.8 1515.8,147.7 1509.9,153.6" fill="#5fc85f"/>
<text x="1523.5" y="153.4" font-size="14" textLength="64" lengthAdjust="spacing">1981-1990</text>
<polygon points="1509.9,161.1 1515.7,169.9 1504.1,169.9" fill="#0000ff"/>
<text x="1523.5" y="173.6" font-size="14" textLength="64" lengthAdjust="spacing">1991-2000</text>
<polygon points="1515.5,186.5 1506.5,180.7 1506.5,192.3" fill="#ff9600"/>
<text x="1523.5" y="192.4" font-size="14" textLength="64" lengthAdjust="spacing">2001-2010</text>
<polygon points="1504.4,206.5 1513.4,200.7 1513.4,212.3" fill="#ff00ff"/>
<text x="1523.5" y="212.4" font-size="14" textLength="64" lengthAdjust="spacing">2011-2018</text>
<text x="1659.5" y="407.9" font-size="17.2" textLength="119.2" lengthAdjust="spacing">Genetic distance</text>
<text x="1433.9" y="436.8" font-size="15.2" textLength="308.1" lengthAdjust="spacing">Each symbol represents up to 10 observations.</text>
</g>
<g id="panel-d">
<rect x="15.9" y="588.8" width="557.3" height="307.8" fill="none" stroke="#a8a8a8" stroke-width="1.3"/>
<text x="2.6" y="919.5" font-size="17.8" textLength="31" lengthAdjust="spacing">0.00</text>
<text x="80.96" y="919.5" font-size="17.8" textLength="31" lengthAdjust="spacing">0.06</text>
<text x="159.32" y="919.5" font-size="17.8" textLength="31" lengthAdjust="spacing">0.12</text>
<text x="237.68" y="919.5" font-size="17.8" textLength="31" lengthAdjust="spacing">0.18</text>
<text x="316.04" y="919.5" font-size="17.8" textLength="31" lengthAdjust="spacing">0.24</text>
<text x="394.4" y="919.5" font-size="17.8" textLength="31" lengthAdjust="spacing">0.30</text>
<text x="472.76" y="919.5" font-size="17.8" textLength="31" lengthAdjust="spacing">0.36</text>
<text x="551.12" y="919.5" font-size="17.8" textLength="31" lengthAdjust="spacing">0.42</text>
<path d="M19.3 896.6v5.4M97.66 896.6v5.4M176.02 896.6v5.4M254.38 896.6v5.4M332.74 896.6v5.4M411.1 896.6v5.4M489.46 896.6v5.4M567.82 896.6v5.4" stroke="#a8a8a8" stroke-width="1.3" fill="none"/>
<clipPath id="clip-d"><rect x="15.9" y="588.8" width="557.3" height="308.1"/></clipPath>
<g clip-path="url(#clip-d)">
<circle cx="32.36" cy="892.31" r="3.11" fill="#000000"/>
<polygon points="41.16,892.7 45.42,888.44 49.68,892.7 45.42,896.96" fill="#5fc85f"/>
<circle cx="45.42" cy="884.69" r="3.11" fill="#000000"/>
<polygon points="52.51,892.7 61.51,887.9 61.51,897.5" fill="#ff00ff"/>
<polygon points="54.22,885.08 58.48,880.82 62.74,885.08 58.48,889.34" fill="#5fc85f"/>
<polygon points="65.57,892.7 74.57,887.9 74.57,897.5" fill="#ff00ff"/>
<polygon points="67.28,885.08 71.54,880.82 75.8,885.08 71.54,889.34" fill="#5fc85f"/>
<circle cx="71.54" cy="877.07" r="3.11" fill="#000000"/>
<polygon points="91.06,892.7 82.05,887.9 82.05,897.5" fill="#ff9600"/>
<polygon points="80.34,885.08 84.6,880.82 88.86,885.08 84.6,889.34" fill="#5fc85f"/>
<circle cx="84.6" cy="877.07" r="3.11" fill="#000000"/>
<polygon points="93.4,892.7 97.66,888.44 101.92,892.7 97.66,896.96" fill="#5fc85f"/>
<circle cx="97.66" cy="884.69" r="3.11" fill="#000000"/>
<polygon points="106.46,892.7 110.72,888.44 114.98,892.7 110.72,896.96" fill="#5fc85f"/>
<circle cx="110.72" cy="884.69" r="3.11" fill="#000000"/>
<polygon points="117.81,892.7 126.81,887.9 126.81,897.5" fill="#ff00ff"/>
<polygon points="119.52,885.08 123.78,880.82 128.04,885.08 123.78,889.34" fill="#5fc85f"/>
<circle cx="123.78" cy="877.07" r="3.11" fill="#000000"/>
<polygon points="130.87,892.7 139.87,887.9 139.87,897.5" fill="#ff00ff"/>
<polygon points="132.58,885.08 136.84,880.82 141.1,885.08 136.84,889.34" fill="#5fc85f"/>
<circle cx="136.84" cy="877.07" r="3.11" fill="#000000"/>
<polygon points="143.93,892.7 152.93,887.9 152.93,897.5" fill="#ff00ff"/>
<polygon points="145.64,885.08 149.9,880.82 154.16,885.08 149.9,889.34" fill="#5fc85f"/>
<circle cx="149.9" cy="877.07" r="3.11" fill="#000000"/>
<polygon points="156.99,892.7 165.99,887.9 165.99,897.5" fill="#ff00ff"/>
<polygon points="158.7,885.08 162.96,880.82 167.22,885.08 162.96,889.34" fill="#5fc85f"/>
<circle cx="162.96" cy="877.07" r="3.11" fill="#000000"/>
<circle cx="162.96" cy="869.45" r="3.11" fill="#000000"/>
<polygon points="170.05,892.7 179.05,887.9 179.05,897.5" fill="#ff00ff"/>
<polygon points="182.48,885.08 173.47,880.28 173.47,889.88" fill="#ff9600"/>
<polygon points="171.76,877.46 176.02,873.2 180.28,877.46 176.02,881.72" fill="#5fc85f"/>
<polygon points="171.76,869.84 176.02,865.58 180.28,869.84 176.02,874.1" fill="#5fc85f"/>
<circle cx="176.02" cy="861.83" r="3.11" fill="#000000"/>
<polygon points="183.11,892.7 192.11,887.9 192.11,897.5" fill="#ff00ff"/>
<polygon points="195.54,885.08 186.53,880.28 186.53,889.88" fill="#ff9600"/>
<polygon points="189.08,872.08 193.49,880.3 184.67,880.3" fill="#0000ff"/>
<polygon points="184.82,869.84 189.08,865.58 193.34,869.84 189.08,874.1" fill="#5fc85f"/>
<polygon points="184.82,862.22 189.08,857.96 193.34,862.22 189.08,866.48" fill="#5fc85f"/>
<circle cx="189.08" cy="854.21" r="3.11" fill="#000000"/>
<circle cx="189.08" cy="846.59" r="3.11" fill="#000000"/>
<circle cx="189.08" cy="838.97" r="3.11" fill="#000000"/>
<polygon points="196.17,892.7 205.17,887.9 205.17,897.5" fill="#ff00ff"/>
<polygon points="208.6,885.08 199.59,880.28 199.59,889.88" fill="#ff9600"/>
<polygon points="197.88,877.46 202.14,873.2 206.4,877.46 202.14,881.72" fill="#5fc85f"/>
<circle cx="202.14" cy="869.45" r="3.11" fill="#000000"/>
<polygon points="209.23,892.7 218.23,887.9 218.23,897.5" fill="#ff00ff"/>
<polygon points="209.23,885.08 218.23,880.28 218.23,889.88" fill="#ff00ff"/>
<polygon points="221.66,877.46 212.65,872.66 212.65,882.26" fill="#ff9600"/>
<polygon points="210.94,869.84 215.2,865.58 219.46,869.84 215.2,874.1" fill="#5fc85f"/>
<circle cx="215.2" cy="861.83" r="3.11" fill="#000000"/>
<circle cx="215.2" cy="854.21" r="3.11" fill="#000000"/>
<circle cx="215.2" cy="846.59" r="3.11" fill="#000000"/>
<circle cx="215.2" cy="838.97" r="3.11" fill="#000000"/>
<polygon points="222.29,892.7 231.29,887.9 231.29,897.5" fill="#ff00ff"/>
<polygon points="234.72,885.08 225.71,880.28 225.71,889.88" fill="#ff9600"/>
<polygon points="224,877.46 228.26,873.2 232.52,877.46 228.26,881.72" fill="#5fc85f"/>
<polygon points="224,869.84 228.26,865.58 232.52,869.84 228.26,874.1" fill="#5fc85f"/>
<circle cx="228.26" cy="861.83" r="3.11" fill="#000000"/>
<circle cx="228.26" cy="854.21" r="3.11" fill="#000000"/>
<circle cx="228.26" cy="846.59" r="3.11" fill="#000000"/>
<polygon points="235.35,892.7 244.35,887.9 244.35,897.5" fill="#ff00ff"/>
<polygon points="247.78,885.08 238.77,880.28 238.77,889.88" fill="#ff9600"/>
<polygon points="237.06,877.46 241.32,873.2 245.58,877.46 241.32,881.72" fill="#5fc85f"/>
<circle cx="241.32" cy="869.45" r="3.11" fill="#000000"/>
<circle cx="241.32" cy="861.83" r="3.11" fill="#000000"/>
<polygon points="248.41,892.7 257.41,887.9 257.41,897.5" fill="#ff00ff"/>
<polygon points="260.84,885.08 251.83,880.28 251.83,889.88" fill="#ff9600"/>
<polygon points="254.38,872.08 258.79,880.3 249.97,880.3" fill="#0000ff"/>
<polygon points="250.12,869.84 254.38,865.58 258.64,869.84 254.38,874.1" fill="#5fc85f"/>
<circle cx="254.38" cy="861.83" r="3.11" fill="#000000"/>
<circle cx="254.38" cy="854.21" r="3.11" fill="#000000"/>
<circle cx="254.38" cy="846.59" r="3.11" fill="#000000"/>
<circle cx="254.38" cy="838.97" r="3.11" fill="#000000"/>
<circle cx="254.38" cy="831.35" r="3.11" fill="#000000"/>
<polygon points="261.47,892.7 270.47,887.9 270.47,897.5" fill="#ff00ff"/>
<polygon points="273.9,885.08 264.89,880.28 264.89,889.88" fill="#ff9600"/>
<polygon points="273.9,877.46 264.89,872.66 264.89,882.26" fill="#ff9600"/>
<polygon points="267.44,864.46 271.85,872.68 263.03,872.68" fill="#0000ff"/>
<polygon points="263.18,862.22 267.44,857.96 271.7,862.22 267.44,866.48" fill="#5fc85f"/>
<circle cx="267.44" cy="854.21" r="3.11" fill="#000000"/>
<circle cx="267.44" cy="846.59" r="3.11" fill="#000000"/>
<circle cx="267.44" cy="838.97" r="3.11" fill="#000000"/>
<circle cx="267.44" cy="831.35" r="3.11" fill="#000000"/>
<circle cx="267.44" cy="823.73" r="3.11" fill="#000000"/>
<polygon points="274.53,892.7 283.53,887.9 283.53,897.5" fill="#ff00ff"/>
<polygon points="274.53,885.08 283.53,880.28 283.53,889.88" fill="#ff00ff"/>
<polygon points="286.96,877.46 277.95,872.66 277.95,882.26" fill="#ff9600"/>
<polygon points="286.96,869.84 277.95,865.04 277.95,874.64" fill="#ff9600"/>
<polygon points="276.24,862.22 280.5,857.96 284.76,862.22 280.5,866.48" fill="#5fc85f"/>
<circle cx="280.5" cy="854.21" r="3.11" fill="#000000"/>
<circle cx="280.5" cy="846.59" r="3.11" fill="#000000"/>
<circle cx="280.5" cy="838.97" r="3.11" fill="#000000"/>
<circle cx="280.5" cy="831.35" r="3.11" fill="#000000"/>
<circle cx="280.5" cy="823.73" r="3.11" fill="#000000"/>
<circle cx="280.5" cy="816.11" r="3.11" fill="#000000"/>
<polygon points="287.59,892.7 296.59,887.9 296.59,897.5" fill="#ff00ff"/>
<polygon points="287.59,885.08 296.59,880.28 296.59,889.88" fill="#ff00ff"/>
<polygon points="287.59,877.46 296.59,872.66 296.59,882.26" fill="#ff00ff"/>
<polygon points="300.02,869.84 291.01,865.04 291.01,874.64" fill="#ff9600"/>
<polygon points="293.56,856.84 297.97,865.06 289.15,865.06" fill="#0000ff"/>
<polygon points="289.3,854.6 293.56,850.34 297.82,854.6 293.56,858.86" fill="#5fc85f"/>
<polygon points="289.3,846.98 293.56,842.72 297.82,846.98 293.56,851.24" fill="#5fc85f"/>
<circle cx="293.56" cy="838.97" r="3.11" fill="#000000"/>
<circle cx="293.56" cy="831.35" r="3.11" fill="#000000"/>
<circle cx="293.56" cy="823.73" r="3.11" fill="#000000"/>
<circle cx="293.56" cy="816.11" r="3.11" fill="#000000"/>
<circle cx="293.56" cy="808.49" r="3.11" fill="#000000"/>
<circle cx="293.56" cy="800.87" r="3.11" fill="#000000"/>
<polygon points="300.65,892.7 309.65,887.9 309.65,897.5" fill="#ff00ff"/>
<polygon points="313.08,885.08 304.07,880.28 304.07,889.88" fill="#ff9600"/>
<polygon points="306.62,872.08 311.03,880.3 302.21,880.3" fill="#0000ff"/>
<polygon points="302.36,869.84 306.62,865.58 310.88,869.84 306.62,874.1" fill="#5fc85f"/>
<polygon points="302.36,862.22 306.62,857.96 310.88,862.22 306.62,866.48" fill="#5fc85f"/>
<rect x="303.59" y="851.57" width="6.07" height="6.07" fill="#ff0000"/>
<circle cx="306.62" cy="846.59" r="3.11" fill="#000000"/>
<circle cx="306.62" cy="838.97" r="3.11" fill="#000000"/>
<circle cx="306.62" cy="831.35" r="3.11" fill="#000000"/>
<circle cx="306.62" cy="823.73" r="3.11" fill="#000000"/>
<circle cx="306.62" cy="816.11" r="3.11" fill="#000000"/>
<circle cx="306.62" cy="808.49" r="3.11" fill="#000000"/>
<circle cx="306.62" cy="800.87" r="3.11" fill="#000000"/>
<circle cx="306.62" cy="793.25" r="3.11" fill="#000000"/>
<circle cx="306.62" cy="785.63" r="3.11" fill="#000000"/>
<polygon points="313.71,892.7 322.71,887.9 322.71,897.5" fill="#ff00ff"/>
<polygon points="313.71,885.08 322.71,880.28 322.71,889.88" fill="#ff00ff"/>
<polygon points="326.14,877.46 317.13,872.66 317.13,882.26" fill="#ff9600"/>
<polygon points="326.14,869.84 317.13,865.04 317.13,874.64" fill="#ff9600"/>
<polygon points="319.68,856.84 324.09,865.06 315.27,865.06" fill="#0000ff"/>
<polygon points="315.42,854.6 319.68,850.34 323.94,854.6 319.68,858.86" fill="#5fc85f"/>
<polygon points="315.42,846.98 319.68,842.72 323.94,846.98 319.68,851.24" fill="#5fc85f"/>
<circle cx="319.68" cy="838.97" r="3.11" fill="#000000"/>
<circle cx="319.68" cy="831.35" r="3.11" fill="#000000"/>
<circle cx="319.68" cy="823.73" r="3.11" fill="#000000"/>
<circle cx="319.68" cy="816.11" r="3.11" fill="#000000"/>
<circle cx="319.68" cy="808.49" r="3.11" fill="#000000"/>
<circle cx="319.68" cy="800.87" r="3.11" fill="#000000"/>
<circle cx="319.68" cy="793.25" r="3.11" fill="#000000"/>
<circle cx="319.68" cy="785.63" r="3.11" fill="#000000"/>
<circle cx="319.68" cy="778.01" r="3.11" fill="#000000"/>
<polygon points="326.77,892.7 335.77,887.9 335.77,897.5" fill="#ff00ff"/>
<polygon points="326.77,885.08 335.77,880.28 335.77,889.88" fill="#ff00ff"/>
<polygon points="339.2,877.46 330.19,872.66 330.19,882.26" fill="#ff9600"/>
<polygon points="339.2,869.84 330.19,865.04 330.19,874.64" fill="#ff9600"/>
<polygon points="332.74,856.84 337.15,865.06 328.33,865.06" fill="#0000ff"/>
<polygon points="328.48,854.6 332.74,850.34 337,854.6 332.74,858.86" fill="#5fc85f"/>
<rect x="329.71" y="843.95" width="6.07" height="6.07" fill="#ff0000"/>
<circle cx="332.74" cy="838.97" r="3.11" fill="#000000"/>
<circle cx="332.74" cy="831.35" r="3.11" fill="#000000"/>
<circle cx="332.74" cy="823.73" r="3.11" fill="#000000"/>
<circle cx="332.74" cy="816.11" r="3.11" fill="#000000"/>
<circle cx="332.74" cy="808.49" r="3.11" fill="#000000"/>
<circle cx="332.74" cy="800.87" r="3.11" fill="#000000"/>
<circle cx="332.74" cy="793.25" r="3.11" fill="#000000"/>
<circle cx="332.74" cy="785.63" r="3.11" fill="#000000"/>
<circle cx="332.74" cy="778.01" r="3.11" fill="#000000"/>
<polygon points="339.83,892.7 348.83,887.9 348.83,897.5" fill="#ff00ff"/>
<polygon points="339.83,885.08 348.83,880.28 348.83,889.88" fill="#ff00ff"/>
<polygon points="339.83,877.46 348.83,872.66 348.83,882.26" fill="#ff00ff"/>
<polygon points="352.26,869.84 343.25,865.04 343.25,874.64" fill="#ff9600"/>
<polygon points="345.8,856.84 350.21,865.06 341.39,865.06" fill="#0000ff"/>
<polygon points="341.54,854.6 345.8,850.34 350.06,854.6 345.8,858.86" fill="#5fc85f"/>
<polygon points="341.54,846.98 345.8,842.72 350.06,846.98 345.8,851.24" fill="#5fc85f"/>
<rect x="342.77" y="836.33" width="6.07" height="6.07" fill="#ff0000"/>
<circle cx="345.8" cy="831.35" r="3.11" fill="#000000"/>
<circle cx="345.8" cy="823.73" r="3.11" fill="#000000"/>
<circle cx="345.8" cy="816.11" r="3.11" fill="#000000"/>
<circle cx="345.8" cy="808.49" r="3.11" fill="#000000"/>
<circle cx="345.8" cy="800.87" r="3.11" fill="#000000"/>
<circle cx="345.8" cy="793.25" r="3.11" fill="#000000"/>
<circle cx="345.8" cy="785.63" r="3.11" fill="#000000"/>
<circle cx="345.8" cy="778.01" r="3.11" fill="#000000"/>
<circle cx="345.8" cy="770.39" r="3.11" fill="#000000"/>
<circle cx="345.8" cy="762.77" r="3.11" fill="#000000"/>
<circle cx="345.8" cy="755.15" r="3.11" fill="#000000"/>
<circle cx="345.8" cy="747.53" r="3.11" fill="#000000"/>
<circle cx="345.8" cy="739.91" r="3.11" fill="#000000"/>
<polygon points="352.89,892.7 361.89,887.9 361.89,897.5" fill="#ff00ff"/>
<polygon points="352.89,885.08 361.89,880.28 361.89,889.88" fill="#ff00ff"/>
<polygon points="352.89,877.46 361.89,872.66 361.89,882.26" fill="#ff00ff"/>
<polygon points="365.32,869.84 356.31,865.04 356.31,874.64" fill="#ff9600"/>
<polygon points="365.32,862.22 356.31,857.42 356.31,867.02" fill="#ff9600"/>
<polygon points="358.86,849.22 363.27,857.44 354.45,857.44" fill="#0000ff"/>
<polygon points="354.6,846.98 358.86,842.72 363.12,846.98 358.86,851.24" fill="#5fc85f"/>
<polygon points="354.6,839.36 358.86,835.1 363.12,839.36 358.86,843.62" fill="#5fc85f"/>
<polygon points="354.6,831.74 358.86,827.48 363.12,831.74 358.86,836" fill="#5fc85f"/>
<rect x="355.83" y="821.09" width="6.07" height="6.07" fill="#ff0000"/>
<circle cx="358.86" cy="816.11" r="3.11" fill="#000000"/>
<circle cx="358.86" cy="808.49" r="3.11" fill="#000000"/>
<circle cx="358.86" cy="800.87" r="3.11" fill="#000000"/>
<circle cx="358.86" cy="793.25" r="3.11" fill="#000000"/>
<circle cx="358.86" cy="785.63" r="3.11" fill="#000000"/>
<circle cx="358.86" cy="778.01" r="3.11" fill="#000000"/>
<circle cx="358.86" cy="770.39" r="3.11" fill="#000000"/>
<circle cx="358.86" cy="762.77" r="3.11" fill="#000000"/>
<circle cx="358.86" cy="755.15" r="3.11" fill="#000000"/>
<circle cx="358.86" cy="747.53" r="3.11" fill="#000000"/>
<circle cx="358.86" cy="739.91" r="3.11" fill="#000000"/>
<circle cx="358.86" cy="732.29" r="3.11" fill="#000000"/>
<circle cx="358.86" cy="724.67" r="3.11" fill="#000000"/>
<polygon points="365.95,892.7 374.95,887.9 374.95,897.5" fill="#ff00ff"/>
<polygon points="365.95,885.08 374.95,880.28 374.95,889.88" fill="#ff00ff"/>
<polygon points="365.95,877.46 374.95,872.66 374.95,882.26" fill="#ff00ff"/>
<polygon points="378.38,869.84 369.37,865.04 369.37,874.64" fill="#ff9600"/>
<polygon points="378.38,862.22 369.37,857.42 369.37,867.02" fill="#ff9600"/>
<polygon points="371.92,849.22 376.33,857.44 367.51,857.44" fill="#0000ff"/>
<polygon points="371.92,841.6 376.33,849.82 367.51,849.82" fill="#0000ff"/>
<polygon points="367.66,839.36 371.92,835.1 376.18,839.36 371.92,843.62" fill="#5fc85f"/>
<polygon points="367.66,831.74 371.92,827.48 376.18,831.74 371.92,836" fill="#5fc85f"/>
<rect x="368.89" y="821.09" width="6.07" height="6.07" fill="#ff0000"/>
<circle cx="371.92" cy="816.11" r="3.11" fill="#000000"/>
<circle cx="371.92" cy="808.49" r="3.11" fill="#000000"/>
<circle cx="371.92" cy="800.87" r="3.11" fill="#000000"/>
<circle cx="371.92" cy="793.25" r="3.11" fill="#000000"/>
<circle cx="371.92" cy="785.63" r="3.11" fill="#000000"/>
<circle cx="371.92" cy="778.01" r="3.11" fill="#000000"/>
<circle cx="371.92" cy="770.39" r="3.11" fill="#000000"/>
<circle cx="371.92" cy="762.77" r="3.11" fill="#000000"/>
<circle cx="371.92" cy="755.15" r="3.11" fill="#000000"/>
<circle cx="371.92" cy="747.53" r="3.11" fill="#000000"/>
<circle cx="371.92" cy="739.91" r="3.11" fill="#000000"/>
<circle cx="371.92" cy="732.29" r="3.11" fill="#000000"/>
<circle cx="371.92" cy="724.67" r="3.11" fill="#000000"/>
<polygon points="379.01,892.7 388.01,887.9 388.01,897.5" fill="#ff00ff"/>
<polygon points="379.01,885.08 388.01,880.28 388.01,889.88" fill="#ff00ff"/>
<polygon points="379.01,877.46 388.01,872.66 388.01,882.26" fill="#ff00ff"/>
<polygon points="379.01,869.84 388.01,865.04 388.01,874.64" fill="#ff00ff"/>
<polygon points="379.01,862.22 388.01,857.42 388.01,867.02" fill="#ff00ff"/>
<polygon points="391.44,854.6 382.43,849.8 382.43,859.4" fill="#ff9600"/>
<polygon points="391.44,846.98 382.43,842.18 382.43,851.78" fill="#ff9600"/>
<polygon points="384.98,833.98 389.39,842.2 380.57,842.2" fill="#0000ff"/>
<polygon points="380.72,831.74 384.98,827.48 389.24,831.74 384.98,836" fill="#5fc85f"/>
<polygon points="380.72,824.12 384.98,819.86 389.24,824.12 384.98,828.38" fill="#5fc85f"/>
<polygon points="380.72,816.5 384.98,812.24 389.24,816.5 384.98,820.76" fill="#5fc85f"/>
<rect x="381.95" y="805.85" width="6.07" height="6.07" fill="#ff0000"/>
<circle cx="384.98" cy="800.87" r="3.11" fill="#000000"/>
<circle cx="384.98" cy="793.25" r="3.11" fill="#000000"/>
<circle cx="384.98" cy="785.63" r="3.11" fill="#000000"/>
<circle cx="384.98" cy="778.01" r="3.11" fill="#000000"/>
<circle cx="384.98" cy="770.39" r="3.11" fill="#000000"/>
<circle cx="384.98" cy="762.77" r="3.11" fill="#000000"/>
<circle cx="384.98" cy="755.15" r="3.11" fill="#000000"/>
<circle cx="384.98" cy="747.53" r="3.11" fill="#000000"/>
<circle cx="384.98" cy="739.91" r="3.11" fill="#000000"/>
<circle cx="384.98" cy="732.29" r="3.11" fill="#000000"/>
<circle cx="384.98" cy="724.67" r="3.11" fill="#000000"/>
<circle cx="384.98" cy="717.05" r="3.11" fill="#000000"/>
<circle cx="384.98" cy="709.43" r="3.11" fill="#000000"/>
<circle cx="384.98" cy="701.81" r="3.11" fill="#000000"/>
<circle cx="384.98" cy="694.19" r="3.11" fill="#000000"/>
<circle cx="384.98" cy="686.57" r="3.11" fill="#000000"/>
<polygon points="392.07,892.7 401.07,887.9 401.07,897.5" fill="#ff00ff"/>
<polygon points="392.07,885.08 401.07,880.28 401.07,889.88" fill="#ff00ff"/>
<polygon points="392.07,877.46 401.07,872.66 401.07,882.26" fill="#ff00ff"/>
<polygon points="392.07,869.84 401.07,865.04 401.07,874.64" fill="#ff00ff"/>
<polygon points="404.5,862.22 395.49,857.42 395.49,867.02" fill="#ff9600"/>
<polygon points="398.04,849.22 402.45,857.44 393.63,857.44" fill="#0000ff"/>
<polygon points="393.78,846.98 398.04,842.72 402.3,846.98 398.04,851.24" fill="#5fc85f"/>
<polygon points="393.78,839.36 398.04,835.1 402.3,839.36 398.04,843.62" fill="#5fc85f"/>
<rect x="395.01" y="828.71" width="6.07" height="6.07" fill="#ff0000"/>
<circle cx="398.04" cy="823.73" r="3.11" fill="#000000"/>
<circle cx="398.04" cy="816.11" r="3.11" fill="#000000"/>
<circle cx="398.04" cy="808.49" r="3.11" fill="#000000"/>
<circle cx="398.04" cy="800.87" r="3.11" fill="#000000"/>
<circle cx="398.04" cy="793.25" r="3.11" fill="#000000"/>
<circle cx="398.04" cy="785.63" r="3.11" fill="#000000"/>
<circle cx="398.04" cy="778.01" r="3.11" fill="#000000"/>
<circle cx="398.04" cy="770.39" r="3.11" fill="#000000"/>
<circle cx="398.04" cy="762.77" r="3.11" fill="#000000"/>
<circle cx="398.04" cy="755.15" r="3.11" fill="#000000"/>
<circle cx="398.04" cy="747.53" r="3.11" fill="#000000"/>
<circle cx="398.04" cy="739.91" r="3.11" fill="#000000"/>
<circle cx="398.04" cy="732.29" r="3.11" fill="#000000"/>
<circle cx="398.04" cy="724.67" r="3.11" fill="#000000"/>
<circle cx="398.04" cy="717.05" r="3.11" fill="#000000"/>
<circle cx="398.04" cy="709.43" r="3.11" fill="#000000"/>
<circle cx="398.04" cy="701.81" r="3.11" fill="#000000"/>
<polygon points="405.13,892.7 414.13,887.9 414.13,897.5" fill="#ff00ff"/>
<polygon points="405.13,885.08 414.13,880.28 414.13,889.88" fill="#ff00ff"/>
<polygon points="405.13,877.46 414.13,872.66 414.13,882.26" fill="#ff00ff"/>
<polygon points="405.13,869.84 414.13,865.04 414.13,874.64" fill="#ff00ff"/>
<polygon points="405.13,862.22 414.13,857.42 414.13,867.02" fill="#ff00ff"/>
<polygon points="417.56,854.6 408.55,849.8 408.55,859.4" fill="#ff9600"/>
<polygon points="411.1,841.6 415.51,849.82 406.69,849.82" fill="#0000ff"/>
<polygon points="406.84,839.36 411.1,835.1 415.36,839.36 411.1,843.62" fill="#5fc85f"/>
<polygon points="406.84,831.74 411.1,827.48 415.36,831.74 411.1,836" fill="#5fc85f"/>
<polygon points="406.84,824.12 411.1,819.86 415.36,824.12 411.1,828.38" fill="#5fc85f"/>
<rect x="408.07" y="813.47" width="6.07" height="6.07" fill="#ff0000"/>
<circle cx="411.1" cy="808.49" r="3.11" fill="#000000"/>
<circle cx="411.1" cy="800.87" r="3.11" fill="#000000"/>
<circle cx="411.1" cy="793.25" r="3.11" fill="#000000"/>
<circle cx="411.1" cy="785.63" r="3.11" fill="#000000"/>
<circle cx="411.1" cy="778.01" r="3.11" fill="#000000"/>
<circle cx="411.1" cy="770.39" r="3.11" fill="#000000"/>
<circle cx="411.1" cy="762.77" r="3.11" fill="#000000"/>
<circle cx="411.1" cy="755.15" r="3.11" fill="#000000"/>
<circle cx="411.1" cy="747.53" r="3.11" fill="#000000"/>
<circle cx="411.1" cy="739.91" r="3.11" fill="#000000"/>
<circle cx="411.1" cy="732.29" r="3.11" fill="#000000"/>
<circle cx="411.1" cy="724.67" r="3.11" fill="#000000"/>
<circle cx="411.1" cy="717.05" r="3.11" fill="#000000"/>
<circle cx="411.1" cy="709.43" r="3.11" fill="#000000"/>
<circle cx="411.1" cy="701.81" r="3.11" fill="#000000"/>
<circle cx="411.1" cy="694.19" r="3.11" fill="#000000"/>
<circle cx="411.1" cy="686.57" r="3.11" fill="#000000"/>
<circle cx="411.1" cy="678.95" r="3.11" fill="#000000"/>
<circle cx="411.1" cy="671.33" r="3.11" fill="#000000"/>
<circle cx="411.1" cy="663.71" r="3.11" fill="#000000"/>
<polygon points="418.19,892.7 427.19,887.9 427.19,897.5" fill="#ff00ff"/>
<polygon points="418.19,885.08 427.19,880.28 427.19,889.88" fill="#ff00ff"/>
<polygon points="418.19,877.46 427.19,872.66 427.19,882.26" fill="#ff00ff"/>
<polygon points="418.19,869.84 427.19,865.04 427.19,874.64" fill="#ff00ff"/>
<polygon points="418.19,862.22 427.19,857.42 427.19,867.02" fill="#ff00ff"/>
<polygon points="430.62,854.6 421.61,849.8 421.61,859.4" fill="#ff9600"/>
<polygon points="424.16,841.6 428.57,849.82 419.75,849.82" fill="#0000ff"/>
<polygon points="424.16,833.98 428.57,842.2 419.75,842.2" fill="#0000ff"/>
<polygon points="419.9,831.74 424.16,827.48 428.42,831.74 424.16,836" fill="#5fc85f"/>
<polygon points="419.9,824.12 424.16,819.86 428.42,824.12 424.16,828.38" fill="#5fc85f"/>
<rect x="421.13" y="813.47" width="6.07" height="6.07" fill="#ff0000"/>
<circle cx="424.16" cy="808.49" r="3.11" fill="#000000"/>
<circle cx="424.16" cy="800.87" r="3.11" fill="#000000"/>
<circle cx="424.16" cy="793.25" r="3.11" fill="#000000"/>
<circle cx="424.16" cy="785.63" r="3.11" fill="#000000"/>
<circle cx="424.16" cy="778.01" r="3.11" fill="#000000"/>
<circle cx="424.16" cy="770.39" r="3.11" fill="#000000"/>
<circle cx="424.16" cy="762.77" r="3.11" fill="#000000"/>
<circle cx="424.16" cy="755.15" r="3.11" fill="#000000"/>
<circle cx="424.16" cy="747.53" r="3.11" fill="#000000"/>
<circle cx="424.16" cy="739.91" r="3.11" fill="#000000"/>
<circle cx="424.16" cy="732.29" r="3.11" fill="#000000"/>
<circle cx="424.16" cy="724.67" r="3.11" fill="#000000"/>
<circle cx="424.16" cy="717.05" r="3.11" fill="#000000"/>
<circle cx="424.16" cy="709.43" r="3.11" fill="#000000"/>
<circle cx="424.16" cy="701.81" r="3.11" fill="#000000"/>
<circle cx="424.16" cy="694.19" r="3.11" fill="#000000"/>
<circle cx="424.16" cy="686.57" r="3.11" fill="#000000"/>
<circle cx="424.16" cy="678.95" r="3.11" fill="#000000"/>
<circle cx="424.16" cy="671.33" r="3.11" fill="#000000"/>
<circle cx="424.16" cy="663.71" r="3.11" fill="#000000"/>
<polygon points="431.25,892.7 440.25,887.9 440.25,897.5" fill="#ff00ff"/>
<polygon points="431.25,885.08 440.25,880.28 440.25,889.88" fill="#ff00ff"/>
<polygon points="431.25,877.46 440.25,872.66 440.25,882.26" fill="#ff00ff"/>
<polygon points="431.25,869.84 440.25,865.04 440.25,874.64" fill="#ff00ff"/>
<polygon points="443.68,862.22 434.67,857.42 434.67,867.02" fill="#ff9600"/>
<polygon points="437.22,849.22 441.63,857.44 432.81,857.44" fill="#0000ff"/>
<polygon points="432.96,846.98 437.22,842.72 441.48,846.98 437.22,851.24" fill="#5fc85f"/>
<polygon points="432.96,839.36 437.22,835.1 441.48,839.36 437.22,843.62" fill="#5fc85f"/>
<polygon points="432.96,831.74 437.22,827.48 441.48,831.74 437.22,836" fill="#5fc85f"/>
<polygon points="432.96,824.12 437.22,819.86 441.48,824.12 437.22,828.38" fill="#5fc85f"/>
<rect x="434.19" y="813.47" width="6.07" height="6.07" fill="#ff0000"/>
<circle cx="437.22" cy="808.49" r="3.11" fill="#000000"/>
<circle cx="437.22" cy="800.87" r="3.11" fill="#000000"/>
<circle cx="437.22" cy="793.25" r="3.11" fill="#000000"/>
<circle cx="437.22" cy="785.63" r="3.11" fill="#000000"/>
<circle cx="437.22" cy="778.01" r="3.11" fill="#000000"/>
<circle cx="437.22" cy="770.39" r="3.11" fill="#000000"/>
<circle cx="437.22" cy="762.77" r="3.11" fill="#000000"/>
<circle cx="437.22" cy="755.15" r="3.11" fill="#000000"/>
<circle cx="437.22" cy="747.53" r="3.11" fill="#000000"/>
<circle cx="437.22" cy="739.91" r="3.11" fill="#000000"/>
<circle cx="437.22" cy="732.29" r="3.11" fill="#000000"/>
<circle cx="437.22" cy="724.67" r="3.11" fill="#000000"/>
<circle cx="437.22" cy="717.05" r="3.11" fill="#000000"/>
<circle cx="437.22" cy="709.43" r="3.11" fill="#000000"/>
<circle cx="437.22" cy="701.81" r="3.11" fill="#000000"/>
<circle cx="437.22" cy="694.19" r="3.11" fill="#000000"/>
<circle cx="437.22" cy="686.57" r="3.11" fill="#000000"/>
<circle cx="437.22" cy="678.95" r="3.11" fill="#000000"/>
<circle cx="437.22" cy="671.33" r="3.11" fill="#000000"/>
<circle cx="437.22" cy="663.71" r="3.11" fill="#000000"/>
<circle cx="437.22" cy="656.09" r="3.11" fill="#000000"/>
<circle cx="437.22" cy="648.47" r="3.11" fill="#000000"/>
<circle cx="437.22" cy="640.85" r="3.11" fill="#000000"/>
<circle cx="437.22" cy="633.23" r="3.11" fill="#000000"/>
<circle cx="437.22" cy="625.61" r="3.11" fill="#000000"/>
<circle cx="437.22" cy="617.99" r="3.11" fill="#000000"/>
<polygon points="444.31,892.7 453.31,887.9 453.31,897.5" fill="#ff00ff"/>
<polygon points="444.31,885.08 453.31,880.28 453.31,889.88" fill="#ff00ff"/>
<polygon points="444.31,877.46 453.31,872.66 453.31,882.26" fill="#ff00ff"/>
<polygon points="444.31,869.84 453.31,865.04 453.31,874.64" fill="#ff00ff"/>
<polygon points="456.74,862.22 447.73,857.42 447.73,867.02" fill="#ff9600"/>
<polygon points="450.28,849.22 454.69,857.44 445.87,857.44" fill="#0000ff"/>
<polygon points="446.02,846.98 450.28,842.72 454.54,846.98 450.28,851.24" fill="#5fc85f"/>
<polygon points="446.02,839.36 450.28,835.1 454.54,839.36 450.28,843.62" fill="#5fc85f"/>
<polygon points="446.02,831.74 450.28,827.48 454.54,831.74 450.28,836" fill="#5fc85f"/>
<polygon points="446.02,824.12 450.28,819.86 454.54,824.12 450.28,828.38" fill="#5fc85f"/>
<polygon points="446.02,816.5 450.28,812.24 454.54,816.5 450.28,820.76" fill="#5fc85f"/>
<rect x="447.25" y="805.85" width="6.07" height="6.07" fill="#ff0000"/>
<circle cx="450.28" cy="800.87" r="3.11" fill="#000000"/>
<circle cx="450.28" cy="793.25" r="3.11" fill="#000000"/>
<circle cx="450.28" cy="785.63" r="3.11" fill="#000000"/>
<circle cx="450.28" cy="778.01" r="3.11" fill="#000000"/>
<circle cx="450.28" cy="770.39" r="3.11" fill="#000000"/>
<circle cx="450.28" cy="762.77" r="3.11" fill="#000000"/>
<circle cx="450.28" cy="755.15" r="3.11" fill="#000000"/>
<circle cx="450.28" cy="747.53" r="3.11" fill="#000000"/>
<circle cx="450.28" cy="739.91" r="3.11" fill="#000000"/>
<circle cx="450.28" cy="732.29" r="3.11" fill="#000000"/>
<circle cx="450.28" cy="724.67" r="3.11" fill="#000000"/>
<circle cx="450.28" cy="717.05" r="3.11" fill="#000000"/>
<circle cx="450.28" cy="709.43" r="3.11" fill="#000000"/>
<circle cx="450.28" cy="701.81" r="3.11" fill="#000000"/>
<circle cx="450.28" cy="694.19" r="3.11" fill="#000000"/>
<circle cx="450.28" cy="686.57" r="3.11" fill="#000000"/>
<circle cx="450.28" cy="678.95" r="3.11" fill="#000000"/>
<circle cx="450.28" cy="671.33" r="3.11" fill="#000000"/>
<circle cx="450.28" cy="663.71" r="3.11" fill="#000000"/>
<circle cx="450.28" cy="656.09" r="3.11" fill="#000000"/>
<circle cx="450.28" cy="648.47" r="3.11" fill="#000000"/>
<circle cx="450.28" cy="640.85" r="3.11" fill="#000000"/>
<circle cx="450.28" cy="633.23" r="3.11" fill="#000000"/>
<circle cx="450.28" cy="625.61" r="3.11" fill="#000000"/>
<circle cx="450.28" cy="617.99" r="3.11" fill="#000000"/>
<polygon points="457.37,892.7 466.37,887.9 466.37,897.5" fill="#ff00ff"/>
<polygon points="457.37,885.08 466.37,880.28 466.37,889.88" fill="#ff00ff"/>
<polygon points="469.8,877.46 460.79,872.66 460.79,882.26" fill="#ff9600"/>
<polygon points="469.8,869.84 460.79,865.04 460.79,874.64" fill="#ff9600"/>
<polygon points="463.34,856.84 467.75,865.06 458.93,865.06" fill="#0000ff"/>
<polygon points="459.08,854.6 463.34,850.34 467.6,854.6 463.34,858.86" fill="#5fc85f"/>
<polygon points="459.08,846.98 463.34,842.72 467.6,846.98 463.34,851.24" fill="#5fc85f"/>
<polygon points="459.08,839.36 463.34,835.1 467.6,839.36 463.34,843.62" fill="#5fc85f"/>
<polygon points="459.08,831.74 463.34,827.48 467.6,831.74 463.34,836" fill="#5fc85f"/>
<polygon points="459.08,824.12 463.34,819.86 467.6,824.12 463.34,828.38" fill="#5fc85f"/>
<rect x="460.31" y="813.47" width="6.07" height="6.07" fill="#ff0000"/>
<circle cx="463.34" cy="808.49" r="3.11" fill="#000000"/>
<circle cx="463.34" cy="800.87" r="3.11" fill="#000000"/>
<circle cx="463.34" cy="793.25" r="3.11" fill="#000000"/>
<circle cx="463.34" cy="785.63" r="3.11" fill="#000000"/>
<circle cx="463.34" cy="778.01" r="3.11" fill="#000000"/>
<circle cx="463.34" cy="770.39" r="3.11" fill="#000000"/>
<circle cx="463.34" cy="762.77" r="3.11" fill="#000000"/>
<circle cx="463.34" cy="755.15" r="3.11" fill="#000000"/>
<circle cx="463.34" cy="747.53" r="3.11" fill="#000000"/>
<circle cx="463.34" cy="739.91" r="3.11" fill="#000000"/>
<circle cx="463.34" cy="732.29" r="3.11" fill="#000000"/>
<circle cx="463.34" cy="724.67" r="3.11" fill="#000000"/>
<circle cx="463.34" cy="717.05" r="3.11" fill="#000000"/>
<circle cx="463.34" cy="709.43" r="3.11" fill="#000000"/>
<circle cx="463.34" cy="701.81" r="3.11" fill="#000000"/>
<circle cx="463.34" cy="694.19" r="3.11" fill="#000000"/>
<circle cx="463.34" cy="686.57" r="3.11" fill="#000000"/>
<circle cx="463.34" cy="678.95" r="3.11" fill="#000000"/>
<circle cx="463.34" cy="671.33" r="3.11" fill="#000000"/>
<circle cx="463.34" cy="663.71" r="3.11" fill="#000000"/>
<circle cx="463.34" cy="656.09" r="3.11" fill="#000000"/>
<circle cx="463.34" cy="648.47" r="3.11" fill="#000000"/>
<circle cx="463.34" cy="640.85" r="3.11" fill="#000000"/>
<circle cx="463.34" cy="633.23" r="3.11" fill="#000000"/>
<circle cx="463.34" cy="625.61" r="3.11" fill="#000000"/>
<circle cx="463.34" cy="617.99" r="3.11" fill="#000000"/>
<circle cx="463.34" cy="610.37" r="3.11" fill="#000000"/>
<circle cx="463.34" cy="602.75" r="3.11" fill="#000000"/>
<polygon points="470.43,892.7 479.43,887.9 479.43,897.5" fill="#ff00ff"/>
<polygon points="470.43,885.08 479.43,880.28 479.43,889.88" fill="#ff00ff"/>
<polygon points="482.86,877.46 473.85,872.66 473.85,882.26" fill="#ff9600"/>
<polygon points="476.4,864.46 480.81,872.68 471.99,872.68" fill="#0000ff"/>
<polygon points="472.14,862.22 476.4,857.96 480.66,862.22 476.4,866.48" fill="#5fc85f"/>
<polygon points="472.14,854.6 476.4,850.34 480.66,854.6 476.4,858.86" fill="#5fc85f"/>
<polygon points="472.14,846.98 476.4,842.72 480.66,846.98 476.4,851.24" fill="#5fc85f"/>
<polygon points="472.14,839.36 476.4,835.1 480.66,839.36 476.4,843.62" fill="#5fc85f"/>
<polygon points="472.14,831.74 476.4,827.48 480.66,831.74 476.4,836" fill="#5fc85f"/>
<rect x="473.37" y="821.09" width="6.07" height="6.07" fill="#ff0000"/>
<circle cx="476.4" cy="816.11" r="3.11" fill="#000000"/>
<circle cx="476.4" cy="808.49" r="3.11" fill="#000000"/>
<circle cx="476.4" cy="800.87" r="3.11" fill="#000000"/>
<circle cx="476.4" cy="793.25" r="3.11" fill="#000000"/>
<circle cx="476.4" cy="785.63" r="3.11" fill="#000000"/>
<circle cx="476.4" cy="778.01" r="3.11" fill="#000000"/>
<circle cx="476.4" cy="770.39" r="3.11" fill="#000000"/>
<circle cx="476.4" cy="762.77" r="3.11" fill="#000000"/>
<circle cx="476.4" cy="755.15" r="3.11" fill="#000000"/>
<circle cx="476.4" cy="747.53" r="3.11" fill="#000000"/>
<circle cx="476.4" cy="739.91" r="3.11" fill="#000000"/>
<circle cx="476.4" cy="732.29" r="3.11" fill="#000000"/>
<circle cx="476.4" cy="724.67" r="3.11" fill="#000000"/>
<circle cx="476.4" cy="717.05" r="3.11" fill="#000000"/>
<circle cx="476.4" cy="709.43" r="3.11" fill="#000000"/>
<circle cx="476.4" cy="701.81" r="3.11" fill="#000000"/>
<circle cx="476.4" cy="694.19" r="3.11" fill="#000000"/>
<circle cx="476.4" cy="686.57" r="3.11" fill="#000000"/>
<circle cx="476.4" cy="678.95" r="3.11" fill="#000000"/>
<circle cx="476.4" cy="671.33" r="3.11" fill="#000000"/>
<circle cx="476.4" cy="663.71" r="3.11" fill="#000000"/>
<circle cx="476.4" cy="656.09" r="3.11" fill="#000000"/>
<circle cx="476.4" cy="648.47" r="3.11" fill="#000000"/>
<circle cx="476.4" cy="640.85" r="3.11" fill="#000000"/>
<circle cx="476.4" cy="633.23" r="3.11" fill="#000000"/>
<circle cx="476.4" cy="625.61" r="3.11" fill="#000000"/>
<circle cx="476.4" cy="617.99" r="3.11" fill="#000000"/>
<circle cx="476.4" cy="610.37" r="3.11" fill="#000000"/>
<circle cx="476.4" cy="602.75" r="3.11" fill="#000000"/>
<polygon points="483.49,892.7 492.49,887.9 492.49,897.5" fill="#ff00ff"/>
<polygon points="495.92,885.08 486.91,880.28 486.91,889.88" fill="#ff9600"/>
<polygon points="485.2,877.46 489.46,873.2 493.72,877.46 489.46,881.72" fill="#5fc85f"/>
<polygon points="485.2,869.84 489.46,865.58 493.72,869.84 489.46,874.1" fill="#5fc85f"/>
<polygon points="485.2,862.22 489.46,857.96 493.72,862.22 489.46,866.48" fill="#5fc85f"/>
<polygon points="485.2,854.6 489.46,850.34 493.72,854.6 489.46,858.86" fill="#5fc85f"/>
<rect x="486.43" y="843.95" width="6.07" height="6.07" fill="#ff0000"/>
<circle cx="489.46" cy="838.97" r="3.11" fill="#000000"/>
<circle cx="489.46" cy="831.35" r="3.11" fill="#000000"/>
<circle cx="489.46" cy="823.73" r="3.11" fill="#000000"/>
<circle cx="489.46" cy="816.11" r="3.11" fill="#000000"/>
<circle cx="489.46" cy="808.49" r="3.11" fill="#000000"/>
<circle cx="489.46" cy="800.87" r="3.11" fill="#000000"/>
<circle cx="489.46" cy="793.25" r="3.11" fill="#000000"/>
<circle cx="489.46" cy="785.63" r="3.11" fill="#000000"/>
<circle cx="489.46" cy="778.01" r="3.11" fill="#000000"/>
<circle cx="489.46" cy="770.39" r="3.11" fill="#000000"/>
<circle cx="489.46" cy="762.77" r="3.11" fill="#000000"/>
<circle cx="489.46" cy="755.15" r="3.11" fill="#000000"/>
<circle cx="489.46" cy="747.53" r="3.11" fill="#000000"/>
<circle cx="489.46" cy="739.91" r="3.11" fill="#000000"/>
<circle cx="489.46" cy="732.29" r="3.11" fill="#000000"/>
<circle cx="489.46" cy="724.67" r="3.11" fill="#000000"/>
<circle cx="489.46" cy="717.05" r="3.11" fill="#000000"/>
<circle cx="489.46" cy="709.43" r="3.11" fill="#000000"/>
<circle cx="489.46" cy="701.81" r="3.11" fill="#000000"/>
<circle cx="489.46" cy="694.19" r="3.11" fill="#000000"/>
<circle cx="489.46" cy="686.57" r="3.11" fill="#000000"/>
<circle cx="489.46" cy="678.95" r="3.11" fill="#000000"/>
<circle cx="489.46" cy="671.33" r="3.11" fill="#000000"/>
<polygon points="496.55,892.7 505.55,887.9 505.55,897.5" fill="#ff00ff"/>
<polygon points="508.98,885.08 499.97,880.28 499.97,889.88" fill="#ff9600"/>
<polygon points="498.26,877.46 502.52,873.2 506.78,877.46 502.52,881.72" fill="#5fc85f"/>
<polygon points="498.26,869.84 502.52,865.58 506.78,869.84 502.52,874.1" fill="#5fc85f"/>
<rect x="499.49" y="859.19" width="6.07" height="6.07" fill="#ff0000"/>
<circle cx="502.52" cy="854.21" r="3.11" fill="#000000"/>
<circle cx="502.52" cy="846.59" r="3.11" fill="#000000"/>
<circle cx="502.52" cy="838.97" r="3.11" fill="#000000"/>
<circle cx="502.52" cy="831.35" r="3.11" fill="#000000"/>
<circle cx="502.52" cy="823.73" r="3.11" fill="#000000"/>
<circle cx="502.52" cy="816.11" r="3.11" fill="#000000"/>
<circle cx="502.52" cy="808.49" r="3.11" fill="#000000"/>
<circle cx="502.52" cy="800.87" r="3.11" fill="#000000"/>
<circle cx="502.52" cy="793.25" r="3.11" fill="#000000"/>
<circle cx="502.52" cy="785.63" r="3.11" fill="#000000"/>
<circle cx="502.52" cy="778.01" r="3.11" fill="#000000"/>
<circle cx="502.52" cy="770.39" r="3.11" fill="#000000"/>
<circle cx="502.52" cy="762.77" r="3.11" fill="#000000"/>
<circle cx="502.52" cy="755.15" r="3.11" fill="#000000"/>
<circle cx="502.52" cy="747.53" r="3.11" fill="#000000"/>
<circle cx="502.52" cy="739.91" r="3.11" fill="#000000"/>
<circle cx="502.52" cy="732.29" r="3.11" fill="#000000"/>
<circle cx="502.52" cy="724.67" r="3.11" fill="#000000"/>
<circle cx="502.52" cy="717.05" r="3.11" fill="#000000"/>
<circle cx="502.52" cy="709.43" r="3.11" fill="#000000"/>
<polygon points="522.04,892.7 513.03,887.9 513.03,897.5" fill="#ff9600"/>
<polygon points="511.32,885.08 515.58,880.82 519.84,885.08 515.58,889.34" fill="#5fc85f"/>
<circle cx="515.58" cy="877.07" r="3.11" fill="#000000"/>
<circle cx="515.58" cy="869.45" r="3.11" fill="#000000"/>
<circle cx="515.58" cy="861.83" r="3.11" fill="#000000"/>
<circle cx="515.58" cy="854.21" r="3.11" fill="#000000"/>
<circle cx="515.58" cy="846.59" r="3.11" fill="#000000"/>
<circle cx="515.58" cy="838.97" r="3.11" fill="#000000"/>
<circle cx="515.58" cy="831.35" r="3.11" fill="#000000"/>
<circle cx="515.58" cy="823.73" r="3.11" fill="#000000"/>
<circle cx="515.58" cy="816.11" r="3.11" fill="#000000"/>
<circle cx="515.58" cy="808.49" r="3.11" fill="#000000"/>
<circle cx="515.58" cy="800.87" r="3.11" fill="#000000"/>
<circle cx="515.58" cy="793.25" r="3.11" fill="#000000"/>
<circle cx="515.58" cy="785.63" r="3.11" fill="#000000"/>
<polygon points="535.1,892.7 526.09,887.9 526.09,897.5" fill="#ff9600"/>
<polygon points="524.38,885.08 528.64,880.82 532.9,885.08 528.64,889.34" fill="#5fc85f"/>
<circle cx="528.64" cy="877.07" r="3.11" fill="#000000"/>
<circle cx="528.64" cy="869.45" r="3.11" fill="#000000"/>
<circle cx="528.64" cy="861.83" r="3.11" fill="#000000"/>
<circle cx="528.64" cy="854.21" r="3.11" fill="#000000"/>
<circle cx="528.64" cy="846.59" r="3.11" fill="#000000"/>
<circle cx="528.64" cy="838.97" r="3.11" fill="#000000"/>
<circle cx="528.64" cy="831.35" r="3.11" fill="#000000"/>
<circle cx="541.7" cy="892.31" r="3.11" fill="#000000"/>
<circle cx="541.7" cy="884.69" r="3.11" fill="#000000"/>
<circle cx="554.76" cy="892.31" r="3.11" fill="#000000"/>
</g>
<text x="23.4" y="563.5" font-size="39" font-weight="bold" textLength="53.2" lengthAdjust="spacingAndGlyphs">(d)</text>
<text x="57.2" y="610.5" font-size="17.8" textLength="222" lengthAdjust="spacing">Institution (breeding programs)</text>
<circle cx="72.7" cy="626" r="4.9" fill="#000000"/>
<text x="86.6" y="631.9" font-size="14" textLength="35.8" lengthAdjust="spacing">AAFC</text>
<rect x="68.3" y="641.8" width="8.8" height="8.8" fill="#ff0000"/>
<text x="86.6" y="651.9" font-size="14" textLength="42.1" lengthAdjust="spacing">Nutrien</text>
<polygon points="66.8,665.5 72.7,659.6 78.6,665.5 72.7,671.4" fill="#5fc85f"/>
<text x="86.6" y="671.9" font-size="14" textLength="30.6" lengthAdjust="spacing">Secan</text>
<polygon points="72.7,679.9 78.5,688.7 66.9,688.7" fill="#0000ff"/>
<text x="86.6" y="691.8" font-size="14" textLength="51" lengthAdjust="spacing">Syngenta</text>
<polygon points="78.3,705.3 69.3,699.5 69.3,711.1" fill="#ff9600"/>
<text x="86.6" y="710.4" font-size="14" textLength="38.1" lengthAdjust="spacing">U of A</text>
<polygon points="67.2,724.1 76.2,718.3 76.2,729.9" fill="#ff00ff"/>
<text x="86.6" y="730.4" font-size="14" textLength="36.2" lengthAdjust="spacing">U of S</text>
<text x="233.6" y="944.5" font-size="17.2" textLength="118.4" lengthAdjust="spacing">Genetic distance</text>
<text x="12" y="970.6" font-size="15.2" textLength="300.3" lengthAdjust="spacing">Each symbol represents up to 8 observations.</text>
</g>
<g id="panel-e">
<defs>
<pattern id="pCPSW" width="5.35" height="10.7" patternUnits="userSpaceOnUse"><rect width="5.35" height="10.7" fill="#fff"/><path d="M0.7 7.9L4.4 3.3" stroke="#000" stroke-width="1.15"/></pattern>
<pattern id="pCWSP" width="5.35" height="5.35" patternUnits="userSpaceOnUse"><rect width="5.35" height="5.35" fill="#fff"/><path d="M-1 1L1 -1M-1 6.35L6.35 -1M4.35 6.35L6.35 4.35" stroke="#0000ff" stroke-width="1.25"/></pattern>
<pattern id="pCWHWS" width="10.7" height="10.7" patternUnits="userSpaceOnUse"><rect width="10.7" height="10.7" fill="#fff"/><path d="M0 0L10.7 10.7M10.7 0L0 10.7" stroke="#ff0000" stroke-width="0.95"/></pattern>
<pattern id="pCWES" width="5.35" height="5.35" patternUnits="userSpaceOnUse"><rect width="5.35" height="5.35" fill="#fff"/><rect width="2.675" height="2.675" fill="#006400"/><rect x="2.675" y="2.675" width="2.675" height="2.675" fill="#006400"/></pattern>
<pattern id="pCWSWS" width="2.675" height="4" patternUnits="userSpaceOnUse"><rect width="2.675" height="4" fill="#fff"/><rect width="1.3" height="4" fill="#ff00ff"/></pattern>
<pattern id="pCNHR" width="10.7" height="10.7" patternUnits="userSpaceOnUse"><rect width="10.7" height="10.7" fill="#fff"/><rect width="5.35" height="5.35" fill="#339933"/><rect x="5.35" y="5.35" width="5.35" height="5.35" fill="#339933"/></pattern>
</defs>
<rect x="811.72" y="888.99" width="13.77" height="15.71" fill="url(#pCWES)" stroke="#ffc000" stroke-width="1.6"/>
<rect x="825.49" y="900.15" width="13.77" height="4.55" fill="url(#pCWSWS)" stroke="#ff00ff" stroke-width="1.6"/>
<rect x="839.25" y="900.98" width="13.77" height="3.72" fill="#0000ff"/>
<rect x="853.02" y="882.38" width="13.77" height="22.32" fill="url(#pCNHR)" stroke="#339933" stroke-width="1.6"/>
<rect x="866.79" y="902.63" width="13.77" height="2.07" fill="#ff9900"/>
<rect x="902.03" y="903.46" width="13.77" height="1.24" fill="#000000"/>
<rect x="929.57" y="898.5" width="13.77" height="6.2" fill="url(#pCWSP)" stroke="#0000ff" stroke-width="1.6"/>
<rect x="957.12" y="888.99" width="13.77" height="15.71" fill="url(#pCWES)" stroke="#ffc000" stroke-width="1.6"/>
<rect x="970.88" y="895.61" width="13.77" height="9.09" fill="url(#pCWSWS)" stroke="#ff00ff" stroke-width="1.6"/>
<rect x="984.65" y="900.98" width="13.77" height="3.72" fill="#0000ff"/>
<rect x="998.42" y="854.27" width="13.77" height="50.43" fill="url(#pCNHR)" stroke="#339933" stroke-width="1.6"/>
<rect x="1012.19" y="860.88" width="13.77" height="43.82" fill="#ff9900"/>
<rect x="1047.43" y="872.87" width="13.77" height="31.83" fill="#000000"/>
<rect x="1102.51" y="841.04" width="13.77" height="63.66" fill="url(#pCWES)" stroke="#ffc000" stroke-width="1.6"/>
<rect x="1116.28" y="850.13" width="13.77" height="54.57" fill="url(#pCWSWS)" stroke="#ff00ff" stroke-width="1.6"/>
<rect x="1130.05" y="900.98" width="13.77" height="3.72" fill="#0000ff"/>
<rect x="1143.83" y="692.21" width="13.77" height="212.49" fill="url(#pCNHR)" stroke="#339933" stroke-width="1.6"/>
<rect x="1157.6" y="665.75" width="13.77" height="238.95" fill="#ff9900"/>
<rect x="1192.83" y="745.54" width="13.77" height="159.16" fill="#000000"/>
<rect x="1206.6" y="877" width="13.77" height="27.7" fill="url(#pCPSW)" stroke="#000000" stroke-width="1.6"/>
<rect x="1220.37" y="873.28" width="13.77" height="31.42" fill="url(#pCWSP)" stroke="#0000ff" stroke-width="1.6"/>
<rect x="1234.14" y="865.43" width="13.77" height="39.27" fill="url(#pCWHWS)" stroke="#ff0000" stroke-width="1.6"/>
<rect x="1247.91" y="761.66" width="13.77" height="143.04" fill="url(#pCWES)" stroke="#ffc000" stroke-width="1.6"/>
<rect x="1261.68" y="804.66" width="13.77" height="100.04" fill="url(#pCWSWS)" stroke="#ff00ff" stroke-width="1.6"/>
<rect x="1275.45" y="824.91" width="13.77" height="79.79" fill="#0000ff"/>
<rect x="1289.22" y="777.37" width="13.77" height="127.33" fill="url(#pCNHR)" stroke="#339933" stroke-width="1.6"/>
<rect x="1302.99" y="784.4" width="13.77" height="120.3" fill="#ff9900"/>
<rect x="1338.23" y="688.49" width="13.77" height="216.21" fill="#000000"/>
<rect x="1352" y="822.02" width="13.77" height="82.68" fill="url(#pCPSW)" stroke="#000000" stroke-width="1.6"/>
<rect x="1365.77" y="754.22" width="13.77" height="150.48" fill="url(#pCWSP)" stroke="#0000ff" stroke-width="1.6"/>
<rect x="1379.54" y="786.47" width="13.77" height="118.23" fill="url(#pCWHWS)" stroke="#ff0000" stroke-width="1.6"/>
<rect x="1393.31" y="851.78" width="13.77" height="52.92" fill="url(#pCWES)" stroke="#ffc000" stroke-width="1.6"/>
<rect x="1407.08" y="822.85" width="13.77" height="81.85" fill="url(#pCWSWS)" stroke="#ff00ff" stroke-width="1.6"/>
<rect x="1420.86" y="645.91" width="13.77" height="258.79" fill="#0000ff"/>
<rect x="1434.62" y="903.87" width="13.77" height="0.83" fill="url(#pCNHR)" stroke="#339933" stroke-width="1.6"/>
<rect x="1448.39" y="898.91" width="13.77" height="5.79" fill="#ff9900"/>
<rect x="1483.63" y="903.46" width="13.77" height="1.24" fill="#000000"/>
<rect x="1497.4" y="601.68" width="13.77" height="303.02" fill="url(#pCPSW)" stroke="#000000" stroke-width="1.6"/>
<rect x="1511.17" y="679.4" width="13.77" height="225.3" fill="url(#pCWSP)" stroke="#0000ff" stroke-width="1.6"/>
<rect x="1524.94" y="648.81" width="13.77" height="255.89" fill="url(#pCWHWS)" stroke="#ff0000" stroke-width="1.6"/>
<rect x="1538.71" y="782.75" width="13.77" height="121.95" fill="url(#pCWES)" stroke="#ffc000" stroke-width="1.6"/>
<rect x="1552.48" y="740.99" width="13.77" height="163.71" fill="url(#pCWSWS)" stroke="#ff00ff" stroke-width="1.6"/>
<rect x="1566.26" y="844.34" width="13.77" height="60.36" fill="#0000ff"/>
<rect x="1580.03" y="810.03" width="13.77" height="94.67" fill="url(#pCNHR)" stroke="#339933" stroke-width="1.6"/>
<rect x="1593.8" y="898.91" width="13.77" height="5.79" fill="#ff9900"/>
<path d="M745.9 573.98V904.7M738.7 904.7H1618.3M738.7 863.36h7.2M738.7 822.02h7.2M738.7 780.68h7.2M738.7 739.34h7.2M738.7 698h7.2M738.7 656.66h7.2M738.7 615.32h7.2M738.7 573.98h7.2M745.9 904.7v6.4M891.3 904.7v6.4M1036.7 904.7v6.4M1182.1 904.7v6.4M1327.5 904.7v6.4M1472.9 904.7v6.4M1618.3 904.7v6.4" stroke="#bfbfbf" stroke-width="1.3" fill="none"/>
<text x="726.3" y="910.8" font-size="20" text-anchor="end">0</text>
<text x="726.3" y="869.46" font-size="20" text-anchor="end">10</text>
<text x="726.3" y="828.12" font-size="20" text-anchor="end">20</text>
<text x="726.3" y="786.78" font-size="20" text-anchor="end">30</text>
<text x="726.3" y="745.44" font-size="20" text-anchor="end">40</text>
<text x="726.3" y="704.1" font-size="20" text-anchor="end">50</text>
<text x="726.3" y="662.76" font-size="20" text-anchor="end">60</text>
<text x="726.3" y="621.42" font-size="20" text-anchor="end">70</text>
<text x="726.3" y="580.08" font-size="20" text-anchor="end">80</text>
<text x="818.6" y="933.9" font-size="19" text-anchor="middle" textLength="59.5" lengthAdjust="spacing">&lt; 0.050</text>
<text x="964" y="933.9" font-size="19" text-anchor="middle" textLength="94" lengthAdjust="spacing">0.051-0.100</text>
<text x="1109.4" y="933.9" font-size="19" text-anchor="middle" textLength="94" lengthAdjust="spacing">0.101-0.200</text>
<text x="1254.8" y="933.9" font-size="19" text-anchor="middle" textLength="94" lengthAdjust="spacing">0.201-0.310</text>
<text x="1400.2" y="933.9" font-size="19" text-anchor="middle" textLength="94" lengthAdjust="spacing">0.301-0.400</text>
<text x="1545.6" y="933.9" font-size="19" text-anchor="middle" textLength="54.5" lengthAdjust="spacing">&gt;0.400</text>
<text x="1106.5" y="962.9" font-size="21.6" font-weight="bold" textLength="151.6" lengthAdjust="spacing">Genetic distance</text>
<text transform="translate(681.2 829.6) rotate(-90)" font-size="21.5" font-weight="bold" textLength="197.5" lengthAdjust="spacing">Pairs of cultivars (%)</text>
<rect x="832.2" y="616.65" width="9.5" height="9.5" fill="#000000"/>
<text x="846.1" y="627.1" font-size="17.6" textLength="65.9" lengthAdjust="spacing">All (196)</text>
<rect x="832.85" y="639.53" width="8.2" height="8.2" fill="url(#pCPSW)" stroke="#000000" stroke-width="1.3"/>
<text x="846.1" y="649.33" font-size="17.6" textLength="73.8" lengthAdjust="spacing">CPSW (6)</text>
<rect x="832.85" y="661.76" width="8.2" height="8.2" fill="url(#pCWSP)" stroke="#0000ff" stroke-width="1.3"/>
<text x="846.1" y="671.56" font-size="17.6" textLength="83.5" lengthAdjust="spacing">CWSP (12)</text>
<rect x="832.85" y="683.99" width="8.2" height="8.2" fill="url(#pCWHWS)" stroke="#ff0000" stroke-width="1.3"/>
<text x="846.1" y="693.79" font-size="17.6" textLength="94" lengthAdjust="spacing">CWHWS (7)</text>
<rect x="832.85" y="706.22" width="8.2" height="8.2" fill="url(#pCWES)" stroke="#ffc000" stroke-width="1.3"/>
<text x="846.1" y="716.02" font-size="17.6" textLength="84.3" lengthAdjust="spacing">CWES (13)</text>
<rect x="832.85" y="728.45" width="8.2" height="8.2" fill="url(#pCWSWS)" stroke="#ff00ff" stroke-width="1.3"/>
<text x="846.1" y="738.25" font-size="17.6" textLength="99.6" lengthAdjust="spacing">CWSWS (14)</text>
<rect x="832.2" y="750.03" width="9.5" height="9.5" fill="#0000ff"/>
<text x="846.1" y="760.48" font-size="17.6" textLength="78.3" lengthAdjust="spacing">CPSR (19)</text>
<rect x="832.85" y="772.91" width="8.2" height="8.2" fill="url(#pCNHR)" stroke="#339933" stroke-width="1.3"/>
<text x="846.1" y="782.71" font-size="17.6" textLength="84.3" lengthAdjust="spacing">CNHR (36)</text>
<rect x="832.2" y="794.49" width="9.5" height="9.5" fill="#ff9900"/>
<text x="846.1" y="804.94" font-size="17.6" textLength="84.8" lengthAdjust="spacing">CWRS (89)</text>
</g>
</svg></body></html>
